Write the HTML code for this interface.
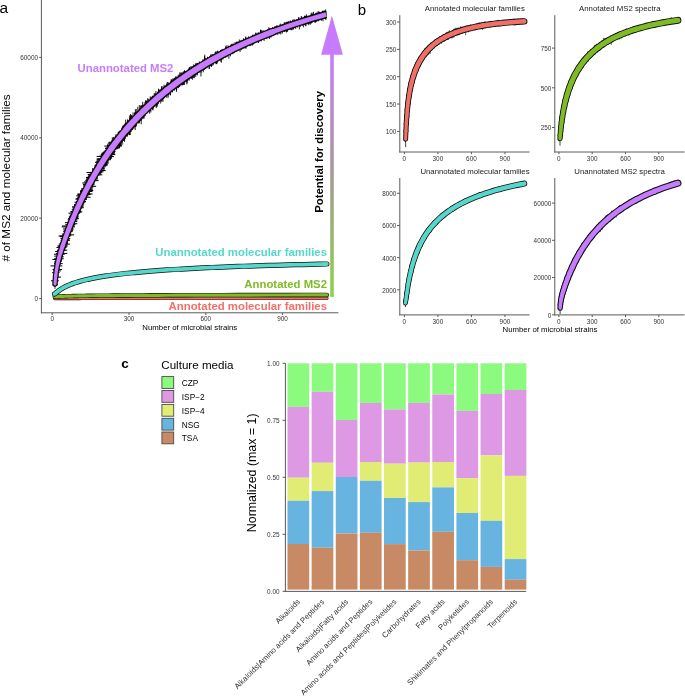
<!DOCTYPE html>
<html><head><meta charset="utf-8"><style>
html,body{margin:0;padding:0;background:#fff;}
svg{display:block;will-change:transform;font-family:"Liberation Sans", sans-serif;}
</style></head><body>
<svg width="685" height="696" viewBox="0 0 685 696">
<rect width="685" height="696" fill="#fff"/>
<text x="-0.6" y="12.6" font-size="15.5" text-anchor="start" font-weight="normal" fill="#000">a</text>
<line x1="41.4" y1="0" x2="41.4" y2="313.3" stroke="#5A5A5A" stroke-width="1"/>
<line x1="40.9" y1="312.8" x2="338.4" y2="312.8" stroke="#5A5A5A" stroke-width="1"/>
<line x1="39.2" y1="298.6" x2="41.4" y2="298.6" stroke="#5A5A5A" stroke-width="1"/>
<text x="38.0" y="300.90000000000003" font-size="6.4" text-anchor="end" font-weight="normal" fill="#333333">0</text>
<line x1="39.2" y1="218.20000000000002" x2="41.4" y2="218.20000000000002" stroke="#5A5A5A" stroke-width="1"/>
<text x="38.0" y="220.50000000000003" font-size="6.4" text-anchor="end" font-weight="normal" fill="#333333">20000</text>
<line x1="39.2" y1="137.8" x2="41.4" y2="137.8" stroke="#5A5A5A" stroke-width="1"/>
<text x="38.0" y="140.10000000000002" font-size="6.4" text-anchor="end" font-weight="normal" fill="#333333">40000</text>
<line x1="39.2" y1="57.400000000000006" x2="41.4" y2="57.400000000000006" stroke="#5A5A5A" stroke-width="1"/>
<text x="38.0" y="59.7" font-size="6.4" text-anchor="end" font-weight="normal" fill="#333333">60000</text>
<line x1="52.2" y1="312.8" x2="52.2" y2="315.0" stroke="#5A5A5A" stroke-width="1"/>
<text x="52.2" y="320.6" font-size="6.4" text-anchor="middle" font-weight="normal" fill="#333333">0</text>
<line x1="129.0" y1="312.8" x2="129.0" y2="315.0" stroke="#5A5A5A" stroke-width="1"/>
<text x="129.0" y="320.6" font-size="6.4" text-anchor="middle" font-weight="normal" fill="#333333">300</text>
<line x1="205.8" y1="312.8" x2="205.8" y2="315.0" stroke="#5A5A5A" stroke-width="1"/>
<text x="205.8" y="320.6" font-size="6.4" text-anchor="middle" font-weight="normal" fill="#333333">600</text>
<line x1="282.6" y1="312.8" x2="282.6" y2="315.0" stroke="#5A5A5A" stroke-width="1"/>
<text x="282.6" y="320.6" font-size="6.4" text-anchor="middle" font-weight="normal" fill="#333333">900</text>
<text x="189.8" y="329.7" font-size="7.8" text-anchor="middle" font-weight="normal" fill="#000">Number of microbial strains</text>
<text x="9.7" y="177.9" font-size="11.75" text-anchor="middle" font-weight="normal" fill="#000" transform="rotate(-90 9.7 177.9)"># of MS2 and molecular families</text>
<path d="M54.76,298.54 L54.97,298.53 L55.20,298.53 L55.45,298.52 L55.71,298.52 L56.00,298.52 L56.32,298.51 L56.66,298.51 L57.03,298.50 L57.42,298.50 L57.85,298.50 L58.32,298.49 L58.83,298.49 L59.37,298.49 L59.96,298.48 L60.60,298.48 L61.30,298.47 L62.05,298.47 L62.86,298.47 L63.74,298.46 L64.69,298.46 L65.72,298.46 L66.84,298.45 L68.04,298.45 L69.35,298.45 L70.76,298.44 L72.29,298.44 L73.95,298.44 L75.75,298.43 L77.69,298.43 L79.79,298.43 L82.07,298.42 L84.53,298.42 L87.19,298.42 L90.08,298.41 L93.20,298.41 L96.59,298.41 L100.25,298.41 L104.21,298.40 L108.50,298.40 L113.14,298.40 L118.17,298.39 L123.61,298.39 L129.50,298.39 L135.87,298.39 L142.77,298.38 L150.24,298.38 L158.33,298.38 L167.08,298.38 L176.56,298.37 L186.81,298.37 L197.91,298.37 L209.93,298.37 L222.94,298.37 L237.02,298.36 L252.27,298.36 L268.77,298.36 L286.63,298.36 L305.96,298.36 L326.89,298.36" fill="none" stroke="#111" stroke-width="3.4" stroke-linecap="round"/><path d="M54.76,298.54 L54.97,298.53 L55.20,298.53 L55.45,298.52 L55.71,298.52 L56.00,298.52 L56.32,298.51 L56.66,298.51 L57.03,298.50 L57.42,298.50 L57.85,298.50 L58.32,298.49 L58.83,298.49 L59.37,298.49 L59.96,298.48 L60.60,298.48 L61.30,298.47 L62.05,298.47 L62.86,298.47 L63.74,298.46 L64.69,298.46 L65.72,298.46 L66.84,298.45 L68.04,298.45 L69.35,298.45 L70.76,298.44 L72.29,298.44 L73.95,298.44 L75.75,298.43 L77.69,298.43 L79.79,298.43 L82.07,298.42 L84.53,298.42 L87.19,298.42 L90.08,298.41 L93.20,298.41 L96.59,298.41 L100.25,298.41 L104.21,298.40 L108.50,298.40 L113.14,298.40 L118.17,298.39 L123.61,298.39 L129.50,298.39 L135.87,298.39 L142.77,298.38 L150.24,298.38 L158.33,298.38 L167.08,298.38 L176.56,298.37 L186.81,298.37 L197.91,298.37 L209.93,298.37 L222.94,298.37 L237.02,298.36 L252.27,298.36 L268.77,298.36 L286.63,298.36 L305.96,298.36 L326.89,298.36" fill="none" stroke="#F07068" stroke-width="2.2" stroke-linecap="round"/>
<path d="M54.76,296.76 L54.97,296.74 L55.20,296.72 L55.45,296.70 L55.71,296.68 L56.00,296.65 L56.32,296.63 L56.66,296.61 L57.03,296.58 L57.42,296.56 L57.85,296.54 L58.32,296.51 L58.83,296.48 L59.37,296.46 L59.96,296.43 L60.60,296.40 L61.30,296.38 L62.05,296.35 L62.86,296.32 L63.74,296.29 L64.69,296.26 L65.72,296.22 L66.84,296.19 L68.04,296.16 L69.35,296.13 L70.76,296.09 L72.29,296.06 L73.95,296.02 L75.75,295.99 L77.69,295.95 L79.79,295.91 L82.07,295.88 L84.53,295.84 L87.19,295.80 L90.08,295.77 L93.20,295.73 L96.59,295.69 L100.25,295.65 L104.21,295.61 L108.50,295.58 L113.14,295.54 L118.17,295.50 L123.61,295.46 L129.50,295.43 L135.87,295.39 L142.77,295.35 L150.24,295.32 L158.33,295.28 L167.08,295.25 L176.56,295.21 L186.81,295.18 L197.91,295.15 L209.93,295.11 L222.94,295.08 L237.02,295.06 L252.27,295.03 L268.77,295.00 L286.63,294.98 L305.96,294.95 L326.89,294.93" fill="none" stroke="#111" stroke-width="4.4" stroke-linecap="round"/><path d="M54.76,296.76 L54.97,296.74 L55.20,296.72 L55.45,296.70 L55.71,296.68 L56.00,296.65 L56.32,296.63 L56.66,296.61 L57.03,296.58 L57.42,296.56 L57.85,296.54 L58.32,296.51 L58.83,296.48 L59.37,296.46 L59.96,296.43 L60.60,296.40 L61.30,296.38 L62.05,296.35 L62.86,296.32 L63.74,296.29 L64.69,296.26 L65.72,296.22 L66.84,296.19 L68.04,296.16 L69.35,296.13 L70.76,296.09 L72.29,296.06 L73.95,296.02 L75.75,295.99 L77.69,295.95 L79.79,295.91 L82.07,295.88 L84.53,295.84 L87.19,295.80 L90.08,295.77 L93.20,295.73 L96.59,295.69 L100.25,295.65 L104.21,295.61 L108.50,295.58 L113.14,295.54 L118.17,295.50 L123.61,295.46 L129.50,295.43 L135.87,295.39 L142.77,295.35 L150.24,295.32 L158.33,295.28 L167.08,295.25 L176.56,295.21 L186.81,295.18 L197.91,295.15 L209.93,295.11 L222.94,295.08 L237.02,295.06 L252.27,295.03 L268.77,295.00 L286.63,294.98 L305.96,294.95 L326.89,294.93" fill="none" stroke="#7FBB24" stroke-width="3.2" stroke-linecap="round"/>
<line x1="54.50" y1="293.89" x2="54.50" y2="296.89" stroke="#111" stroke-width="0.8"/><path d="M54.50,293.89 L54.57,293.86 L54.65,293.82 L54.72,293.78 L54.80,293.73 L54.88,293.68 L54.96,293.63 L55.04,293.57 L55.13,293.51 L55.22,293.45 L55.31,293.38 L55.41,293.31 L55.51,293.24 L55.61,293.16 L55.71,293.08 L55.82,292.99 L55.93,292.91 L56.04,292.82 L56.16,292.72 L56.28,292.63 L56.40,292.53 L56.53,292.42 L56.66,292.32 L56.80,292.21 L56.94,292.10 L57.09,291.98 L57.24,291.86 L57.39,291.74 L57.55,291.62 L57.71,291.49 L57.88,291.36 L58.05,291.23 L58.23,291.09 L58.41,290.96 L58.60,290.82 L58.80,290.67 L59.00,290.53 L59.21,290.38 L59.42,290.23 L59.64,290.07 L59.87,289.91 L60.10,289.76 L60.35,289.59 L60.59,289.43 L60.85,289.26 L61.12,289.09 L61.39,288.92 L61.67,288.75 L61.96,288.57 L62.25,288.39 L62.56,288.21 L62.88,288.03 L63.20,287.85 L63.54,287.66 L63.89,287.47 L64.24,287.28 L64.61,287.09 L64.99,286.89 L65.38,286.70 L65.78,286.50 L66.20,286.30 L66.62,286.09 L67.06,285.89 L67.52,285.68 L67.99,285.47 L68.47,285.26 L68.96,285.05 L69.48,284.84 L70.00,284.63 L70.55,284.41 L71.11,284.19 L71.68,283.97 L72.28,283.75 L72.89,283.53 L73.52,283.31 L74.17,283.08 L74.84,282.86 L75.54,282.63 L76.25,282.40 L76.98,282.17 L77.74,281.94 L78.52,281.71 L79.32,281.48 L80.15,281.25 L81.00,281.01 L81.88,280.78 L82.79,280.54 L83.72,280.30 L84.68,280.07 L85.67,279.83 L86.70,279.59 L87.75,279.35 L88.84,279.11 L89.95,278.87 L91.11,278.62 L92.29,278.38 L93.52,278.14 L94.78,277.90 L96.08,277.65 L97.42,277.41 L98.80,277.17 L100.22,276.92 L101.69,276.68 L103.20,276.43 L104.75,276.19 L106.36,275.94 L108.01,275.70 L109.71,275.46 L111.47,275.21 L113.28,274.97 L115.14,274.72 L117.07,274.48 L119.05,274.24 L121.09,273.99 L123.19,273.75 L125.36,273.51 L127.59,273.26 L129.89,273.02 L132.26,272.78 L134.71,272.54 L137.22,272.30 L139.82,272.06 L142.49,271.82 L145.25,271.59 L148.09,271.35 L151.02,271.12 L154.04,270.88 L157.14,270.65 L160.35,270.41 L163.65,270.18 L167.05,269.95 L170.56,269.72 L174.17,269.49 L177.89,269.27 L181.73,269.04 L185.68,268.82 L189.76,268.60 L193.96,268.38 L198.28,268.16 L202.74,267.94 L207.34,267.72 L212.07,267.51 L216.96,267.30 L221.98,267.08 L227.17,266.88 L232.51,266.67 L238.01,266.46 L243.68,266.26 L249.53,266.06 L255.55,265.86 L261.76,265.66 L268.16,265.47 L274.75,265.28 L281.54,265.09 L288.54,264.90 L295.76,264.72 L303.19,264.53 L310.86,264.35 L318.75,264.18 L326.89,264.00" fill="none" stroke="#111" stroke-width="5.2" stroke-linecap="round" stroke-linejoin="round"/><path d="M54.50,293.89 L54.57,293.86 L54.65,293.82 L54.72,293.78 L54.80,293.73 L54.88,293.68 L54.96,293.63 L55.04,293.57 L55.13,293.51 L55.22,293.45 L55.31,293.38 L55.41,293.31 L55.51,293.24 L55.61,293.16 L55.71,293.08 L55.82,292.99 L55.93,292.91 L56.04,292.82 L56.16,292.72 L56.28,292.63 L56.40,292.53 L56.53,292.42 L56.66,292.32 L56.80,292.21 L56.94,292.10 L57.09,291.98 L57.24,291.86 L57.39,291.74 L57.55,291.62 L57.71,291.49 L57.88,291.36 L58.05,291.23 L58.23,291.09 L58.41,290.96 L58.60,290.82 L58.80,290.67 L59.00,290.53 L59.21,290.38 L59.42,290.23 L59.64,290.07 L59.87,289.91 L60.10,289.76 L60.35,289.59 L60.59,289.43 L60.85,289.26 L61.12,289.09 L61.39,288.92 L61.67,288.75 L61.96,288.57 L62.25,288.39 L62.56,288.21 L62.88,288.03 L63.20,287.85 L63.54,287.66 L63.89,287.47 L64.24,287.28 L64.61,287.09 L64.99,286.89 L65.38,286.70 L65.78,286.50 L66.20,286.30 L66.62,286.09 L67.06,285.89 L67.52,285.68 L67.99,285.47 L68.47,285.26 L68.96,285.05 L69.48,284.84 L70.00,284.63 L70.55,284.41 L71.11,284.19 L71.68,283.97 L72.28,283.75 L72.89,283.53 L73.52,283.31 L74.17,283.08 L74.84,282.86 L75.54,282.63 L76.25,282.40 L76.98,282.17 L77.74,281.94 L78.52,281.71 L79.32,281.48 L80.15,281.25 L81.00,281.01 L81.88,280.78 L82.79,280.54 L83.72,280.30 L84.68,280.07 L85.67,279.83 L86.70,279.59 L87.75,279.35 L88.84,279.11 L89.95,278.87 L91.11,278.62 L92.29,278.38 L93.52,278.14 L94.78,277.90 L96.08,277.65 L97.42,277.41 L98.80,277.17 L100.22,276.92 L101.69,276.68 L103.20,276.43 L104.75,276.19 L106.36,275.94 L108.01,275.70 L109.71,275.46 L111.47,275.21 L113.28,274.97 L115.14,274.72 L117.07,274.48 L119.05,274.24 L121.09,273.99 L123.19,273.75 L125.36,273.51 L127.59,273.26 L129.89,273.02 L132.26,272.78 L134.71,272.54 L137.22,272.30 L139.82,272.06 L142.49,271.82 L145.25,271.59 L148.09,271.35 L151.02,271.12 L154.04,270.88 L157.14,270.65 L160.35,270.41 L163.65,270.18 L167.05,269.95 L170.56,269.72 L174.17,269.49 L177.89,269.27 L181.73,269.04 L185.68,268.82 L189.76,268.60 L193.96,268.38 L198.28,268.16 L202.74,267.94 L207.34,267.72 L212.07,267.51 L216.96,267.30 L221.98,267.08 L227.17,266.88 L232.51,266.67 L238.01,266.46 L243.68,266.26 L249.53,266.06 L255.55,265.86 L261.76,265.66 L268.16,265.47 L274.75,265.28 L281.54,265.09 L288.54,264.90 L295.76,264.72 L303.19,264.53 L310.86,264.35 L318.75,264.18 L326.89,264.00" fill="none" stroke="#55D8CB" stroke-width="3.8" stroke-linecap="round" stroke-linejoin="round"/>
<path d="M52.53,284.74H58.09M51.04,280.79H58.79M52.98,277.11H60.94M52.15,272.67H59.61M53.47,270.88H60.87M52.59,269.58H62.07M50.47,265.91H62.33M54.10,263.64H62.65M54.56,263.29H60.86M54.10,261.93H60.95M52.41,259.54H62.17M54.16,258.73H63.70M56.02,256.80H63.70M56.17,256.63H62.52M54.25,256.13H62.80M53.91,254.26H64.73M56.03,253.40H67.37M55.23,251.47H63.87M57.56,250.56H65.44M56.92,250.17H67.30M58.16,247.77H65.71M56.50,247.49H66.29M57.40,245.91H67.77M57.92,246.89H67.13M58.90,245.81H66.38M58.76,244.00H67.19M59.96,244.11H69.93M60.17,243.01H67.93M60.70,240.54H69.80M60.52,238.58H70.26M61.68,239.17H69.61M59.94,236.68H68.63M59.79,236.05H69.66M58.62,236.05H69.92M62.68,234.89H74.14M62.08,234.02H70.41M63.29,234.79H70.76M62.93,231.18H72.76M64.22,230.70H73.15M63.07,228.98H73.51M65.10,229.14H73.28M61.78,226.88H74.89M62.01,226.01H74.85M65.25,224.69H75.37M66.99,223.72H77.29M64.87,222.68H74.87M67.93,221.60H77.22M67.66,219.84H75.90M67.99,218.65H78.88M69.43,216.89H78.78M68.85,217.07H78.03M70.72,214.90H78.65M68.47,213.15H80.04M70.39,211.66H81.06M70.70,211.93H82.30M72.31,211.87H81.27M71.75,209.73H80.58M72.22,207.92H81.97M73.93,207.73H83.80M72.05,206.82H83.12M75.15,206.05H83.52M74.46,202.25H83.76M76.17,201.65H86.04M75.95,201.77H85.34M75.32,198.98H86.67M76.63,199.46H86.82M76.37,198.61H86.70M76.22,195.84H88.03M77.46,197.24H90.59M77.42,194.59H90.73M78.18,195.00H87.91M77.42,193.97H92.63M81.12,193.21H89.42M79.99,191.47H92.48M80.27,190.54H93.27M82.59,189.97H91.32M81.89,189.18H93.02M83.32,185.68H93.12M83.53,186.32H96.13M82.93,184.43H92.78M82.31,183.02H94.04M85.55,183.75H93.81M83.90,181.94H94.21M85.33,180.63H98.63M85.84,179.21H96.28M87.62,178.94H98.09M85.95,177.52H96.58M88.60,176.47H96.87M88.11,176.24H97.74M88.69,174.99H99.20M87.67,174.67H98.64M88.06,174.84H102.33M90.29,173.81H100.95M86.49,172.47H100.43M92.05,170.85H102.61M92.36,171.88H103.35M93.20,170.74H104.56M92.94,170.49H105.66M92.29,168.99H104.38M94.50,166.38H103.50M94.81,167.16H103.71M94.61,165.43H104.24M94.95,164.98H107.85M96.58,164.71H105.86M97.08,164.49H107.44M97.26,163.22H106.66M95.03,162.28H107.21M96.95,159.72H108.80M96.47,158.91H110.83M98.51,159.12H109.51M100.22,159.75H110.82M96.69,156.44H109.87M99.13,156.41H110.52M99.51,156.08H112.96M100.06,156.62H113.98M101.61,154.39H115.36M102.04,153.97H114.68M100.76,154.30H114.42M102.51,152.99H114.03M104.31,151.10H113.98M104.62,151.13H114.15M105.55,151.42H115.60M105.04,148.42H115.23M105.95,148.06H119.54M105.51,148.17H117.58M104.30,146.07H117.43M106.95,145.45H121.73M107.16,147.19H120.08M108.87,146.14H120.57M107.42,145.21H121.01M108.05,142.99H120.26M110.46,144.56H120.61M108.62,143.94H123.25M111.34,140.73H121.32M108.75,142.20H122.98M111.94,141.23H122.69M112.80,139.76H124.88M112.11,140.31H123.91" stroke="#000" stroke-width="1.0" fill="none"/>
<line x1="55.02" y1="283.91" x2="55.02" y2="288.91" stroke="#111" stroke-width="0.8"/><path d="M55.02,279.55V287.00M55.17,277.37V284.63M55.32,277.25V284.16M55.48,271.39V280.82M55.63,271.45V280.21M55.78,272.63V280.81M55.94,270.83V278.27M56.09,267.81V277.30M56.24,268.43V276.19M56.40,266.95V273.99M56.55,266.83V273.20M56.71,264.16V271.81M56.86,262.74V273.09M57.01,263.96V271.42M57.17,259.76V268.68M57.32,260.87V270.15M57.47,259.58V268.39M57.63,257.26V268.32M57.78,259.10V266.36M57.93,257.47V266.58M58.09,258.19V266.00M58.24,257.76V266.59M58.40,256.94V263.44M58.55,254.12V265.01M58.70,255.79V266.55M58.86,253.57V264.38M59.01,249.91V261.19M59.16,251.10V264.52M59.32,250.52V261.94M59.47,249.78V260.46M59.62,250.05V260.89M59.78,250.07V260.49M59.93,249.90V260.61M60.08,247.14V262.56M60.24,244.71V257.83M60.39,248.74V256.52M60.55,248.44V256.10M60.70,242.81V258.51M60.85,243.26V257.98M61.01,243.35V256.76M61.16,244.33V256.95M61.31,242.07V254.69M61.47,241.52V261.72M61.62,243.62V256.00M61.77,241.52V255.59M61.93,243.34V256.50M62.08,240.66V255.71M62.24,240.64V252.20M62.39,239.97V256.51M62.54,241.01V250.14M62.70,241.53V249.88M62.85,237.77V249.33M63.00,240.77V252.77M63.16,234.50V248.64M63.31,237.55V247.96M63.46,237.61V249.66M63.62,238.90V250.17M63.77,236.72V246.74M63.92,237.41V246.54M64.08,235.46V248.53M64.23,236.57V246.82M64.39,236.15V244.65M64.54,232.14V244.41M64.69,231.77V245.72M64.85,234.66V249.90M65.00,234.87V243.38M65.15,234.23V243.81M65.31,233.12V245.13M65.46,233.03V243.36M65.61,233.17V244.99M65.77,232.29V241.21M65.92,232.17V241.72M66.08,230.45V245.17M66.23,230.32V240.26M66.38,230.46V240.28M66.54,228.88V239.47M66.69,228.52V239.60M66.84,229.47V242.60M67.00,228.01V241.10M67.15,226.12V237.73M67.30,223.98V239.55M67.46,228.02V244.15M67.61,226.89V240.46M67.76,223.59V237.36M67.92,223.26V236.12M68.07,226.01V240.04M68.23,221.45V234.47M68.38,225.30V237.70M68.53,223.48V234.68M68.69,224.02V233.29M68.84,221.75V234.96M68.99,224.30V234.44M69.15,222.25V235.10M69.30,222.44V232.32M69.45,222.16V234.10M69.61,217.77V232.38M69.76,222.34V231.13M69.92,216.81V230.92M70.07,219.86V232.09M70.22,214.30V230.04M70.38,218.16V229.80M70.53,218.70V228.27M70.68,217.83V236.46M70.84,219.43V229.15M70.99,217.30V232.38M71.14,215.51V227.66M71.30,217.73V228.76M71.45,216.61V226.05M71.60,215.09V231.65M71.76,217.05V225.31M71.91,216.55V228.97M72.07,216.70V228.99M72.22,213.41V224.61M72.37,215.43V226.11M72.53,212.43V227.98M72.68,212.46V223.96M72.83,212.89V227.27M72.99,211.34V223.71M73.14,212.67V223.28M73.29,210.64V222.18M73.45,210.07V223.89M73.60,210.46V221.33M73.76,210.57V222.43M73.91,211.58V222.83M74.06,211.80V220.69M74.22,208.82V221.20M74.37,209.94V222.63M74.52,204.01V224.71M74.68,210.39V218.83M74.83,205.48V218.18M74.98,206.85V217.80M75.14,208.12V219.64M75.29,204.08V221.17M75.44,206.76V218.71M75.60,208.02V216.67M75.75,206.20V216.69M75.91,206.22V218.05M76.06,206.29V218.12M76.21,203.57V214.69M76.37,204.44V215.34M76.52,205.69V216.06M76.67,201.11V216.75M76.83,204.51V221.01M76.98,202.39V213.20M77.13,202.80V218.85M77.29,203.93V213.30M77.44,200.58V213.35M77.60,201.90V213.05M77.75,197.71V216.40M77.90,201.55V212.90M78.06,196.72V212.42M78.21,202.02V211.45M78.36,200.18V210.83M78.52,196.76V210.57M78.67,199.33V210.12M78.82,199.42V209.82M78.98,193.86V212.16M79.13,199.83V211.50M79.28,194.21V207.83M79.44,194.43V210.17M79.59,195.92V208.64M79.75,199.05V212.89M79.90,197.91V211.06M80.05,197.72V206.44M80.21,197.35V206.00M80.36,196.33V207.32M80.51,192.52V205.21M80.67,191.70V210.84M80.82,192.98V206.62M80.97,194.62V208.55M81.13,196.20V204.03M81.28,195.16V203.78M81.44,194.40V203.43M81.59,192.10V203.99M81.74,188.14V202.74M81.90,194.04V203.83M82.05,192.30V205.28M82.20,193.51V204.36M82.36,193.00V201.62M82.51,188.78V203.00M82.66,192.94V202.20M82.82,188.35V206.23M82.97,190.53V201.59M83.12,190.24V201.51M83.28,187.71V204.14M83.43,189.36V199.94M83.59,189.31V200.37M83.74,188.23V204.72M83.89,189.59V202.65M84.05,188.44V198.93M84.20,189.15V202.30M84.35,189.19V201.82M84.51,187.20V199.66M84.66,185.50V197.89M84.81,186.93V202.24M84.97,186.47V196.30M85.12,187.19V195.97M85.28,186.06V195.46M85.43,183.94V196.33M85.58,186.19V195.98M85.74,182.68V194.94M85.89,185.99V194.77M86.04,182.38V198.76M86.20,185.86V197.19M86.35,180.73V194.09M86.50,185.31V195.10M86.66,185.01V194.57M86.81,183.33V194.52M86.96,184.58V194.99M87.12,176.68V194.78M87.27,182.72V193.98M87.43,181.47V194.61M87.58,182.08V190.96M87.73,180.30V193.45M87.89,181.52V196.58M88.04,178.33V191.23M88.19,181.93V190.26M88.35,176.77V190.80M88.50,179.41V190.78M88.65,181.28V191.49M88.81,179.34V190.27M88.96,177.44V190.65M89.12,176.32V188.62M89.27,176.91V189.11M89.42,177.28V189.19M89.58,179.34V194.53M89.73,177.23V188.32M89.88,178.99V187.51M90.04,175.35V187.71M90.19,173.49V186.81M90.34,178.36V186.02M90.50,174.20V186.35M90.65,175.42V188.41M90.80,174.98V191.09M90.96,174.99V185.32M91.11,176.55V189.60M91.27,173.98V184.34M91.42,175.09V185.94M91.57,174.89V184.37M91.73,175.09V183.53M91.88,175.25V186.29M92.03,175.30V185.23M92.19,172.22V183.06M92.34,172.85V185.25M92.49,174.01V184.94M92.65,170.92V188.38M92.80,168.02V181.90M92.96,171.55V181.34M93.11,173.17V185.29M93.26,169.30V183.56M93.42,172.79V184.34M93.57,172.12V181.89M93.72,171.58V181.81M93.88,172.03V180.80M94.03,170.33V185.40M94.18,168.95V180.89M94.34,170.91V178.76M94.49,168.02V179.64M94.64,168.73V178.58M94.80,167.05V181.85M94.95,166.78V179.38M95.11,166.79V180.94M95.26,169.49V180.80M95.41,168.45V179.45M95.57,165.74V177.70M95.72,167.80V178.28M95.87,166.84V176.96M96.03,168.38V177.23M96.18,166.77V175.60M96.33,167.87V176.80M96.49,166.45V178.15M96.64,166.82V177.22M96.80,163.67V176.09M96.95,160.28V176.53M97.10,164.31V174.78M97.26,160.99V178.57M97.41,160.45V176.17M97.56,163.98V175.39M97.72,163.52V173.03M97.87,164.09V174.48M98.02,164.94V175.32M98.18,158.31V173.92M98.33,161.65V174.61M98.48,163.75V174.15M98.64,163.08V173.97M98.79,161.26V175.63M98.95,163.60V172.25M99.10,160.44V170.97M99.25,160.12V170.36M99.41,162.66V171.73M99.56,159.60V170.80M99.71,161.73V170.03M99.87,161.96V171.93M100.02,158.96V170.23M100.17,160.36V171.22M100.33,160.42V169.71M100.48,160.00V174.19M100.64,159.90V173.24M100.79,157.95V169.76M100.94,159.39V168.85M101.10,160.08V167.49M101.25,159.18V172.35M101.40,159.12V173.29M101.56,158.46V168.72M101.71,157.22V167.01M101.86,158.27V170.28M102.02,153.76V168.98M102.17,152.67V168.45M102.32,153.74V168.47M102.48,156.22V169.14M102.63,157.01V165.86M102.79,157.46V166.34M102.94,152.33V165.02M103.09,156.80V167.03M103.25,155.25V164.69M103.40,154.30V163.87M103.55,151.44V169.22M103.71,155.37V165.81M103.86,154.99V165.32M104.01,155.00V166.77M104.17,155.19V169.59M104.32,152.01V165.52M104.48,152.56V163.26M104.63,151.95V164.23M104.78,152.63V164.17M104.94,151.90V162.47M105.09,150.94V165.62M105.24,151.92V167.34M105.40,151.54V162.51M105.55,152.09V165.83M105.70,149.88V163.54M105.86,150.52V163.33M106.01,150.65V162.52M106.16,152.25V164.14M106.32,148.13V166.21M106.47,148.95V159.87M106.63,151.24V159.35M106.78,150.89V159.26M106.93,148.19V164.53M107.09,151.21V160.23M107.24,150.61V158.60M107.39,148.17V159.57M107.55,148.29V158.51M107.70,148.39V163.11M107.85,143.53V161.24M108.01,149.02V163.99M108.16,147.43V157.25M108.32,148.85V157.94M108.47,148.62V157.74M108.62,146.89V157.09M108.78,147.53V159.15M108.93,148.43V158.05M109.08,147.84V158.25M109.24,147.09V156.50M109.39,146.91V155.02M109.54,147.34V155.51M109.70,145.33V157.49M109.85,143.47V154.29M110.00,144.93V155.36M110.16,144.92V154.21M110.31,144.59V156.77M110.47,144.20V159.75M110.62,144.13V158.79M110.77,145.87V155.88M110.93,143.94V156.45M111.08,143.40V157.48M111.23,144.44V152.26M111.39,142.15V158.95M111.54,141.26V152.21M111.69,143.71V153.34M111.85,142.77V154.37M112.00,144.14V153.84M112.16,143.90V151.23M112.31,137.28V153.14M112.46,143.32V151.00M112.62,142.22V153.27M112.77,141.86V152.42M112.92,138.42V152.51M113.08,141.32V149.82M113.23,139.77V150.53M113.38,142.32V150.69M113.54,140.54V149.77M113.69,136.90V152.08M113.84,137.26V154.78M114.00,140.64V149.05M114.15,140.33V150.49M114.31,141.01V148.04M114.46,140.74V153.07M114.61,140.36V150.00M114.77,139.03V148.04M114.92,138.57V149.70M115.07,138.77V149.57M115.23,136.68V149.96M115.38,135.88V146.99M115.53,139.07V148.68M115.69,135.54V146.75M115.84,137.67V146.99M116.00,134.10V148.24M116.15,138.69V148.03M116.30,135.79V145.58M116.46,137.82V147.47M116.61,137.03V145.64M116.76,136.27V149.62M116.92,137.66V148.71M117.07,135.16V148.40M117.22,134.03V147.77M117.38,136.53V148.17M117.53,135.15V147.24M117.68,135.77V145.42M117.84,135.63V144.14M117.99,134.60V146.42M118.15,132.82V146.23M118.30,132.21V144.58M118.45,131.55V142.92M118.61,134.72V143.41M118.76,132.88V143.15M118.91,132.65V145.95M119.07,133.17V142.37M119.22,132.26V144.50M119.37,133.68V148.16M119.53,132.57V142.44M119.68,131.53V141.53M119.84,130.76V142.12M119.99,130.73V146.18M120.14,132.42V143.79M120.30,132.82V141.37M120.45,131.34V142.18M120.60,131.75V142.35M120.76,132.41V141.74M120.91,130.97V140.34M121.06,132.27V147.00M121.22,130.39V142.85M121.37,132.00V139.20M121.52,129.98V141.11M121.68,128.29V139.37M121.83,129.93V139.75M121.99,130.00V139.68M122.14,127.38V139.05M122.29,128.12V141.86M122.45,130.38V141.59M122.60,127.42V141.26M122.75,126.11V139.46M122.91,126.91V138.55M123.06,125.40V139.51M123.21,129.62V137.12M123.37,129.49V136.87M123.52,128.09V136.29M123.68,124.96V140.66M123.83,128.46V138.30M123.98,128.47V137.93M124.14,128.64V137.56M124.29,124.29V138.28M124.44,126.79V136.78M124.60,127.76V141.93M124.75,126.02V135.31M124.90,123.67V135.31M125.06,127.01V138.18M125.21,123.64V139.07M125.36,127.27V134.57M125.52,122.78V136.19M125.67,119.66V135.56M125.83,123.38V134.90M125.98,123.96V136.87M126.13,123.11V133.64M126.29,125.51V135.27M126.44,124.96V133.75M126.59,123.85V136.01M126.75,125.57V134.26M126.90,122.02V135.58M127.05,124.06V136.98M127.21,121.57V136.21M127.36,124.53V132.72M127.52,119.44V135.48M127.67,122.84V133.72M127.82,123.91V131.96M127.98,119.72V131.81M128.13,121.03V134.27M128.28,123.07V131.37M128.44,120.11V133.02M128.59,122.18V131.74M128.74,121.72V131.68M128.90,121.74V134.62M129.05,122.26V130.77M129.20,121.39V135.22M129.36,121.99V131.32M129.51,118.34V135.00M129.67,115.40V131.97M129.82,119.67V132.08M129.97,119.43V129.00M130.13,118.78V130.11M130.28,119.81V135.00M130.43,113.99V129.97M130.59,116.52V130.34M130.74,117.29V131.98M130.89,116.89V127.62M131.05,117.66V127.86M131.20,114.82V131.75M131.36,120.28V129.68M131.51,119.92V127.16M131.66,115.05V130.15M131.82,119.90V129.74M131.97,117.78V127.25M132.12,117.26V129.48M132.28,118.77V129.52M132.43,119.03V130.18M132.58,117.18V126.27M132.74,116.63V128.55M132.89,115.57V129.19M133.04,112.41V126.44M133.20,116.61V126.86M133.35,117.46V126.94M133.51,117.41V125.39M133.66,116.41V126.02M133.81,116.78V128.87M133.97,116.51V127.91M134.12,117.14V126.51M134.27,117.09V125.01M134.43,113.44V125.79M134.58,114.54V125.45M134.73,112.36V125.56M134.89,115.78V127.01M135.04,112.54V126.93M135.20,114.64V130.14M135.35,109.23V126.80M135.50,113.33V122.93M135.66,115.32V122.58M135.81,111.82V123.94M135.96,114.33V122.57M136.12,112.25V122.03M136.27,109.07V123.54M136.42,114.40V126.52M136.58,111.63V124.81M136.73,112.28V122.56M136.88,114.43V123.74M137.04,113.52V122.19M137.19,113.00V122.65M137.35,112.41V122.02M137.50,111.58V121.09M137.65,113.54V122.88M137.81,106.70V122.23M137.96,113.39V120.32M138.11,111.08V122.07M138.27,110.54V120.57M138.42,111.89V121.32M138.57,111.81V119.74M138.73,109.52V123.35M138.88,111.21V123.56M139.04,110.30V122.62M139.19,111.57V120.45M139.34,105.03V121.60M139.50,108.85V122.68M139.65,110.66V120.09M139.80,108.27V119.69M139.96,110.36V120.09M140.11,109.49V119.27M140.26,110.75V117.86M140.42,109.78V121.07M140.57,105.57V120.22M140.72,108.74V117.95M140.88,110.28V118.29M141.03,109.27V121.14M141.19,108.24V124.25M141.34,105.16V119.01M141.49,108.92V116.51M141.65,106.11V119.19M141.80,109.16V119.78M141.95,108.92V116.85M142.11,108.98V116.77M142.26,105.04V117.84M142.41,106.67V118.60M142.57,107.06V115.40M142.72,101.85V114.99M142.88,105.71V115.99M143.03,104.31V117.62M143.18,105.43V118.32M143.34,107.77V118.43M143.49,107.08V116.53M143.64,107.60V117.29M143.80,105.15V113.90M143.95,107.35V114.04M144.10,105.81V118.68M144.26,107.16V116.42M144.41,105.78V115.20M144.56,105.20V113.50M144.72,104.98V113.05M144.87,102.19V116.26M145.03,104.34V113.94M145.18,105.31V115.73M145.33,104.44V112.44M145.49,100.42V113.98M145.64,104.92V114.00M145.79,104.63V114.17M145.95,105.36V112.21M146.10,100.26V112.08M146.25,104.52V112.63M146.41,100.82V112.26M146.56,104.87V111.45M146.72,101.86V112.69M146.87,101.51V111.47M147.02,101.13V112.55M147.18,103.06V113.39M147.33,103.24V111.22M147.48,103.52V113.03M147.64,98.22V112.30M147.79,101.19V112.82M147.94,101.45V112.03M148.10,102.74V112.01M148.25,103.06V110.60M148.40,101.35V109.75M148.56,98.86V110.10M148.71,101.30V109.29M148.87,100.44V109.67M149.02,100.44V110.94M149.17,101.98V111.55M149.33,101.10V109.02M149.48,99.61V110.50M149.63,100.78V113.73M149.79,100.93V109.44M149.94,100.40V108.38M150.09,100.03V108.29M150.25,96.37V108.21M150.40,97.76V108.22M150.56,99.73V111.01M150.71,100.79V107.41M150.86,100.36V112.49M151.02,98.63V107.93M151.17,99.60V107.45M151.32,99.98V107.69M151.48,97.23V108.86M151.63,99.55V106.75M151.78,99.19V107.68M151.94,97.91V106.25M152.09,96.91V108.60M152.24,95.92V107.92M152.40,98.45V107.63M152.55,95.79V109.85M152.71,96.09V106.42M152.86,98.36V106.54M153.01,98.78V110.43M153.17,97.66V108.50M153.32,97.12V105.86M153.47,95.75V108.10M153.63,95.99V104.58M153.78,96.88V105.82M153.93,95.75V106.24M154.09,95.79V105.25M154.24,92.89V107.07M154.40,96.60V105.80M154.55,96.83V106.28M154.70,96.69V106.19M154.86,97.07V106.48M155.01,94.19V103.55M155.16,93.57V103.57M155.32,96.78V105.31M155.47,96.15V104.81M155.62,93.49V104.36M155.78,95.73V103.30M155.93,91.02V102.74M156.08,94.73V104.22M156.24,95.97V108.06M156.39,94.41V103.70M156.55,93.78V106.47M156.70,94.09V102.38M156.85,93.68V103.94M157.01,94.01V107.03M157.16,93.36V103.13M157.31,94.59V103.77M157.47,92.21V105.35M157.62,93.28V105.22M157.77,92.00V103.57M157.93,92.73V103.55M158.08,92.48V101.00M158.24,91.09V103.92M158.39,91.95V101.96M158.54,88.65V100.36M158.70,92.52V102.00M158.85,89.56V101.10M159.00,90.86V100.69M159.16,90.34V100.85M159.31,91.68V101.99M159.46,93.09V102.07M159.62,92.38V101.09M159.77,92.45V99.38M159.92,90.25V100.71M160.08,89.12V99.84M160.23,90.61V99.83M160.39,90.16V99.92M160.54,90.23V100.71M160.69,89.82V103.56M160.85,89.79V99.95M161.00,91.41V101.45M161.15,88.81V100.73M161.31,91.02V98.70M161.46,86.21V99.49M161.61,88.78V100.12M161.77,89.88V97.59M161.92,87.68V101.73M162.08,89.18V97.75M162.23,90.65V100.43M162.38,89.91V99.32M162.54,89.09V99.47M162.69,88.92V97.51M162.84,86.07V97.27M163.00,90.24V101.77M163.15,89.51V98.21M163.30,88.49V98.96M163.46,87.42V98.89M163.61,88.63V97.37M163.76,89.45V95.77M163.92,87.41V96.97M164.07,84.74V96.52M164.23,88.54V96.01M164.38,88.64V98.16M164.53,87.85V95.53M164.69,87.58V98.24M164.84,86.18V95.71M164.99,86.58V94.87M165.15,86.23V97.05M165.30,84.92V95.17M165.45,85.93V96.77M165.61,87.66V96.89M165.76,88.24V96.93M165.92,86.13V95.67M166.07,86.83V94.78M166.22,87.35V94.25M166.38,85.43V94.80M166.53,83.54V93.71M166.68,85.20V93.55M166.84,86.83V98.03M166.99,86.56V96.11M167.14,85.48V93.71M167.30,81.95V93.33M167.45,84.72V95.08M167.60,85.98V94.18M167.76,82.43V94.11M167.91,85.15V93.06M168.07,84.04V92.27M168.22,85.71V97.58M168.37,84.80V93.25M168.53,85.06V95.00M168.68,82.49V92.35M168.83,83.46V94.92M168.99,84.51V93.39M169.14,85.05V91.51M169.29,85.29V91.24M169.45,82.76V91.41M169.60,84.90V91.64M169.76,84.34V92.97M169.91,83.84V90.87M170.06,83.58V90.91M170.22,83.35V95.20M170.37,81.56V91.44M170.52,84.42V95.39M170.68,83.68V90.35M170.83,83.61V90.74M170.98,80.90V89.95M171.14,79.18V91.84M171.29,82.34V92.00M171.44,79.61V90.31M171.60,83.59V91.57M171.75,80.69V91.89M171.91,82.69V92.43M172.06,83.06V89.30M172.21,82.45V90.53M172.37,82.25V90.56M172.52,81.80V92.22M172.67,78.44V88.86M172.83,81.83V89.61M172.98,80.48V88.69M173.13,80.16V89.84M173.29,82.23V88.49M173.44,81.48V88.56M173.60,78.63V89.25M173.75,81.45V88.11M173.90,79.72V90.45M174.06,79.36V89.33M174.21,78.20V90.68M174.36,79.95V90.01M174.52,80.07V88.32M174.67,77.78V87.13M174.82,78.37V89.72M174.98,79.09V88.39M175.13,80.92V88.15M175.28,79.11V87.36M175.44,80.76V88.37M175.59,76.74V87.85M175.75,78.11V86.25M175.90,78.89V87.22M176.05,76.22V89.15M176.21,79.06V86.10M176.36,77.25V86.35M176.51,79.73V91.84M176.67,79.74V90.33M176.82,78.32V85.69M176.97,76.87V87.30M177.13,78.79V85.98M177.28,79.14V87.11M177.44,77.61V86.20M177.59,78.16V88.00M177.74,77.40V86.23M177.90,75.39V84.79M178.05,77.33V85.37M178.20,78.31V86.94M178.36,75.77V86.79M178.51,78.10V88.16M178.66,76.15V86.28M178.82,74.53V84.62M178.97,75.48V85.21M179.12,77.76V83.73M179.28,77.13V87.07M179.43,75.85V86.49M179.59,75.27V86.45M179.74,76.96V84.75M179.89,72.30V84.98M180.05,77.19V84.12M180.20,72.67V83.25M180.35,75.62V83.05M180.51,74.87V84.43M180.66,76.23V83.85M180.81,75.98V86.24M180.97,74.96V84.18M181.12,75.59V83.35M181.28,73.40V82.20M181.43,72.40V84.18M181.58,75.89V85.02M181.74,75.58V82.98M181.89,72.99V83.20M182.04,76.12V82.41M182.20,74.38V84.15M182.35,75.79V85.25M182.50,75.57V81.32M182.66,74.24V83.42M182.81,72.52V85.22M182.96,72.51V84.41M183.12,74.05V81.64M183.27,72.71V83.04M183.43,71.33V82.69M183.58,74.41V82.84M183.73,74.22V84.84M183.89,73.60V81.49M184.04,71.98V84.83M184.19,73.03V84.97M184.35,74.27V80.27M184.50,70.20V80.60M184.65,74.31V81.06M184.81,70.72V79.78M184.96,71.83V80.67M185.12,73.37V79.59M185.27,73.85V81.34M185.42,71.14V82.26M185.58,71.13V81.20M185.73,73.40V80.68M185.88,73.00V79.93M186.04,71.76V79.41M186.19,71.11V79.90M186.34,72.68V82.01M186.50,71.41V78.79M186.65,72.07V80.90M186.80,71.37V84.42M186.96,72.69V81.33M187.11,70.34V83.48M187.27,71.44V78.09M187.42,71.92V78.59M187.57,70.96V80.53M187.73,70.11V81.04M187.88,70.13V78.11M188.03,69.53V78.95M188.19,69.91V78.82M188.34,70.85V77.30M188.49,69.26V79.89M188.65,70.64V78.30M188.80,70.34V77.89M188.96,68.15V77.83M189.11,69.49V77.89M189.26,67.36V80.68M189.42,68.37V77.02M189.57,70.44V78.45M189.72,66.90V77.07M189.88,69.36V77.21M190.03,67.56V79.13M190.18,70.06V76.47M190.34,69.01V77.53M190.49,68.01V76.90M190.64,70.33V76.01M190.80,67.20V76.09M190.95,68.22V75.76M191.11,66.03V76.66M191.26,69.27V78.71M191.41,66.81V78.74M191.57,68.19V76.65M191.72,69.52V76.24M191.87,69.36V77.81M192.03,67.98V75.43M192.18,67.63V76.47M192.33,67.06V76.92M192.49,66.19V77.41M192.64,68.05V79.79M192.80,66.83V76.22M192.95,68.33V76.44M193.10,68.17V74.48M193.26,67.19V78.00M193.41,64.50V74.59M193.56,67.76V74.92M193.72,68.05V75.45M193.87,67.95V74.37M194.02,66.70V77.70M194.18,64.94V78.12M194.33,65.90V75.33M194.48,64.90V73.33M194.64,66.07V74.22M194.79,65.64V74.58M194.95,67.32V76.82M195.10,67.16V72.87M195.25,65.91V74.10M195.41,63.32V75.03M195.56,64.99V74.08M195.71,64.58V76.71M195.87,66.32V73.69M196.02,66.02V74.32M196.17,64.91V75.04M196.33,63.75V72.03M196.48,65.28V73.36M196.64,63.27V73.89M196.79,63.96V72.37M196.94,64.74V71.70M197.10,65.81V73.46M197.25,62.81V73.26M197.40,63.02V75.30M197.56,64.61V73.57M197.71,64.79V71.15M197.86,65.19V73.15M198.02,63.62V71.00M198.17,64.92V72.92M198.32,64.69V71.15M198.48,63.27V70.51M198.63,64.68V70.67M198.79,64.86V71.70M198.94,64.29V71.77M199.09,63.68V72.79M199.25,61.42V70.83M199.40,63.98V70.28M199.55,63.81V70.89M199.71,63.03V70.09M199.86,62.15V72.39M200.01,62.41V70.72M200.17,62.66V70.96M200.32,61.96V69.79M200.48,62.53V70.01M200.63,62.52V69.54M200.78,63.65V69.12M200.94,62.77V76.50M201.09,63.63V72.77M201.24,63.23V71.09M201.40,63.07V69.47M201.55,63.18V68.85M201.70,62.33V69.68M201.86,61.47V70.82M202.01,63.24V70.25M202.16,62.67V68.34M202.32,62.74V69.04M202.47,61.30V68.49M202.63,61.53V69.50M202.78,59.42V68.38M202.93,62.13V70.71M203.09,60.41V68.71M203.24,61.73V72.33M203.39,61.65V68.55M203.55,62.01V70.22M203.70,59.55V68.08M203.85,61.38V67.64M204.01,59.71V69.99M204.16,61.33V69.92M204.32,60.09V69.21M204.47,56.08V68.56M204.62,60.53V68.45M204.78,54.65V67.80M204.93,61.19V68.46M205.08,60.22V67.59M205.24,60.94V67.65M205.39,58.36V68.37M205.54,60.27V68.93M205.70,57.84V68.65M205.85,59.50V68.36M206.00,60.58V66.32M206.16,60.68V66.13M206.31,59.70V66.46M206.47,58.94V66.06M206.62,59.98V65.70M206.77,59.60V67.02M206.93,59.85V65.89M207.08,59.52V68.18M207.23,58.41V67.23M207.39,58.77V65.86M207.54,56.73V66.82M207.69,58.93V66.48M207.85,57.51V66.22M208.00,59.30V65.42M208.16,58.84V65.17M208.31,58.11V64.53M208.46,58.36V64.47M208.62,58.52V66.45M208.77,59.01V64.89M208.92,58.74V65.64M209.08,58.09V68.94M209.23,58.48V64.60M209.38,58.25V68.92M209.54,58.67V65.15M209.69,56.09V64.16M209.84,57.20V64.00M210.00,58.32V64.58M210.15,58.46V66.06M210.31,58.04V64.83M210.46,54.51V64.60M210.61,57.77V65.45M210.77,56.22V66.30M210.92,56.01V63.17M211.07,57.54V63.20M211.23,57.37V63.16M211.38,56.35V66.80M211.53,56.48V66.55M211.69,57.58V62.50M211.84,54.35V63.75M212.00,55.84V62.51M212.15,54.20V65.89M212.30,55.01V64.16M212.46,56.42V62.87M212.61,55.38V63.37M212.76,55.96V63.49M212.92,55.56V61.98M213.07,54.12V63.73M213.22,55.74V61.75M213.38,56.03V65.19M213.53,55.17V62.51M213.68,56.55V62.49M213.84,54.72V61.37M213.99,56.41V61.20M214.15,54.99V62.00M214.30,54.11V61.89M214.45,55.89V60.99M214.61,55.10V62.78M214.76,54.20V61.46M214.91,54.25V60.88M215.07,53.45V60.61M215.22,51.78V63.05M215.37,55.49V62.64M215.53,55.23V62.00M215.68,51.50V61.17M215.84,52.44V61.18M215.99,54.60V63.72M216.14,53.26V64.26M216.30,55.07V60.54M216.45,54.32V63.88M216.60,54.22V62.90M216.76,51.31V61.85M216.91,53.78V64.01M217.06,53.96V59.80M217.22,52.60V60.36M217.37,53.50V60.62M217.52,53.57V62.58M217.68,50.60V59.76M217.83,53.22V59.66M217.99,51.34V61.50M218.14,53.27V59.83M218.29,54.00V60.89M218.45,53.16V59.61M218.60,52.84V60.64M218.75,53.46V60.29M218.91,51.80V59.28M219.06,53.70V60.86M219.21,53.43V59.70M219.37,52.24V58.39M219.52,51.96V59.82M219.68,52.05V59.11M219.83,51.15V58.48M219.98,52.67V58.06M220.14,51.76V58.58M220.29,52.79V60.53M220.44,50.20V58.06M220.60,49.92V57.58M220.75,52.14V59.06M220.90,52.22V61.84M221.06,52.23V59.48M221.21,50.18V57.93M221.36,51.96V62.65M221.52,50.59V58.52M221.67,50.89V58.73M221.83,49.15V56.92M221.98,50.47V58.13M222.13,51.48V58.62M222.29,51.33V59.05M222.44,51.31V56.84M222.59,50.38V57.22M222.75,51.07V59.24M222.90,49.69V59.52M223.05,48.87V56.58M223.21,50.46V57.27M223.36,49.25V56.60M223.52,51.17V57.40M223.67,50.16V57.98M223.82,49.43V57.79M223.98,50.51V56.80M224.13,50.37V55.80M224.28,49.50V57.80M224.44,50.75V55.72M224.59,48.85V55.75M224.74,50.74V56.02M224.90,50.00V57.78M225.05,50.55V55.89M225.20,50.06V56.99M225.36,48.31V57.69M225.51,49.98V55.69M225.67,46.49V55.90M225.82,48.68V56.17M225.97,48.65V57.32M226.13,45.38V55.13M226.28,48.74V55.48M226.43,46.68V54.89M226.59,47.68V56.16M226.74,47.29V56.80M226.89,47.07V55.06M227.05,49.24V54.36M227.20,48.34V56.75M227.36,48.31V54.81M227.51,48.75V55.70M227.66,48.44V55.08M227.82,47.17V54.58M227.97,45.27V54.51M228.12,48.89V55.10M228.28,47.33V54.54M228.43,46.08V54.24M228.58,46.78V54.74M228.74,47.84V53.71M228.89,47.30V58.72M229.04,47.28V54.31M229.20,47.00V54.09M229.35,46.63V53.81M229.51,46.50V53.96M229.66,48.00V54.49M229.81,45.78V55.05M229.97,47.41V52.66M230.12,46.33V54.32M230.27,47.47V53.58M230.43,45.45V56.35M230.58,45.81V52.62M230.73,45.79V52.83M230.89,44.48V53.46M231.04,46.38V52.14M231.20,46.76V53.60M231.35,45.72V52.35M231.50,46.60V53.26M231.66,46.59V53.43M231.81,43.99V52.64M231.96,43.77V53.45M232.12,46.12V53.56M232.27,44.76V51.66M232.42,45.85V53.53M232.58,44.90V52.62M232.73,46.66V51.81M232.88,45.78V54.20M233.04,43.93V51.97M233.19,45.93V52.70M233.35,43.65V53.21M233.50,45.58V51.36M233.65,44.49V51.60M233.81,43.67V51.18M233.96,45.29V52.87M234.11,45.43V50.53M234.27,45.11V53.06M234.42,44.07V51.13M234.57,45.64V50.84M234.73,44.99V50.54M234.88,45.49V51.81M235.04,42.10V50.90M235.19,44.09V51.05M235.34,45.18V51.98M235.50,43.68V49.94M235.65,45.31V50.82M235.80,44.59V50.00M235.96,43.63V49.62M236.11,42.08V50.62M236.26,43.24V51.74M236.42,42.60V50.72M236.57,41.65V49.44M236.72,44.58V49.56M236.88,43.92V49.18M237.03,44.57V51.20M237.19,43.57V50.71M237.34,43.38V50.06M237.49,42.81V50.61M237.65,42.76V49.53M237.80,41.54V50.75M237.95,44.08V49.04M238.11,41.69V49.70M238.26,42.41V49.21M238.41,43.02V49.81M238.57,42.50V49.93M238.72,42.77V48.29M238.88,42.29V49.22M239.03,42.70V49.44M239.18,41.27V49.90M239.34,39.47V50.33M239.49,42.05V48.06M239.64,42.64V48.00M239.80,42.44V47.93M239.95,41.93V47.68M240.10,42.40V51.99M240.26,42.04V48.85M240.41,41.67V48.11M240.56,40.53V48.52M240.72,41.96V48.70M240.87,42.41V48.47M241.03,40.83V49.04M241.18,42.87V47.37M241.33,41.04V47.98M241.49,41.09V47.29M241.64,42.76V50.11M241.79,40.58V47.94M241.95,40.34V46.99M242.10,41.31V47.25M242.25,41.89V47.59M242.41,40.83V47.00M242.56,41.98V46.90M242.72,41.38V46.82M242.87,40.86V49.02M243.02,41.74V46.16M243.18,39.68V47.74M243.33,41.88V46.87M243.48,40.21V46.97M243.64,38.21V47.84M243.79,38.73V46.89M243.94,40.40V47.30M244.10,41.36V46.07M244.25,40.62V48.43M244.40,40.97V46.92M244.56,40.51V46.58M244.71,41.16V46.10M244.87,41.19V45.38M245.02,40.97V45.86M245.17,40.39V46.33M245.33,39.94V47.79M245.48,40.08V47.49M245.63,36.67V46.04M245.79,39.84V47.50M245.94,36.72V48.92M246.09,38.51V47.20M246.25,39.28V44.99M246.40,40.10V46.00M246.56,39.32V46.28M246.71,40.11V46.01M246.86,38.70V44.94M247.02,40.15V46.42M247.17,38.50V44.76M247.32,37.88V44.22M247.48,38.98V45.12M247.63,40.02V45.13M247.78,38.55V45.05M247.94,38.45V43.94M248.09,38.58V44.66M248.24,39.07V45.56M248.40,38.89V45.15M248.55,36.38V45.64M248.71,39.27V43.87M248.86,38.98V43.51M249.01,37.22V44.89M249.17,38.14V44.42M249.32,37.23V43.75M249.47,38.96V45.07M249.63,38.65V43.57M249.78,38.47V46.16M249.93,37.76V44.90M250.09,38.16V44.10M250.24,37.84V42.97M250.40,38.90V45.45M250.55,38.72V45.06M250.70,38.31V43.24M250.86,38.70V45.82M251.01,37.82V43.47M251.16,38.37V42.76M251.32,37.00V44.13M251.47,36.40V43.99M251.62,37.58V43.78M251.78,37.59V44.16M251.93,36.41V45.01M252.08,37.80V44.30M252.24,37.58V42.57M252.39,35.15V45.55M252.55,35.46V42.29M252.70,37.85V42.19M252.85,37.41V42.68M253.01,34.47V42.14M253.16,36.42V43.55M253.31,36.80V41.73M253.47,37.18V43.77M253.62,36.77V44.59M253.77,35.80V44.00M253.93,36.97V42.21M254.08,36.61V42.97M254.24,35.70V42.38M254.39,35.41V42.04M254.54,36.97V42.14M254.70,36.09V40.98M254.85,35.54V41.01M255.00,35.53V43.03M255.16,34.39V41.97M255.31,34.62V41.16M255.46,36.60V41.39M255.62,35.97V42.76M255.77,32.62V41.89M255.92,32.93V40.46M256.08,36.46V41.51M256.23,33.54V42.17M256.39,36.23V40.53M256.54,35.42V40.42M256.69,35.19V40.77M256.85,36.10V41.10M257.00,35.06V40.20M257.15,35.82V41.76M257.31,33.50V40.06M257.46,33.73V41.52M257.61,34.67V40.52M257.77,35.76V40.05M257.92,35.45V40.50M258.08,35.60V42.74M258.23,32.06V39.57M258.38,34.85V41.06M258.54,33.30V42.75M258.69,34.82V42.56M258.84,34.50V39.33M259.00,34.53V40.15M259.15,33.35V39.77M259.30,34.92V39.30M259.46,32.95V40.25M259.61,33.44V39.90M259.76,34.44V39.81M259.92,34.31V40.28M260.07,34.42V39.37M260.23,33.20V38.66M260.38,31.43V38.70M260.53,29.60V40.10M260.69,33.80V39.24M260.84,30.06V38.63M260.99,34.18V41.37M261.15,32.22V41.28M261.30,33.94V39.35M261.45,30.26V38.36M261.61,33.67V39.16M261.76,34.01V39.82M261.92,32.59V39.05M262.07,33.08V39.49M262.22,32.22V37.86M262.38,31.75V39.96M262.53,31.71V38.83M262.68,33.62V38.33M262.84,33.67V37.62M262.99,33.12V38.62M263.14,30.17V37.82M263.30,32.57V39.45M263.45,32.32V38.47M263.60,32.21V37.62M263.76,33.26V37.69M263.91,31.53V39.21M264.07,32.63V41.00M264.22,31.97V37.24M264.37,31.70V37.35M264.53,30.85V38.40M264.68,32.82V37.39M264.83,32.77V38.37M264.99,31.29V37.23M265.14,32.75V37.06M265.29,31.86V38.05M265.45,32.58V37.25M265.60,32.10V38.71M265.76,30.97V37.63M265.91,31.78V38.87M266.06,32.34V37.66M266.22,30.28V37.81M266.37,31.35V36.47M266.52,32.04V37.67M266.68,31.44V37.67M266.83,31.37V39.11M266.98,31.61V36.25M267.14,31.63V36.99M267.29,31.29V35.84M267.44,29.26V36.71M267.60,30.98V36.04M267.75,29.53V35.77M267.91,30.36V37.08M268.06,31.60V38.15M268.21,30.43V36.77M268.37,31.16V35.72M268.52,30.44V36.79M268.67,30.29V36.05M268.83,27.21V35.36M268.98,30.89V36.25M269.13,28.94V36.98M269.29,31.07V35.51M269.44,28.19V38.94M269.60,29.65V36.59M269.75,30.01V35.49M269.90,30.18V34.83M270.06,28.36V35.72M270.21,30.27V36.66M270.36,29.34V35.35M270.52,30.18V37.34M270.67,29.83V34.64M270.82,29.23V34.98M270.98,28.87V34.56M271.13,30.05V37.57M271.28,30.37V35.30M271.44,30.08V35.72M271.59,28.28V35.25M271.75,28.29V35.80M271.90,30.15V35.59M272.05,28.26V34.31M272.21,28.17V34.95M272.36,28.58V34.14M272.51,27.13V33.98M272.67,28.86V33.98M272.82,29.09V35.17M272.97,27.46V34.63M273.13,27.87V35.20M273.28,28.93V35.42M273.44,29.08V35.85M273.59,28.77V34.11M273.74,28.21V34.56M273.90,27.94V35.57M274.05,28.95V33.31M274.20,29.18V33.81M274.36,26.97V33.78M274.51,28.04V35.02M274.66,26.88V33.53M274.82,26.32V33.88M274.97,28.04V32.91M275.12,26.50V34.98M275.28,27.83V33.75M275.43,26.75V32.82M275.59,27.15V33.67M275.74,26.50V34.35M275.89,27.71V34.16M276.05,26.71V34.60M276.20,28.12V34.06M276.35,28.31V33.45M276.51,26.14V32.81M276.66,27.61V32.88M276.81,25.15V33.41M276.97,26.51V32.72M277.12,28.06V33.35M277.28,27.54V34.50M277.43,26.59V33.42M277.58,27.69V33.02M277.74,27.31V32.70M277.89,25.19V34.61M278.04,27.85V31.81M278.20,27.69V31.98M278.35,27.23V33.22M278.50,26.97V31.78M278.66,27.65V31.69M278.81,27.33V33.04M278.96,27.53V31.68M279.12,27.40V32.94M279.27,26.12V32.95M279.43,27.07V32.37M279.58,25.64V31.56M279.73,26.43V33.91M279.89,24.53V31.12M280.04,26.98V32.70M280.19,26.98V31.92M280.35,23.57V32.60M280.50,26.83V32.19M280.65,25.24V30.96M280.81,26.26V34.54M280.96,25.41V30.76M281.12,25.72V30.76M281.27,24.81V31.22M281.42,26.48V31.22M281.58,24.81V32.06M281.73,25.90V30.90M281.88,24.75V30.57M282.04,26.08V30.93M282.19,26.22V31.55M282.34,23.90V33.59M282.50,25.65V30.77M282.65,25.84V32.08M282.80,25.47V30.15M282.96,25.75V30.17M283.11,24.47V30.98M283.27,24.87V30.71M283.42,25.74V31.54M283.57,25.86V31.37M283.73,24.37V30.66M283.88,25.42V29.95M284.03,25.61V31.07M284.19,22.48V30.05M284.34,23.25V31.39M284.49,22.44V31.01M284.65,22.86V31.96M284.80,23.42V29.50M284.96,24.55V32.11M285.11,24.81V30.26M285.26,25.00V30.64M285.42,24.67V29.11M285.57,24.58V29.59M285.72,22.13V29.57M285.88,24.77V29.92M286.03,23.83V31.20M286.18,23.21V30.28M286.34,24.76V29.46M286.49,21.77V32.47M286.64,24.24V29.80M286.80,22.98V29.64M286.95,24.02V31.14M287.11,23.19V31.01M287.26,23.06V30.87M287.41,24.01V31.91M287.57,22.19V28.67M287.72,22.66V28.37M287.87,23.79V28.96M288.03,22.00V30.46M288.18,20.90V29.62M288.33,21.42V28.67M288.49,22.02V28.04M288.64,23.95V28.14M288.80,23.31V28.42M288.95,23.29V28.41M289.10,22.68V28.29M289.26,23.68V29.84M289.41,23.27V27.90M289.56,22.96V28.31M289.72,22.03V28.42M289.87,20.86V29.69M290.02,23.58V28.17M290.18,22.20V28.28M290.33,23.39V29.74M290.48,20.59V27.91M290.64,22.22V28.57M290.79,21.35V28.89M290.95,22.49V27.81M291.10,22.62V28.42M291.25,22.30V30.37M291.41,21.73V29.89M291.56,22.44V27.09M291.71,21.63V27.50M291.87,22.02V27.44M292.02,22.35V27.80M292.17,22.42V28.35M292.33,22.87V26.82M292.48,22.33V28.10M292.64,20.06V27.21M292.79,22.16V30.13M292.94,22.46V27.22M293.10,19.19V26.93M293.25,21.63V27.59M293.40,21.92V27.90M293.56,21.25V28.72M293.71,21.91V29.36M293.86,22.27V26.96M294.02,22.07V28.03M294.17,22.20V26.76M294.32,20.59V26.61M294.48,20.18V27.71M294.63,19.60V27.51M294.79,19.50V27.61M294.94,21.03V26.98M295.09,20.56V27.66M295.25,21.78V25.92M295.40,20.50V25.94M295.55,20.78V26.02M295.71,20.10V28.95M295.86,21.29V25.82M296.01,21.23V26.19M296.17,20.50V26.59M296.32,21.46V25.60M296.48,19.96V26.34M296.63,21.18V26.90M296.78,19.40V25.78M296.94,19.44V25.51M297.09,18.99V25.37M297.24,20.75V27.31M297.40,20.28V27.33M297.55,20.62V26.17M297.70,19.98V24.97M297.86,20.72V25.10M298.01,19.93V25.58M298.16,20.17V25.05M298.32,19.68V25.17M298.47,19.36V26.30M298.63,17.47V25.00M298.78,16.97V25.15M298.93,18.90V24.59M299.09,18.61V24.76M299.24,19.63V24.62M299.39,19.96V29.39M299.55,20.38V25.21M299.70,19.67V24.91M299.85,19.75V25.48M300.01,20.13V26.48M300.16,19.46V24.65M300.32,19.80V26.46M300.47,19.29V25.22M300.62,20.09V26.32M300.78,20.02V24.17M300.93,18.28V24.91M301.08,18.65V25.31M301.24,15.96V24.36M301.39,17.28V24.46M301.54,18.52V24.72M301.70,19.59V25.01M301.85,16.69V25.07M302.00,17.93V25.68M302.16,17.92V25.24M302.31,19.31V23.89M302.47,19.04V25.42M302.62,18.30V23.41M302.77,18.71V24.40M302.93,18.61V24.40M303.08,17.86V25.02M303.23,17.88V24.01M303.39,18.27V27.42M303.54,17.91V23.53M303.69,19.03V23.49M303.85,16.93V23.85M304.00,18.04V25.19M304.16,18.05V24.33M304.31,16.69V24.25M304.46,15.66V22.89M304.62,17.50V24.31M304.77,16.17V24.98M304.92,16.33V23.11M305.08,16.40V23.22M305.23,16.21V23.36M305.38,17.19V25.83M305.54,15.88V23.57M305.69,18.18V23.25M305.84,18.04V23.69M306.00,18.03V26.35M306.15,18.13V22.33M306.31,14.31V23.43M306.46,17.56V23.08M306.61,16.33V23.09M306.77,15.27V24.36M306.92,17.24V23.90M307.07,18.04V23.50M307.23,17.30V22.55M307.38,16.68V22.91M307.53,17.84V23.31M307.69,16.63V23.58M307.84,16.09V23.23M308.00,16.15V22.10M308.15,16.41V24.42M308.30,16.67V22.85M308.46,16.26V22.67M308.61,16.64V23.95M308.76,15.41V25.14M308.92,17.08V21.75M309.07,15.93V21.42M309.22,17.38V23.00M309.38,15.86V22.99M309.53,16.57V23.49M309.68,15.60V22.83M309.84,15.95V23.67M309.99,16.55V22.97M310.15,15.92V21.17M310.30,16.39V24.67M310.45,16.62V21.65M310.61,15.30V21.83M310.76,15.75V22.46M310.91,16.95V21.91M311.07,13.29V23.24M311.22,15.70V22.30M311.37,13.70V23.43M311.53,15.89V21.41M311.68,16.13V22.40M311.84,16.10V22.24M311.99,12.33V20.83M312.14,15.13V20.96M312.30,16.18V22.60M312.45,13.78V22.08M312.60,15.12V22.20M312.76,15.77V21.14M312.91,15.71V22.01M313.06,15.63V20.55M313.22,15.70V20.94M313.37,14.19V20.39M313.52,11.86V21.06M313.68,16.05V21.53M313.83,15.62V20.35M313.99,15.00V20.97M314.14,15.30V20.82M314.29,14.78V20.70M314.45,15.07V22.43M314.60,14.88V20.84M314.75,15.26V20.28M314.91,13.87V21.29M315.06,14.82V19.86M315.21,13.65V22.20M315.37,14.94V21.71M315.52,15.09V22.70M315.68,13.13V19.57M315.83,15.30V19.46M315.98,14.44V20.17M316.14,12.90V21.00M316.29,14.54V19.98M316.44,12.60V20.65M316.60,14.75V22.08M316.75,14.98V19.96M316.90,15.07V21.03M317.06,13.90V21.00M317.21,14.77V20.27M317.36,13.44V20.08M317.52,14.65V19.76M317.67,14.16V19.07M317.83,11.57V19.12M317.98,13.49V19.44M318.13,14.77V21.42M318.29,14.76V20.55M318.44,11.43V20.51M318.59,13.62V18.66M318.75,13.71V18.78M318.90,13.65V19.73M319.05,13.10V20.00M319.21,11.72V20.00M319.36,11.85V20.52M319.52,12.65V18.62M319.67,14.05V20.10M319.82,12.36V19.02M319.98,12.21V18.78M320.13,14.26V18.83M320.28,11.97V19.33M320.44,14.01V19.01M320.59,13.55V18.20M320.74,12.56V20.19M320.90,12.84V19.92M321.05,13.37V18.36M321.20,13.46V18.30M321.36,13.12V20.40M321.51,13.56V19.27M321.67,13.06V20.60M321.82,13.66V19.60M321.97,13.05V18.39M322.13,12.61V17.79M322.28,10.76V19.35M322.43,11.03V19.08M322.59,13.20V18.76M322.74,12.53V17.84M322.89,10.88V17.92M323.05,11.83V21.37M323.20,13.06V17.56M323.36,11.54V17.98M323.51,11.27V18.73M323.66,12.86V18.03M323.82,12.15V17.89M323.97,11.15V18.59M324.12,10.30V17.65M324.28,11.30V17.66M324.43,11.62V18.22M324.58,11.63V17.96M324.74,10.62V18.93M324.89,12.19V17.13M325.04,11.57V17.07M325.20,11.03V19.00M325.35,11.35V18.76M325.51,11.40V19.45M325.66,9.39V16.68M325.81,12.29V17.61M325.97,10.95V19.82" stroke="#000" stroke-width="0.85" fill="none"/><path d="M55.02,283.91 L55.10,282.77 L55.18,281.67 L55.27,280.59 L55.36,279.55 L55.45,278.53 L55.55,277.54 L55.64,276.57 L55.70,276.03" fill="none" stroke="#111" stroke-width="5.55" stroke-linecap="round" stroke-linejoin="round"/><path d="M55.70,276.03 L55.75,275.63 L55.85,274.71 L55.96,273.82 L56.07,272.94 L56.18,272.08 L56.29,271.24 L56.41,270.41 L56.54,269.60 L56.55,269.49" fill="none" stroke="#111" stroke-width="5.74" stroke-linecap="round" stroke-linejoin="round"/><path d="M56.55,269.49 L56.66,268.80 L56.79,268.01 L56.93,267.24 L57.07,266.47 L57.21,265.71 L57.35,264.96 L57.51,264.22 L57.62,263.69" fill="none" stroke="#111" stroke-width="5.93" stroke-linecap="round" stroke-linejoin="round"/><path d="M57.62,263.69 L57.66,263.48 L57.82,262.74 L57.98,262.00 L58.15,261.27 L58.33,260.54 L58.51,259.80 L58.69,259.07 L58.88,258.33 L58.93,258.12" fill="none" stroke="#111" stroke-width="6.12" stroke-linecap="round" stroke-linejoin="round"/><path d="M58.93,258.12 L59.07,257.59 L59.28,256.84 L59.48,256.09 L59.69,255.33 L59.91,254.57 L60.14,253.79 L60.37,253.01 L60.57,252.33" fill="none" stroke="#111" stroke-width="6.31" stroke-linecap="round" stroke-linejoin="round"/><path d="M60.57,252.33 L60.61,252.22 L60.85,251.41 L61.11,250.60 L61.37,249.77 L61.64,248.93 L61.91,248.07 L62.19,247.20 L62.49,246.32 L62.61,245.93" fill="none" stroke="#111" stroke-width="6.50" stroke-linecap="round" stroke-linejoin="round"/><path d="M62.61,245.93 L62.79,245.42 L63.10,244.50 L63.41,243.56 L63.74,242.61 L64.08,241.64 L64.43,240.65 L64.78,239.64 L65.15,238.61 L65.15,238.61" fill="none" stroke="#111" stroke-width="6.69" stroke-linecap="round" stroke-linejoin="round"/><path d="M65.15,238.61 L65.53,237.56 L65.92,236.48 L66.32,235.39 L66.73,234.27 L67.16,233.13 L67.59,231.97 L68.04,230.78 L68.31,230.10" fill="none" stroke="#111" stroke-width="6.88" stroke-linecap="round" stroke-linejoin="round"/><path d="M68.31,230.10 L68.51,229.57 L68.98,228.34 L69.47,227.08 L69.98,225.80 L70.50,224.49 L71.03,223.15 L71.58,221.79 L72.15,220.41 L72.23,220.21" fill="none" stroke="#111" stroke-width="7.07" stroke-linecap="round" stroke-linejoin="round"/><path d="M72.23,220.21 L72.73,218.99 L73.33,217.56 L73.94,216.09 L74.58,214.60 L75.23,213.08 L75.91,211.53 L76.60,209.96 L77.11,208.82" fill="none" stroke="#111" stroke-width="7.26" stroke-linecap="round" stroke-linejoin="round"/><path d="M77.11,208.82 L77.31,208.36 L78.04,206.73 L78.80,205.07 L79.58,203.39 L80.38,201.68 L81.20,199.94 L82.05,198.18 L82.92,196.39 L83.17,195.87" fill="none" stroke="#111" stroke-width="7.45" stroke-linecap="round" stroke-linejoin="round"/><path d="M83.17,195.87 L83.81,194.57 L84.74,192.72 L85.69,190.85 L86.67,188.95 L87.67,187.02 L88.71,185.07 L89.78,183.09 L90.71,181.37" fill="none" stroke="#111" stroke-width="7.64" stroke-linecap="round" stroke-linejoin="round"/><path d="M90.71,181.37 L90.87,181.08 L92.00,179.05 L93.17,176.99 L94.36,174.91 L95.59,172.80 L96.86,170.67 L98.17,168.51 L99.51,166.33 L100.10,165.39" fill="none" stroke="#111" stroke-width="7.83" stroke-linecap="round" stroke-linejoin="round"/><path d="M100.10,165.39 L100.89,164.12 L102.31,161.90 L103.78,159.65 L105.28,157.37 L106.83,155.08 L108.43,152.76 L110.07,150.42 L111.76,148.06 L111.76,148.06" fill="none" stroke="#111" stroke-width="8.03" stroke-linecap="round" stroke-linejoin="round"/><path d="M111.76,148.06 L113.50,145.68 L115.29,143.29 L117.13,140.87 L119.03,138.43 L120.98,135.98 L122.99,133.51 L125.06,131.03 L126.27,129.60" fill="none" stroke="#111" stroke-width="8.22" stroke-linecap="round" stroke-linejoin="round"/><path d="M126.27,129.60 L127.19,128.52 L129.38,126.01 L131.63,123.48 L133.95,120.93 L136.34,118.37 L138.80,115.81 L141.33,113.22 L143.93,110.63 L144.31,110.26" fill="none" stroke="#111" stroke-width="8.40" stroke-linecap="round" stroke-linejoin="round"/><path d="M144.31,110.26 L146.61,108.03 L149.37,105.42 L152.20,102.81 L155.12,100.18 L158.13,97.55 L161.22,94.92 L164.41,92.28 L166.74,90.39" fill="none" stroke="#111" stroke-width="8.40" stroke-linecap="round" stroke-linejoin="round"/><path d="M166.74,90.39 L167.69,89.64 L171.06,86.99 L174.53,84.35 L178.10,81.70 L181.78,79.05 L185.57,76.41 L189.46,73.77 L193.47,71.14 L194.64,70.38" fill="none" stroke="#111" stroke-width="8.40" stroke-linecap="round" stroke-linejoin="round"/><path d="M194.64,70.38 L197.60,68.50 L201.84,65.88 L206.21,63.26 L210.71,60.66 L215.34,58.06 L220.11,55.47 L225.01,52.90 L229.33,50.70" fill="none" stroke="#111" stroke-width="8.40" stroke-linecap="round" stroke-linejoin="round"/><path d="M229.33,50.70 L230.06,50.34 L235.25,47.79 L240.60,45.27 L246.10,42.76 L251.77,40.26 L257.60,37.79 L263.60,35.34 L269.77,32.92 L272.47,31.89" fill="none" stroke="#111" stroke-width="8.08" stroke-linecap="round" stroke-linejoin="round"/><path d="M272.47,31.89 L276.12,30.52 L282.67,28.14 L289.40,25.79 L296.32,23.48 L303.45,21.19 L310.79,18.93 L318.35,16.71 L326.12,14.52" fill="none" stroke="#111" stroke-width="7.09" stroke-linecap="butt" stroke-linejoin="round"/><path d="M55.02,283.91 L55.10,282.77 L55.18,281.67 L55.27,280.59 L55.36,279.55 L55.45,278.53 L55.55,277.54 L55.64,276.57 L55.70,276.03" fill="none" stroke="#C77CFF" stroke-width="3.05" stroke-linecap="round" stroke-linejoin="round"/><path d="M55.70,276.03 L55.75,275.63 L55.85,274.71 L55.96,273.82 L56.07,272.94 L56.18,272.08 L56.29,271.24 L56.41,270.41 L56.54,269.60 L56.55,269.49" fill="none" stroke="#C77CFF" stroke-width="3.24" stroke-linecap="round" stroke-linejoin="round"/><path d="M56.55,269.49 L56.66,268.80 L56.79,268.01 L56.93,267.24 L57.07,266.47 L57.21,265.71 L57.35,264.96 L57.51,264.22 L57.62,263.69" fill="none" stroke="#C77CFF" stroke-width="3.43" stroke-linecap="round" stroke-linejoin="round"/><path d="M57.62,263.69 L57.66,263.48 L57.82,262.74 L57.98,262.00 L58.15,261.27 L58.33,260.54 L58.51,259.80 L58.69,259.07 L58.88,258.33 L58.93,258.12" fill="none" stroke="#C77CFF" stroke-width="3.62" stroke-linecap="round" stroke-linejoin="round"/><path d="M58.93,258.12 L59.07,257.59 L59.28,256.84 L59.48,256.09 L59.69,255.33 L59.91,254.57 L60.14,253.79 L60.37,253.01 L60.57,252.33" fill="none" stroke="#C77CFF" stroke-width="3.81" stroke-linecap="round" stroke-linejoin="round"/><path d="M60.57,252.33 L60.61,252.22 L60.85,251.41 L61.11,250.60 L61.37,249.77 L61.64,248.93 L61.91,248.07 L62.19,247.20 L62.49,246.32 L62.61,245.93" fill="none" stroke="#C77CFF" stroke-width="4.00" stroke-linecap="round" stroke-linejoin="round"/><path d="M62.61,245.93 L62.79,245.42 L63.10,244.50 L63.41,243.56 L63.74,242.61 L64.08,241.64 L64.43,240.65 L64.78,239.64 L65.15,238.61 L65.15,238.61" fill="none" stroke="#C77CFF" stroke-width="4.19" stroke-linecap="round" stroke-linejoin="round"/><path d="M65.15,238.61 L65.53,237.56 L65.92,236.48 L66.32,235.39 L66.73,234.27 L67.16,233.13 L67.59,231.97 L68.04,230.78 L68.31,230.10" fill="none" stroke="#C77CFF" stroke-width="4.38" stroke-linecap="round" stroke-linejoin="round"/><path d="M68.31,230.10 L68.51,229.57 L68.98,228.34 L69.47,227.08 L69.98,225.80 L70.50,224.49 L71.03,223.15 L71.58,221.79 L72.15,220.41 L72.23,220.21" fill="none" stroke="#C77CFF" stroke-width="4.57" stroke-linecap="round" stroke-linejoin="round"/><path d="M72.23,220.21 L72.73,218.99 L73.33,217.56 L73.94,216.09 L74.58,214.60 L75.23,213.08 L75.91,211.53 L76.60,209.96 L77.11,208.82" fill="none" stroke="#C77CFF" stroke-width="4.76" stroke-linecap="round" stroke-linejoin="round"/><path d="M77.11,208.82 L77.31,208.36 L78.04,206.73 L78.80,205.07 L79.58,203.39 L80.38,201.68 L81.20,199.94 L82.05,198.18 L82.92,196.39 L83.17,195.87" fill="none" stroke="#C77CFF" stroke-width="4.95" stroke-linecap="round" stroke-linejoin="round"/><path d="M83.17,195.87 L83.81,194.57 L84.74,192.72 L85.69,190.85 L86.67,188.95 L87.67,187.02 L88.71,185.07 L89.78,183.09 L90.71,181.37" fill="none" stroke="#C77CFF" stroke-width="5.14" stroke-linecap="round" stroke-linejoin="round"/><path d="M90.71,181.37 L90.87,181.08 L92.00,179.05 L93.17,176.99 L94.36,174.91 L95.59,172.80 L96.86,170.67 L98.17,168.51 L99.51,166.33 L100.10,165.39" fill="none" stroke="#C77CFF" stroke-width="5.33" stroke-linecap="round" stroke-linejoin="round"/><path d="M100.10,165.39 L100.89,164.12 L102.31,161.90 L103.78,159.65 L105.28,157.37 L106.83,155.08 L108.43,152.76 L110.07,150.42 L111.76,148.06 L111.76,148.06" fill="none" stroke="#C77CFF" stroke-width="5.53" stroke-linecap="round" stroke-linejoin="round"/><path d="M111.76,148.06 L113.50,145.68 L115.29,143.29 L117.13,140.87 L119.03,138.43 L120.98,135.98 L122.99,133.51 L125.06,131.03 L126.27,129.60" fill="none" stroke="#C77CFF" stroke-width="5.72" stroke-linecap="round" stroke-linejoin="round"/><path d="M126.27,129.60 L127.19,128.52 L129.38,126.01 L131.63,123.48 L133.95,120.93 L136.34,118.37 L138.80,115.81 L141.33,113.22 L143.93,110.63 L144.31,110.26" fill="none" stroke="#C77CFF" stroke-width="5.90" stroke-linecap="round" stroke-linejoin="round"/><path d="M144.31,110.26 L146.61,108.03 L149.37,105.42 L152.20,102.81 L155.12,100.18 L158.13,97.55 L161.22,94.92 L164.41,92.28 L166.74,90.39" fill="none" stroke="#C77CFF" stroke-width="5.90" stroke-linecap="round" stroke-linejoin="round"/><path d="M166.74,90.39 L167.69,89.64 L171.06,86.99 L174.53,84.35 L178.10,81.70 L181.78,79.05 L185.57,76.41 L189.46,73.77 L193.47,71.14 L194.64,70.38" fill="none" stroke="#C77CFF" stroke-width="5.90" stroke-linecap="round" stroke-linejoin="round"/><path d="M194.64,70.38 L197.60,68.50 L201.84,65.88 L206.21,63.26 L210.71,60.66 L215.34,58.06 L220.11,55.47 L225.01,52.90 L229.33,50.70" fill="none" stroke="#C77CFF" stroke-width="5.90" stroke-linecap="round" stroke-linejoin="round"/><path d="M229.33,50.70 L230.06,50.34 L235.25,47.79 L240.60,45.27 L246.10,42.76 L251.77,40.26 L257.60,37.79 L263.60,35.34 L269.77,32.92 L272.47,31.89" fill="none" stroke="#C77CFF" stroke-width="5.58" stroke-linecap="round" stroke-linejoin="round"/><path d="M272.47,31.89 L276.12,30.52 L282.67,28.14 L289.40,25.79 L296.32,23.48 L303.45,21.19 L310.79,18.93 L318.35,16.71 L326.12,14.52" fill="none" stroke="#C77CFF" stroke-width="4.59" stroke-linecap="butt" stroke-linejoin="round"/>
<text x="77.5" y="71.9" font-size="11.36" text-anchor="start" font-weight="bold" fill="#C77CFF">Unannotated MS2</text>
<text x="327" y="256.1" font-size="11.36" text-anchor="end" font-weight="bold" fill="#55D8CB">Unannotated molecular families</text>
<text x="327" y="287.7" font-size="11.36" text-anchor="end" font-weight="bold" fill="#7FBB24">Annotated MS2</text>
<text x="327" y="309.8" font-size="11.36" text-anchor="end" font-weight="bold" fill="#F07068">Annotated molecular families</text>
<defs><linearGradient id="ag" x1="0" y1="0" x2="0" y2="1"><stop offset="0" stop-color="#C77CFF"/><stop offset="0.5" stop-color="#A69A96"/><stop offset="1" stop-color="#8CD34A"/></linearGradient></defs>
<rect x="330.2" y="50" width="3.6" height="246.9" fill="url(#ag)"/>
<polygon points="331.9,15.6 321.1,54.7 342.9,54.7" fill="#C77CFF"/>
<text x="323.4" y="151.9" font-size="11.3" text-anchor="middle" font-weight="bold" fill="#000" transform="rotate(-90 323.4 151.9)">Potential for discovery</text>
<text x="357.8" y="14.8" font-size="15" text-anchor="start" font-weight="normal" fill="#000">b</text>
<line x1="399.8" y1="15.2" x2="399.8" y2="152.5" stroke="#5A5A5A" stroke-width="1"/>
<line x1="399.3" y1="152.0" x2="529.6" y2="152.0" stroke="#5A5A5A" stroke-width="1"/>
<line x1="397.0" y1="131.4" x2="399.8" y2="131.4" stroke="#5A5A5A" stroke-width="1"/>
<text x="396.40000000000003" y="134.3" font-size="6.4" text-anchor="end" font-weight="normal" fill="#333333">100</text>
<line x1="397.0" y1="104.05000000000001" x2="399.8" y2="104.05000000000001" stroke="#5A5A5A" stroke-width="1"/>
<text x="396.40000000000003" y="106.95000000000002" font-size="6.4" text-anchor="end" font-weight="normal" fill="#333333">150</text>
<line x1="397.0" y1="76.7" x2="399.8" y2="76.7" stroke="#5A5A5A" stroke-width="1"/>
<text x="396.40000000000003" y="79.60000000000001" font-size="6.4" text-anchor="end" font-weight="normal" fill="#333333">200</text>
<line x1="397.0" y1="49.349999999999994" x2="399.8" y2="49.349999999999994" stroke="#5A5A5A" stroke-width="1"/>
<text x="396.40000000000003" y="52.24999999999999" font-size="6.4" text-anchor="end" font-weight="normal" fill="#333333">250</text>
<line x1="397.0" y1="22.0" x2="399.8" y2="22.0" stroke="#5A5A5A" stroke-width="1"/>
<text x="396.40000000000003" y="24.9" font-size="6.4" text-anchor="end" font-weight="normal" fill="#333333">300</text>
<line x1="404.4" y1="152.0" x2="404.4" y2="154.2" stroke="#5A5A5A" stroke-width="1"/>
<text x="404.4" y="160.9" font-size="6.4" text-anchor="middle" font-weight="normal" fill="#333333">0</text>
<line x1="437.90999999999997" y1="152.0" x2="437.90999999999997" y2="154.2" stroke="#5A5A5A" stroke-width="1"/>
<text x="437.90999999999997" y="160.9" font-size="6.4" text-anchor="middle" font-weight="normal" fill="#333333">300</text>
<line x1="471.41999999999996" y1="152.0" x2="471.41999999999996" y2="154.2" stroke="#5A5A5A" stroke-width="1"/>
<text x="471.41999999999996" y="160.9" font-size="6.4" text-anchor="middle" font-weight="normal" fill="#333333">600</text>
<line x1="504.92999999999995" y1="152.0" x2="504.92999999999995" y2="154.2" stroke="#5A5A5A" stroke-width="1"/>
<text x="504.92999999999995" y="160.9" font-size="6.4" text-anchor="middle" font-weight="normal" fill="#333333">900</text>
<text x="474.8" y="11.2" font-size="7.8" text-anchor="middle" font-weight="normal" fill="#1a1a1a">Annotated molecular families</text>
<line x1="405.63" y1="139.10" x2="405.63" y2="147.10" stroke="#111" stroke-width="0.8"/><path d="M405.63,137.97V142.17M405.80,132.88V135.60M405.96,128.47V132.44M406.13,125.53V129.17M406.30,122.12V125.47M406.47,119.04V122.65M406.63,116.75V121.52M406.80,113.50V117.76M406.97,109.02V116.25M407.14,109.10V114.58M407.30,105.44V113.08M407.47,105.06V111.30M407.64,103.99V108.50M407.81,101.23V106.69M407.97,101.36V106.05M408.14,97.54V105.50M408.31,98.53V104.75M408.48,96.09V102.24M408.64,94.92V101.59M408.81,94.29V99.48M408.98,92.66V98.72M409.15,91.24V97.34M409.31,87.71V97.78M409.48,89.85V96.54M409.65,89.41V95.14M409.82,86.53V93.74M409.98,86.14V94.28M410.15,86.88V92.81M410.32,84.40V90.49M410.49,84.17V89.68M410.66,83.26V90.38M410.82,82.08V89.93M410.99,82.19V88.77M411.16,81.97V88.76M411.33,81.53V86.09M411.49,80.51V85.80M411.66,79.64V84.23M411.83,77.12V83.63M412.00,77.45V83.66M412.16,78.08V82.60M412.33,74.89V84.25M412.50,76.52V81.84M412.67,75.84V81.94M412.83,73.71V80.71M413.00,75.26V81.02M413.17,73.18V79.54M413.34,73.76V78.59M413.50,73.67V77.94M413.67,72.12V77.51M413.84,72.16V77.17M414.01,71.25V77.85M414.17,70.85V76.35M414.34,70.82V75.86M414.51,66.98V75.95M414.68,69.89V74.67M414.84,67.90V73.97M415.01,66.41V74.85M415.18,67.87V73.85M415.35,68.29V74.01M415.51,67.79V72.71M415.68,67.46V73.07M415.85,66.68V72.28M416.02,63.53V72.71M416.18,62.62V72.54M416.35,65.51V71.35M416.52,65.19V71.19M416.69,64.08V70.06M416.85,63.33V71.03M417.02,61.23V68.93M417.19,63.02V70.36M417.36,62.80V68.08M417.52,61.78V69.82M417.69,61.40V70.26M417.86,61.79V67.55M418.03,62.39V68.22M418.19,61.22V66.61M418.36,60.57V69.78M418.53,60.26V66.01M418.70,58.60V67.16M418.87,58.96V65.29M419.03,59.43V65.48M419.20,59.66V66.83M419.37,57.44V64.98M419.54,58.94V64.43M419.70,57.97V64.84M419.87,58.41V63.97M420.04,58.34V65.05M420.21,56.47V63.58M420.37,57.91V63.30M420.54,56.91V63.07M420.71,56.10V62.03M420.88,55.75V61.37M421.04,54.72V63.66M421.21,56.47V62.77M421.38,55.81V61.39M421.55,53.34V60.60M421.71,53.77V62.14M421.88,54.34V59.93M422.05,55.25V59.31M422.22,54.67V61.64M422.38,52.06V58.86M422.55,53.60V60.37M422.72,53.82V59.01M422.89,53.62V59.10M423.05,52.42V58.44M423.22,53.69V59.79M423.39,53.06V58.68M423.56,52.45V58.85M423.72,49.86V59.76M423.89,50.71V57.41M424.06,52.61V56.55M424.23,52.32V57.33M424.39,51.47V57.94M424.56,50.06V59.03M424.73,48.14V55.82M424.90,49.31V56.08M425.06,50.08V55.12M425.23,49.82V56.77M425.40,49.56V55.87M425.57,50.35V56.19M425.73,48.40V54.82M425.90,48.12V54.69M426.07,47.42V54.94M426.24,49.59V57.36M426.40,48.16V54.87M426.57,48.69V53.37M426.74,49.23V55.41M426.91,47.76V53.72M427.08,46.57V53.46M427.24,48.11V53.17M427.41,47.00V52.89M427.58,46.87V52.42M427.75,47.32V52.77M427.91,47.55V54.15M428.08,46.42V51.87M428.25,46.25V54.47M428.42,45.06V54.49M428.58,46.06V52.65M428.75,46.36V50.95M428.92,46.85V51.87M429.09,46.42V51.15M429.25,46.50V53.67M429.42,45.97V52.25M429.59,45.79V50.26M429.76,45.31V50.61M429.92,44.38V50.12M430.09,44.37V54.20M430.26,44.88V52.33M430.43,42.86V50.41M430.59,44.37V51.92M430.76,44.00V49.59M430.93,43.95V49.84M431.10,42.55V50.38M431.26,42.68V50.09M431.43,43.36V50.26M431.60,42.81V49.54M431.77,44.08V48.48M431.93,42.95V48.88M432.10,42.17V48.43M432.27,43.88V48.91M432.44,43.38V50.06M432.60,42.78V47.30M432.77,41.53V48.06M432.94,42.11V48.58M433.11,42.66V47.55M433.27,42.85V46.71M433.44,41.11V47.77M433.61,40.74V46.43M433.78,42.56V47.27M433.94,42.19V47.09M434.11,41.71V48.60M434.28,42.21V46.75M434.45,41.52V47.24M434.61,41.35V47.04M434.78,40.30V46.41M434.95,41.04V45.90M435.12,39.97V45.27M435.29,39.02V45.79M435.45,40.61V45.70M435.62,41.06V45.10M435.79,39.99V44.88M435.96,40.30V45.58M436.12,40.74V44.89M436.29,40.37V44.95M436.46,40.16V45.69M436.63,39.38V44.65M436.79,38.52V44.06M436.96,40.06V45.31M437.13,39.57V44.04M437.30,39.09V44.30M437.46,39.66V45.81M437.63,37.79V44.14M437.80,39.41V44.64M437.97,38.89V43.10M438.13,39.25V43.77M438.30,39.30V43.18M438.47,38.90V44.69M438.64,38.72V45.03M438.80,37.62V44.81M438.97,37.77V43.12M439.14,38.35V43.20M439.31,38.43V43.31M439.47,36.57V44.10M439.64,37.25V43.88M439.81,36.48V43.52M439.98,36.53V42.06M440.14,38.08V42.56M440.31,38.01V42.37M440.48,37.95V42.74M440.65,36.33V41.72M440.81,37.42V41.36M440.98,37.30V42.72M441.15,37.12V41.21M441.32,36.24V43.81M441.48,35.99V42.07M441.65,37.00V43.44M441.82,36.05V42.77M441.99,35.71V40.75M442.15,36.66V41.84M442.32,35.89V41.85M442.49,36.10V40.91M442.66,35.28V40.84M442.82,35.73V42.02M442.99,35.55V40.13M443.16,35.51V40.93M443.33,34.43V39.91M443.50,34.59V39.71M443.66,35.20V41.30M443.83,35.47V40.61M444.00,35.91V41.06M444.17,35.90V39.91M444.33,35.55V41.84M444.50,35.21V39.67M444.67,35.32V40.46M444.84,33.76V39.51M445.00,34.53V38.97M445.17,34.93V39.54M445.34,34.46V38.78M445.51,33.58V40.49M445.67,34.47V38.58M445.84,32.81V39.56M446.01,34.93V40.26M446.18,33.57V39.16M446.34,32.35V38.29M446.51,34.17V38.44M446.68,34.17V38.30M446.85,32.31V39.71M447.01,34.29V39.12M447.18,31.76V38.47M447.35,32.82V40.03M447.52,32.92V37.80M447.68,33.64V38.01M447.85,33.75V39.82M448.02,33.32V37.33M448.19,32.53V37.60M448.35,33.31V39.95M448.52,32.63V37.72M448.69,33.69V38.39M448.86,30.79V38.15M449.02,32.46V37.55M449.19,32.92V38.05M449.36,31.93V36.74M449.53,30.29V37.41M449.69,32.37V38.49M449.86,33.09V37.99M450.03,32.20V36.67M450.20,33.02V36.42M450.36,32.15V38.20M450.53,32.23V37.94M450.70,31.23V36.46M450.87,31.78V36.19M451.03,31.47V36.09M451.20,32.45V35.82M451.37,31.53V38.15M451.54,32.09V36.90M451.70,30.76V35.63M451.87,31.78V36.16M452.04,30.95V38.46M452.21,32.05V37.77M452.38,31.12V37.04M452.54,32.03V37.10M452.71,30.51V35.96M452.88,30.81V36.06M453.05,31.47V35.25M453.21,29.53V35.44M453.38,29.79V37.54M453.55,31.48V37.02M453.72,30.89V35.81M453.88,28.67V35.78M454.05,30.96V37.45M454.22,31.10V34.68M454.39,29.04V36.26M454.55,30.79V34.66M454.72,28.42V35.40M454.89,30.03V35.08M455.06,31.09V34.60M455.22,29.94V34.18M455.39,28.94V34.43M455.56,30.13V34.64M455.73,27.67V35.00M455.89,29.65V34.12M456.06,29.69V34.16M456.23,28.15V34.15M456.40,30.08V34.46M456.56,29.58V34.67M456.73,28.31V34.14M456.90,29.64V35.46M457.07,27.95V34.11M457.23,30.35V33.54M457.40,29.53V33.72M457.57,29.33V35.27M457.74,29.87V35.26M457.90,28.65V33.79M458.07,29.32V33.22M458.24,27.27V33.03M458.41,29.42V35.25M458.57,29.16V33.77M458.74,29.77V33.18M458.91,28.85V34.79M459.08,28.41V33.31M459.24,29.48V34.22M459.41,29.03V33.29M459.58,29.19V34.76M459.75,29.51V32.75M459.91,28.29V34.48M460.08,28.63V32.81M460.25,28.79V33.16M460.42,26.44V33.66M460.59,27.06V33.73M460.75,28.51V32.81M460.92,27.82V33.09M461.09,28.59V32.23M461.26,26.62V33.30M461.42,28.63V32.51M461.59,27.59V32.15M461.76,28.68V32.60M461.93,28.45V32.10M462.09,28.83V32.35M462.26,28.01V32.69M462.43,28.69V33.74M462.60,26.84V31.88M462.76,26.71V32.04M462.93,26.68V33.01M463.10,27.97V32.83M463.27,27.66V32.58M463.43,26.85V31.52M463.60,27.80V32.56M463.77,27.89V32.40M463.94,28.30V31.21M464.10,27.47V31.66M464.27,26.64V32.61M464.44,27.84V32.69M464.61,27.22V31.72M464.77,27.07V32.27M464.94,26.94V31.33M465.11,27.18V31.44M465.28,27.59V31.06M465.44,26.65V30.82M465.61,26.69V35.24M465.78,27.08V30.64M465.95,26.58V31.69M466.11,25.81V31.45M466.28,27.34V31.86M466.45,25.97V31.58M466.62,26.92V31.03M466.78,26.03V31.93M466.95,27.08V30.91M467.12,27.14V30.46M467.29,26.76V30.52M467.45,25.71V30.16M467.62,25.77V31.50M467.79,26.75V30.45M467.96,25.80V31.92M468.12,25.53V30.46M468.29,26.99V31.19M468.46,26.18V30.51M468.63,26.73V32.37M468.80,26.65V29.96M468.96,26.62V30.82M469.13,26.30V30.91M469.30,26.77V31.14M469.47,26.04V31.05M469.63,25.38V30.34M469.80,25.72V30.02M469.97,25.99V29.76M470.14,25.50V30.23M470.30,24.48V31.51M470.47,25.95V29.99M470.64,25.65V29.56M470.81,25.21V29.84M470.97,26.01V30.07M471.14,25.74V30.70M471.31,25.21V29.97M471.48,26.03V30.36M471.64,25.23V29.68M471.81,25.86V30.28M471.98,26.13V31.28M472.15,24.94V29.31M472.31,25.38V30.14M472.48,25.38V29.62M472.65,25.76V29.41M472.82,25.68V28.91M472.98,25.02V29.50M473.15,25.46V28.84M473.32,25.97V30.09M473.49,24.98V29.56M473.65,24.30V29.54M473.82,25.72V28.70M473.99,25.42V28.92M474.16,24.69V28.89M474.32,25.59V28.69M474.49,23.93V29.29M474.66,24.81V28.70M474.83,25.00V28.31M474.99,25.56V30.56M475.16,23.79V29.22M475.33,25.27V28.93M475.50,25.45V28.68M475.66,25.60V29.08M475.83,23.99V29.35M476.00,25.12V29.50M476.17,25.13V29.19M476.33,24.95V29.00M476.50,25.43V28.78M476.67,24.78V28.55M476.84,23.31V29.88M477.00,25.12V28.83M477.17,24.04V28.02M477.34,23.21V29.11M477.51,24.35V29.08M477.68,24.09V28.40M477.84,24.86V27.83M478.01,24.28V28.13M478.18,24.45V27.66M478.35,23.32V27.87M478.51,22.69V27.84M478.68,24.81V27.79M478.85,24.99V28.25M479.02,23.56V28.05M479.18,24.30V27.65M479.35,23.75V28.66M479.52,22.45V28.13M479.69,24.49V27.61M479.85,24.15V27.33M480.02,24.36V29.23M480.19,24.56V27.32M480.36,23.71V27.85M480.52,24.14V27.59M480.69,24.69V27.73M480.86,24.05V28.65M481.03,24.31V27.24M481.19,23.81V27.07M481.36,23.95V27.69M481.53,22.89V27.56M481.70,23.43V26.88M481.86,23.63V27.54M482.03,23.37V28.99M482.20,24.24V26.99M482.37,24.38V30.01M482.53,23.11V26.70M482.70,23.81V27.20M482.87,23.32V27.81M483.04,23.95V27.91M483.20,22.70V26.99M483.37,23.38V27.88M483.54,24.11V26.85M483.71,24.13V26.97M483.87,23.23V27.15M484.04,23.08V26.94M484.21,23.44V26.53M484.38,23.34V26.72M484.54,21.47V26.54M484.71,23.56V27.33M484.88,23.39V26.29M485.05,23.83V26.62M485.21,23.27V26.89M485.38,23.72V26.56M485.55,23.22V26.83M485.72,21.20V26.91M485.89,23.23V26.29M486.05,23.74V26.88M486.22,23.33V26.14M486.39,23.83V27.55M486.56,23.29V26.24M486.72,22.43V26.25M486.89,22.00V26.25M487.06,23.42V25.99M487.23,22.82V26.27M487.39,23.49V26.61M487.56,23.32V25.90M487.73,23.41V26.00M487.90,23.36V26.15M488.06,23.60V26.54M488.23,22.53V26.81M488.40,23.38V25.69M488.57,23.45V25.66M488.73,23.52V25.67M488.90,22.84V26.38M489.07,22.91V26.43M489.24,21.86V26.43M489.40,22.62V25.63M489.57,22.87V25.80M489.74,22.54V25.52M489.91,21.53V25.81M490.07,22.82V25.86M490.24,22.61V26.10M490.41,21.97V25.86M490.58,21.57V27.33M490.74,21.98V25.39M490.91,22.71V25.92M491.08,22.31V26.40M491.25,23.13V26.75M491.41,23.02V27.19M491.58,22.45V25.51M491.75,22.94V26.49M491.92,22.89V26.13M492.08,23.09V25.77M492.25,22.65V25.62M492.42,22.02V25.90M492.59,22.97V25.58M492.75,22.53V25.28M492.92,22.23V25.22M493.09,22.45V25.80M493.26,22.86V25.33M493.42,22.26V25.31M493.59,22.45V25.55M493.76,22.28V25.29M493.93,21.58V25.20M494.10,21.49V24.99M494.26,21.94V25.09M494.43,21.86V25.36M494.60,22.42V25.03M494.77,22.33V25.01M494.93,22.67V25.22M495.10,22.35V25.00M495.27,22.63V25.07M495.44,21.32V25.35M495.60,21.99V24.86M495.77,22.41V24.88M495.94,21.89V25.23M496.11,22.35V26.00M496.27,22.55V25.55M496.44,21.12V24.97M496.61,22.22V24.66M496.78,22.36V24.60M496.94,21.19V24.74M497.11,21.76V25.48M497.28,21.66V25.93M497.45,21.85V25.30M497.61,21.71V25.16M497.78,22.04V24.88M497.95,20.46V24.92M498.12,22.18V24.59M498.28,21.57V25.35M498.45,21.82V25.41M498.62,21.06V25.37M498.79,21.90V25.10M498.95,22.17V25.54M499.12,21.69V25.16M499.29,22.01V25.16M499.46,21.79V24.33M499.62,21.93V25.75M499.79,21.51V24.53M499.96,21.67V25.01M500.13,21.52V24.67M500.29,21.90V24.25M500.46,21.99V25.67M500.63,20.98V24.72M500.80,21.55V25.57M500.96,21.81V25.28M501.13,20.69V24.52M501.30,21.82V24.16M501.47,21.30V24.86M501.63,21.67V24.77M501.80,21.62V24.18M501.97,21.59V25.13M502.14,20.68V25.93M502.31,21.39V24.45M502.47,20.76V24.48M502.64,20.83V24.64M502.81,21.69V24.83M502.98,21.42V24.00M503.14,21.65V25.05M503.31,21.42V25.02M503.48,21.27V24.84M503.65,21.56V24.27M503.81,20.59V24.96M503.98,21.69V24.13M504.15,21.02V23.87M504.32,21.47V24.04M504.48,21.63V25.52M504.65,20.55V24.66M504.82,19.88V24.52M504.99,20.99V24.19M505.15,20.91V23.96M505.32,20.85V25.55M505.49,21.16V25.32M505.66,20.78V24.23M505.82,20.81V24.14M505.99,21.00V24.95M506.16,20.63V24.57M506.33,20.31V24.20M506.49,20.75V24.78M506.66,21.43V24.04M506.83,20.42V24.01M507.00,21.48V23.72M507.16,20.91V24.22M507.33,20.75V24.09M507.50,21.29V25.17M507.67,19.97V23.81M507.83,21.33V24.47M508.00,20.75V23.80M508.17,21.35V24.02M508.34,21.20V24.73M508.50,20.92V25.08M508.67,19.44V24.67M508.84,20.31V23.65M509.01,20.49V24.45M509.17,20.46V24.14M509.34,20.55V23.71M509.51,20.85V24.32M509.68,20.33V23.68M509.84,20.38V24.45M510.01,19.78V24.53M510.18,20.92V23.67M510.35,21.17V24.09M510.51,20.89V24.18M510.68,20.91V24.97M510.85,21.07V24.20M511.02,20.92V23.87M511.19,20.75V23.81M511.35,21.03V23.89M511.52,20.95V23.24M511.69,20.07V24.53M511.86,20.76V23.79M512.02,20.49V23.30M512.19,19.92V23.41M512.36,21.03V23.76M512.53,20.32V23.35M512.69,21.01V23.18M512.86,19.63V23.22M513.03,19.61V24.11M513.20,20.97V23.80M513.36,20.90V23.74M513.53,20.77V23.79M513.70,20.55V23.04M513.87,20.49V23.70M514.03,18.35V23.26M514.20,19.44V23.13M514.37,20.20V23.07M514.54,19.78V24.40M514.70,20.75V23.02M514.87,19.32V23.49M515.04,20.86V23.36M515.21,20.27V25.61M515.37,20.54V24.42M515.54,20.08V23.21M515.71,20.52V22.96M515.88,19.96V23.33M516.04,20.42V24.01M516.21,20.13V23.18M516.38,20.09V23.25M516.55,20.51V22.85M516.71,20.60V24.53M516.88,20.25V23.21M517.05,20.15V23.60M517.22,20.59V22.93M517.38,20.35V23.26M517.55,19.87V23.72M517.72,20.56V22.92M517.89,18.74V23.68M518.05,20.51V23.49M518.22,20.56V23.28M518.39,20.53V23.35M518.56,19.60V22.90M518.72,20.49V22.75M518.89,20.31V22.71M519.06,19.69V23.31M519.23,19.21V24.10M519.40,19.55V23.47M519.56,19.34V23.25M519.73,20.56V24.19M519.90,19.70V23.34M520.07,20.35V22.76M520.23,19.84V22.97M520.40,20.18V23.48M520.57,19.53V23.75M520.74,20.12V22.86M520.90,19.55V23.52M521.07,20.45V22.75M521.24,19.14V23.01M521.41,20.08V23.56M521.57,19.73V23.87M521.74,19.39V23.89M521.91,19.35V22.84M522.08,19.48V22.73M522.24,20.09V22.98M522.41,18.34V24.35M522.58,19.42V23.34M522.75,20.31V23.92M522.91,20.02V23.07M523.08,20.22V22.75M523.25,20.05V23.47M523.42,20.28V22.90M523.58,20.36V22.76M523.75,19.62V22.65M523.92,20.13V22.63M524.09,19.60V22.83M524.25,19.64V23.73" stroke="#000" stroke-width="0.6" fill="none"/><path d="M405.63,139.10 L405.66,138.03 L405.70,136.97 L405.74,135.92 L405.78,134.87 L405.82,133.83 L405.86,132.80 L405.90,131.78 L405.93,131.20" fill="none" stroke="#111" stroke-width="5.00" stroke-linecap="round" stroke-linejoin="round"/><path d="M405.93,131.20 L405.95,130.76 L405.99,129.75 L406.04,128.75 L406.09,127.75 L406.14,126.75 L406.19,125.77 L406.24,124.79 L406.29,123.81 L406.30,123.67" fill="none" stroke="#111" stroke-width="5.13" stroke-linecap="round" stroke-linejoin="round"/><path d="M406.30,123.67 L406.35,122.84 L406.41,121.87 L406.46,120.91 L406.52,119.96 L406.59,119.00 L406.65,118.06 L406.72,117.11 L406.76,116.44" fill="none" stroke="#111" stroke-width="5.26" stroke-linecap="round" stroke-linejoin="round"/><path d="M406.76,116.44 L406.78,116.18 L406.85,115.24 L406.92,114.31 L407.00,113.39 L407.07,112.46 L407.15,111.55 L407.23,110.63 L407.32,109.72 L407.34,109.46" fill="none" stroke="#111" stroke-width="5.40" stroke-linecap="round" stroke-linejoin="round"/><path d="M407.34,109.46 L407.40,108.81 L407.49,107.91 L407.58,107.00 L407.67,106.11 L407.77,105.21 L407.87,104.32 L407.97,103.43 L408.06,102.67" fill="none" stroke="#111" stroke-width="5.53" stroke-linecap="round" stroke-linejoin="round"/><path d="M408.06,102.67 L408.07,102.54 L408.18,101.66 L408.29,100.77 L408.40,99.89 L408.52,99.02 L408.64,98.14 L408.76,97.27 L408.89,96.40 L408.95,96.03" fill="none" stroke="#111" stroke-width="5.67" stroke-linecap="round" stroke-linejoin="round"/><path d="M408.95,96.03 L409.02,95.53 L409.16,94.67 L409.30,93.80 L409.44,92.94 L409.59,92.08 L409.74,91.23 L409.90,90.37 L410.06,89.52" fill="none" stroke="#111" stroke-width="5.80" stroke-linecap="round" stroke-linejoin="round"/><path d="M410.06,89.52 L410.22,88.67 L410.39,87.82 L410.57,86.97 L410.75,86.12 L410.93,85.28 L411.12,84.44 L411.32,83.60 L411.43,83.12" fill="none" stroke="#111" stroke-width="5.94" stroke-linecap="round" stroke-linejoin="round"/><path d="M411.43,83.12 L411.52,82.76 L411.73,81.92 L411.94,81.08 L412.16,80.25 L412.39,79.42 L412.63,78.59 L412.87,77.76 L413.11,76.94 L413.15,76.82" fill="none" stroke="#111" stroke-width="6.07" stroke-linecap="round" stroke-linejoin="round"/><path d="M413.15,76.82 L413.37,76.11 L413.63,75.29 L413.90,74.47 L414.18,73.65 L414.46,72.83 L414.76,72.02 L415.06,71.21 L415.28,70.63" fill="none" stroke="#111" stroke-width="6.20" stroke-linecap="round" stroke-linejoin="round"/><path d="M415.28,70.63 L415.37,70.40 L415.69,69.59 L416.02,68.78 L416.36,67.98 L416.71,67.18 L417.07,66.38 L417.44,65.58 L417.82,64.79 L417.93,64.56" fill="none" stroke="#111" stroke-width="6.34" stroke-linecap="round" stroke-linejoin="round"/><path d="M417.93,64.56 L418.21,63.99 L418.62,63.21 L419.03,62.42 L419.46,61.64 L419.90,60.85 L420.36,60.08 L420.82,59.30 L421.23,58.64" fill="none" stroke="#111" stroke-width="6.40" stroke-linecap="round" stroke-linejoin="round"/><path d="M421.23,58.64 L421.30,58.53 L421.80,57.76 L422.30,57.00 L422.83,56.23 L423.37,55.47 L423.92,54.72 L424.49,53.97 L425.08,53.22 L425.33,52.90" fill="none" stroke="#111" stroke-width="6.40" stroke-linecap="round" stroke-linejoin="round"/><path d="M425.33,52.90 L425.68,52.48 L426.30,51.74 L426.94,51.00 L427.60,50.27 L428.28,49.55 L428.98,48.82 L429.70,48.11 L430.44,47.39" fill="none" stroke="#111" stroke-width="6.40" stroke-linecap="round" stroke-linejoin="round"/><path d="M430.44,47.39 L431.20,46.69 L431.98,45.99 L432.79,45.29 L433.62,44.60 L434.47,43.91 L435.35,43.23 L436.25,42.56 L436.78,42.17" fill="none" stroke="#111" stroke-width="6.40" stroke-linecap="round" stroke-linejoin="round"/><path d="M436.78,42.17 L437.18,41.89 L438.14,41.23 L439.13,40.57 L440.14,39.92 L441.19,39.28 L442.26,38.64 L443.37,38.02 L444.51,37.40 L444.67,37.31" fill="none" stroke="#111" stroke-width="6.40" stroke-linecap="round" stroke-linejoin="round"/><path d="M444.67,37.31 L445.68,36.78 L446.89,36.18 L448.13,35.58 L449.41,34.99 L450.72,34.41 L452.08,33.83 L453.47,33.27 L454.49,32.87" fill="none" stroke="#111" stroke-width="6.40" stroke-linecap="round" stroke-linejoin="round"/><path d="M454.49,32.87 L454.90,32.72 L456.38,32.17 L457.90,31.63 L459.46,31.11 L461.07,30.59 L462.73,30.08 L464.43,29.58 L466.19,29.10 L466.70,28.96" fill="none" stroke="#111" stroke-width="6.40" stroke-linecap="round" stroke-linejoin="round"/><path d="M466.70,28.96 L467.99,28.62 L469.85,28.16 L471.77,27.70 L473.73,27.26 L475.76,26.83 L477.85,26.41 L479.99,26.00 L481.88,25.67" fill="none" stroke="#111" stroke-width="6.40" stroke-linecap="round" stroke-linejoin="round"/><path d="M481.88,25.67 L482.20,25.61 L484.48,25.23 L486.82,24.86 L489.23,24.51 L491.70,24.17 L494.26,23.84 L496.88,23.52 L499.58,23.23 L500.77,23.10" fill="none" stroke="#111" stroke-width="6.40" stroke-linecap="round" stroke-linejoin="round"/><path d="M500.77,23.10 L502.37,22.94 L505.23,22.67 L508.18,22.42 L511.21,22.18 L514.33,21.96 L517.54,21.75 L520.85,21.56 L524.25,21.39" fill="none" stroke="#111" stroke-width="6.40" stroke-linecap="round" stroke-linejoin="round"/><path d="M405.63,139.10 L405.66,138.03 L405.70,136.97 L405.74,135.92 L405.78,134.87 L405.82,133.83 L405.86,132.80 L405.90,131.78 L405.93,131.20" fill="none" stroke="#F07068" stroke-width="3.20" stroke-linecap="round" stroke-linejoin="round"/><path d="M405.93,131.20 L405.95,130.76 L405.99,129.75 L406.04,128.75 L406.09,127.75 L406.14,126.75 L406.19,125.77 L406.24,124.79 L406.29,123.81 L406.30,123.67" fill="none" stroke="#F07068" stroke-width="3.33" stroke-linecap="round" stroke-linejoin="round"/><path d="M406.30,123.67 L406.35,122.84 L406.41,121.87 L406.46,120.91 L406.52,119.96 L406.59,119.00 L406.65,118.06 L406.72,117.11 L406.76,116.44" fill="none" stroke="#F07068" stroke-width="3.46" stroke-linecap="round" stroke-linejoin="round"/><path d="M406.76,116.44 L406.78,116.18 L406.85,115.24 L406.92,114.31 L407.00,113.39 L407.07,112.46 L407.15,111.55 L407.23,110.63 L407.32,109.72 L407.34,109.46" fill="none" stroke="#F07068" stroke-width="3.60" stroke-linecap="round" stroke-linejoin="round"/><path d="M407.34,109.46 L407.40,108.81 L407.49,107.91 L407.58,107.00 L407.67,106.11 L407.77,105.21 L407.87,104.32 L407.97,103.43 L408.06,102.67" fill="none" stroke="#F07068" stroke-width="3.73" stroke-linecap="round" stroke-linejoin="round"/><path d="M408.06,102.67 L408.07,102.54 L408.18,101.66 L408.29,100.77 L408.40,99.89 L408.52,99.02 L408.64,98.14 L408.76,97.27 L408.89,96.40 L408.95,96.03" fill="none" stroke="#F07068" stroke-width="3.87" stroke-linecap="round" stroke-linejoin="round"/><path d="M408.95,96.03 L409.02,95.53 L409.16,94.67 L409.30,93.80 L409.44,92.94 L409.59,92.08 L409.74,91.23 L409.90,90.37 L410.06,89.52" fill="none" stroke="#F07068" stroke-width="4.00" stroke-linecap="round" stroke-linejoin="round"/><path d="M410.06,89.52 L410.22,88.67 L410.39,87.82 L410.57,86.97 L410.75,86.12 L410.93,85.28 L411.12,84.44 L411.32,83.60 L411.43,83.12" fill="none" stroke="#F07068" stroke-width="4.14" stroke-linecap="round" stroke-linejoin="round"/><path d="M411.43,83.12 L411.52,82.76 L411.73,81.92 L411.94,81.08 L412.16,80.25 L412.39,79.42 L412.63,78.59 L412.87,77.76 L413.11,76.94 L413.15,76.82" fill="none" stroke="#F07068" stroke-width="4.27" stroke-linecap="round" stroke-linejoin="round"/><path d="M413.15,76.82 L413.37,76.11 L413.63,75.29 L413.90,74.47 L414.18,73.65 L414.46,72.83 L414.76,72.02 L415.06,71.21 L415.28,70.63" fill="none" stroke="#F07068" stroke-width="4.40" stroke-linecap="round" stroke-linejoin="round"/><path d="M415.28,70.63 L415.37,70.40 L415.69,69.59 L416.02,68.78 L416.36,67.98 L416.71,67.18 L417.07,66.38 L417.44,65.58 L417.82,64.79 L417.93,64.56" fill="none" stroke="#F07068" stroke-width="4.54" stroke-linecap="round" stroke-linejoin="round"/><path d="M417.93,64.56 L418.21,63.99 L418.62,63.21 L419.03,62.42 L419.46,61.64 L419.90,60.85 L420.36,60.08 L420.82,59.30 L421.23,58.64" fill="none" stroke="#F07068" stroke-width="4.60" stroke-linecap="round" stroke-linejoin="round"/><path d="M421.23,58.64 L421.30,58.53 L421.80,57.76 L422.30,57.00 L422.83,56.23 L423.37,55.47 L423.92,54.72 L424.49,53.97 L425.08,53.22 L425.33,52.90" fill="none" stroke="#F07068" stroke-width="4.60" stroke-linecap="round" stroke-linejoin="round"/><path d="M425.33,52.90 L425.68,52.48 L426.30,51.74 L426.94,51.00 L427.60,50.27 L428.28,49.55 L428.98,48.82 L429.70,48.11 L430.44,47.39" fill="none" stroke="#F07068" stroke-width="4.60" stroke-linecap="round" stroke-linejoin="round"/><path d="M430.44,47.39 L431.20,46.69 L431.98,45.99 L432.79,45.29 L433.62,44.60 L434.47,43.91 L435.35,43.23 L436.25,42.56 L436.78,42.17" fill="none" stroke="#F07068" stroke-width="4.60" stroke-linecap="round" stroke-linejoin="round"/><path d="M436.78,42.17 L437.18,41.89 L438.14,41.23 L439.13,40.57 L440.14,39.92 L441.19,39.28 L442.26,38.64 L443.37,38.02 L444.51,37.40 L444.67,37.31" fill="none" stroke="#F07068" stroke-width="4.60" stroke-linecap="round" stroke-linejoin="round"/><path d="M444.67,37.31 L445.68,36.78 L446.89,36.18 L448.13,35.58 L449.41,34.99 L450.72,34.41 L452.08,33.83 L453.47,33.27 L454.49,32.87" fill="none" stroke="#F07068" stroke-width="4.60" stroke-linecap="round" stroke-linejoin="round"/><path d="M454.49,32.87 L454.90,32.72 L456.38,32.17 L457.90,31.63 L459.46,31.11 L461.07,30.59 L462.73,30.08 L464.43,29.58 L466.19,29.10 L466.70,28.96" fill="none" stroke="#F07068" stroke-width="4.60" stroke-linecap="round" stroke-linejoin="round"/><path d="M466.70,28.96 L467.99,28.62 L469.85,28.16 L471.77,27.70 L473.73,27.26 L475.76,26.83 L477.85,26.41 L479.99,26.00 L481.88,25.67" fill="none" stroke="#F07068" stroke-width="4.60" stroke-linecap="round" stroke-linejoin="round"/><path d="M481.88,25.67 L482.20,25.61 L484.48,25.23 L486.82,24.86 L489.23,24.51 L491.70,24.17 L494.26,23.84 L496.88,23.52 L499.58,23.23 L500.77,23.10" fill="none" stroke="#F07068" stroke-width="4.60" stroke-linecap="round" stroke-linejoin="round"/><path d="M500.77,23.10 L502.37,22.94 L505.23,22.67 L508.18,22.42 L511.21,22.18 L514.33,21.96 L517.54,21.75 L520.85,21.56 L524.25,21.39" fill="none" stroke="#F07068" stroke-width="4.60" stroke-linecap="round" stroke-linejoin="round"/>
<line x1="554.8" y1="15.2" x2="554.8" y2="152.5" stroke="#5A5A5A" stroke-width="1"/>
<line x1="554.3" y1="152.0" x2="684.5" y2="152.0" stroke="#5A5A5A" stroke-width="1"/>
<line x1="552.0" y1="127.5" x2="554.8" y2="127.5" stroke="#5A5A5A" stroke-width="1"/>
<text x="551.4" y="130.4" font-size="6.4" text-anchor="end" font-weight="normal" fill="#333333">250</text>
<line x1="552.0" y1="87.8" x2="554.8" y2="87.8" stroke="#5A5A5A" stroke-width="1"/>
<text x="551.4" y="90.7" font-size="6.4" text-anchor="end" font-weight="normal" fill="#333333">500</text>
<line x1="552.0" y1="48.099999999999994" x2="554.8" y2="48.099999999999994" stroke="#5A5A5A" stroke-width="1"/>
<text x="551.4" y="50.99999999999999" font-size="6.4" text-anchor="end" font-weight="normal" fill="#333333">750</text>
<line x1="558.9" y1="152.0" x2="558.9" y2="154.2" stroke="#5A5A5A" stroke-width="1"/>
<text x="558.9" y="160.9" font-size="6.4" text-anchor="middle" font-weight="normal" fill="#333333">0</text>
<line x1="592.197" y1="152.0" x2="592.197" y2="154.2" stroke="#5A5A5A" stroke-width="1"/>
<text x="592.197" y="160.9" font-size="6.4" text-anchor="middle" font-weight="normal" fill="#333333">300</text>
<line x1="625.494" y1="152.0" x2="625.494" y2="154.2" stroke="#5A5A5A" stroke-width="1"/>
<text x="625.494" y="160.9" font-size="6.4" text-anchor="middle" font-weight="normal" fill="#333333">600</text>
<line x1="658.7909999999999" y1="152.0" x2="658.7909999999999" y2="154.2" stroke="#5A5A5A" stroke-width="1"/>
<text x="658.7909999999999" y="160.9" font-size="6.4" text-anchor="middle" font-weight="normal" fill="#333333">900</text>
<text x="619.8" y="11.2" font-size="7.8" text-anchor="middle" font-weight="normal" fill="#1a1a1a">Annotated MS2 spectra</text>
<line x1="560.01" y1="138.64" x2="560.01" y2="145.64" stroke="#111" stroke-width="0.8"/><path d="M560.01,137.06V140.25M560.18,134.36V138.26M560.34,131.71V136.24M560.51,130.15V134.74M560.68,129.04V132.30M560.84,125.36V131.88M561.01,123.44V128.95M561.18,124.10V127.37M561.34,121.65V128.55M561.51,120.76V125.27M561.67,117.43V123.62M561.84,117.36V122.46M562.01,115.61V120.99M562.17,113.86V120.34M562.34,113.36V119.75M562.51,111.45V120.49M562.67,112.36V118.15M562.84,108.52V115.87M563.01,110.33V116.71M563.17,108.05V114.60M563.34,107.74V114.25M563.51,106.91V115.42M563.67,105.72V111.51M563.84,105.48V111.15M564.01,102.29V112.27M564.17,101.35V110.78M564.34,102.60V109.56M564.50,100.87V108.46M564.67,99.08V109.66M564.84,99.63V106.50M565.00,100.37V105.70M565.17,99.35V105.33M565.34,98.11V105.69M565.50,97.81V104.40M565.67,95.76V102.46M565.84,96.39V102.27M566.00,92.82V101.85M566.17,93.75V102.14M566.34,92.78V102.86M566.50,94.31V99.77M566.67,94.06V100.52M566.84,92.13V100.36M567.00,92.28V98.62M567.17,91.86V98.16M567.34,90.87V97.10M567.50,90.21V98.50M567.67,88.87V95.69M567.83,89.31V95.02M568.00,86.51V95.19M568.17,88.01V93.73M568.33,86.42V92.94M568.50,87.36V93.39M568.67,87.63V93.16M568.83,86.55V93.88M569.00,82.90V92.67M569.17,85.50V93.03M569.33,84.62V92.06M569.50,85.24V91.08M569.67,84.20V89.37M569.83,84.32V89.26M570.00,80.42V88.19M570.17,81.98V89.29M570.33,81.80V89.35M570.50,79.75V88.44M570.66,80.55V88.35M570.83,81.91V86.43M571.00,76.46V86.56M571.16,78.10V88.18M571.33,79.79V85.26M571.50,79.33V87.11M571.66,76.95V84.06M571.83,78.08V85.78M572.00,79.06V86.35M572.16,76.55V83.72M572.33,74.02V82.66M572.50,77.36V82.58M572.66,77.52V86.82M572.83,76.91V82.94M573.00,76.51V81.49M573.16,76.04V80.75M573.33,74.92V80.64M573.50,73.87V80.12M573.66,74.73V80.32M573.83,73.27V80.49M573.99,73.20V79.39M574.16,71.23V81.10M574.33,74.08V79.67M574.49,72.73V80.24M574.66,72.61V77.94M574.83,72.35V77.25M574.99,72.34V77.73M575.16,71.79V77.93M575.33,72.15V77.58M575.49,69.05V77.22M575.66,69.28V78.51M575.83,70.92V75.49M575.99,68.96V75.61M576.16,69.47V77.13M576.33,69.53V75.22M576.49,69.43V75.95M576.66,68.98V76.26M576.82,67.15V73.76M576.99,67.40V75.43M577.16,67.13V74.02M577.32,65.16V74.30M577.49,67.94V74.31M577.66,64.50V73.74M577.82,67.79V71.87M577.99,65.89V72.10M578.16,65.57V72.86M578.32,66.38V73.00M578.49,64.30V72.89M578.66,65.36V71.00M578.82,66.31V71.50M578.99,64.74V70.46M579.16,65.19V69.77M579.32,64.23V70.57M579.49,64.47V72.49M579.66,61.63V70.47M579.82,64.38V69.24M579.99,63.73V70.04M580.15,63.78V68.56M580.32,63.08V70.27M580.49,63.34V68.63M580.65,62.81V67.51M580.82,60.08V67.56M580.99,62.93V68.94M581.15,60.16V67.41M581.32,61.39V67.30M581.49,61.77V67.28M581.65,61.68V68.44M581.82,61.85V66.35M581.99,60.73V66.32M582.15,60.92V66.73M582.32,59.49V66.35M582.49,59.47V65.65M582.65,59.68V66.09M582.82,60.04V64.59M582.98,60.23V68.04M583.15,60.22V64.43M583.32,59.46V63.90M583.48,59.44V65.40M583.65,56.53V63.88M583.82,56.91V63.61M583.98,58.98V64.79M584.15,56.41V63.36M584.32,57.94V64.41M584.48,57.37V62.44M584.65,55.19V62.30M584.82,58.18V62.97M584.98,57.48V61.93M585.15,56.67V62.29M585.32,54.88V61.57M585.48,55.03V61.43M585.65,56.66V62.50M585.82,54.84V61.97M585.98,55.62V60.76M586.15,55.19V61.98M586.31,56.45V60.49M586.48,55.60V60.06M586.65,55.52V60.55M586.81,55.30V59.75M586.98,54.72V61.74M587.15,54.53V60.03M587.31,55.36V60.90M587.48,52.63V59.11M587.65,51.66V60.32M587.81,54.08V61.97M587.98,51.86V58.61M588.15,54.38V58.37M588.31,53.11V61.28M588.48,53.91V59.14M588.65,51.45V58.59M588.81,53.25V59.29M588.98,53.41V58.29M589.14,53.12V58.70M589.31,51.85V57.22M589.48,51.63V57.95M589.64,51.55V57.19M589.81,52.74V57.45M589.98,52.46V58.59M590.14,51.54V57.54M590.31,51.04V58.39M590.48,51.63V56.97M590.64,49.64V56.08M590.81,49.27V58.07M590.98,50.53V58.06M591.14,50.28V56.47M591.31,49.70V55.49M591.48,50.62V55.08M591.64,49.07V55.51M591.81,49.90V55.25M591.98,49.70V55.45M592.14,49.98V54.79M592.31,49.58V54.58M592.47,48.83V56.70M592.64,48.42V55.26M592.81,48.35V55.57M592.97,49.33V54.48M593.14,49.26V53.50M593.31,48.92V53.90M593.47,49.05V54.81M593.64,48.54V52.90M593.81,49.00V53.21M593.97,47.96V53.43M594.14,48.72V54.76M594.31,45.51V55.10M594.47,46.37V54.79M594.64,47.77V54.13M594.81,47.66V54.21M594.97,45.51V53.08M595.14,44.62V52.47M595.30,46.86V52.19M595.47,47.14V53.16M595.64,45.81V54.48M595.80,46.73V51.04M595.97,46.43V51.09M596.14,46.91V51.32M596.30,45.39V52.61M596.47,45.93V50.91M596.64,43.86V51.86M596.80,44.10V50.91M596.97,46.48V51.93M597.14,46.43V52.96M597.30,45.93V52.14M597.47,45.71V51.30M597.64,45.56V51.47M597.80,45.30V49.95M597.97,44.09V52.11M598.13,44.69V49.63M598.30,45.41V49.49M598.47,43.74V49.06M598.63,44.79V49.35M598.80,43.55V48.77M598.97,42.69V49.84M599.13,43.58V48.74M599.30,44.26V49.05M599.47,43.29V50.58M599.63,42.15V48.42M599.80,44.08V50.87M599.97,44.28V48.59M600.13,44.19V49.35M600.30,43.40V48.02M600.47,43.72V47.85M600.63,42.26V50.13M600.80,43.66V47.71M600.97,43.31V49.75M601.13,42.51V48.07M601.30,43.19V47.48M601.46,41.09V47.28M601.63,40.74V47.84M601.80,42.73V46.52M601.96,42.89V46.51M602.13,39.92V46.89M602.30,41.16V46.93M602.46,41.83V46.22M602.63,41.79V47.03M602.80,40.17V45.90M602.96,41.94V45.98M603.13,42.00V47.51M603.30,41.44V47.03M603.46,37.85V45.84M603.63,40.45V47.96M603.80,41.74V47.40M603.96,40.87V45.78M604.13,39.24V45.70M604.29,40.04V46.47M604.46,40.39V46.06M604.63,37.87V46.11M604.79,41.14V46.37M604.96,39.28V45.02M605.13,39.76V44.44M605.29,40.85V44.45M605.46,38.33V45.44M605.63,39.42V44.42M605.79,40.56V44.30M605.96,38.35V44.37M606.13,40.29V44.26M606.29,38.36V44.27M606.46,40.05V43.71M606.63,39.95V44.38M606.79,39.37V43.66M606.96,38.99V43.44M607.13,39.79V43.71M607.29,37.51V44.64M607.46,37.99V43.99M607.62,39.45V44.25M607.79,39.32V43.81M607.96,37.87V42.84M608.12,39.03V42.61M608.29,37.78V43.47M608.46,38.69V44.20M608.62,38.51V42.35M608.79,36.48V42.62M608.96,38.73V43.57M609.12,38.62V41.89M609.29,38.33V43.63M609.46,37.21V42.29M609.62,38.13V42.98M609.79,37.99V43.35M609.96,37.49V42.68M610.12,37.54V43.27M610.29,35.29V41.70M610.45,37.17V41.39M610.62,37.26V41.51M610.79,37.59V41.61M610.95,37.20V41.71M611.12,36.34V41.96M611.29,36.58V44.77M611.45,36.26V40.88M611.62,37.04V42.44M611.79,35.41V40.84M611.95,36.49V40.57M612.12,36.76V41.08M612.29,36.32V40.61M612.45,35.25V40.75M612.62,36.80V41.22M612.79,35.13V41.14M612.95,34.42V40.96M613.12,35.52V39.92M613.29,34.98V39.75M613.45,35.05V39.72M613.62,33.82V41.19M613.78,35.52V39.42M613.95,36.15V39.65M614.12,35.82V40.53M614.28,35.23V40.23M614.45,33.96V40.51M614.62,34.99V39.22M614.78,34.25V39.35M614.95,34.35V38.80M615.12,34.38V39.17M615.28,32.86V39.34M615.45,33.95V39.15M615.62,35.12V39.02M615.78,34.71V40.04M615.95,33.69V39.21M616.12,33.39V40.01M616.28,34.87V38.48M616.45,34.86V38.61M616.61,34.72V38.28M616.78,34.83V39.21M616.95,33.36V39.40M617.11,34.21V37.84M617.28,32.74V38.47M617.45,33.49V37.92M617.61,33.46V39.09M617.78,34.24V38.73M617.95,33.92V39.28M618.11,33.83V37.62M618.28,33.51V38.08M618.45,33.73V38.12M618.61,34.04V37.16M618.78,32.77V37.95M618.95,33.66V37.21M619.11,33.65V36.99M619.28,31.89V39.53M619.45,33.61V37.07M619.61,32.24V37.73M619.78,33.09V37.56M619.94,33.09V38.53M620.11,33.12V37.63M620.28,32.53V37.14M620.44,31.15V36.42M620.61,32.40V36.59M620.78,32.00V36.56M620.94,31.29V36.11M621.11,31.88V36.88M621.28,32.53V38.55M621.44,31.37V37.24M621.61,31.40V37.74M621.78,31.21V36.62M621.94,31.51V35.92M622.11,32.54V36.34M622.28,32.35V35.72M622.44,32.23V36.67M622.61,31.64V37.23M622.77,32.08V35.98M622.94,31.49V35.69M623.11,30.09V35.36M623.27,30.74V35.81M623.44,31.15V35.78M623.61,31.57V35.16M623.77,29.73V34.77M623.94,30.69V35.84M624.11,30.93V34.83M624.27,31.73V35.71M624.44,31.48V34.70M624.61,31.24V34.48M624.77,31.22V35.29M624.94,30.61V34.81M625.11,29.60V35.03M625.27,31.05V36.83M625.44,30.92V34.64M625.60,30.76V35.17M625.77,29.25V35.54M625.94,30.97V35.40M626.10,29.63V34.99M626.27,28.06V34.71M626.44,30.78V34.82M626.60,30.80V34.99M626.77,30.83V34.80M626.94,30.54V33.72M627.10,29.03V34.34M627.27,29.60V33.63M627.44,30.36V33.39M627.60,30.40V33.24M627.77,29.75V33.73M627.94,29.95V33.17M628.10,29.23V33.75M628.27,29.67V32.99M628.44,30.07V33.07M628.60,29.60V32.92M628.77,28.78V35.82M628.93,30.12V34.45M629.10,29.12V33.91M629.27,29.32V33.86M629.43,29.64V33.03M629.60,28.64V34.12M629.77,29.34V32.87M629.93,28.96V34.32M630.10,29.43V32.63M630.27,29.59V32.38M630.43,29.29V33.10M630.60,27.48V34.05M630.77,29.25V32.55M630.93,29.30V32.99M631.10,29.24V32.42M631.27,28.27V31.93M631.43,28.90V32.40M631.60,28.55V32.86M631.76,28.75V32.34M631.93,28.71V31.73M632.10,28.85V32.60M632.26,28.26V32.42M632.43,28.82V32.24M632.60,27.85V31.94M632.76,28.81V33.02M632.93,26.59V32.20M633.10,28.11V32.83M633.26,26.94V31.73M633.43,27.87V32.84M633.60,26.32V31.25M633.76,28.25V31.70M633.93,27.76V32.54M634.10,26.94V32.24M634.26,28.28V31.65M634.43,27.01V32.42M634.60,27.59V30.97M634.76,27.75V31.66M634.93,27.92V32.78M635.09,27.69V30.73M635.26,27.33V30.88M635.43,27.77V30.97M635.59,27.38V31.56M635.76,27.42V31.91M635.93,27.61V31.90M636.09,25.93V31.87M636.26,26.82V30.46M636.43,27.19V31.30M636.59,27.62V30.60M636.76,26.97V31.03M636.93,26.85V30.06M637.09,25.91V30.62M637.26,27.13V30.37M637.43,27.04V30.55M637.59,27.35V30.92M637.76,25.09V30.23M637.92,26.94V31.19M638.09,26.06V30.41M638.26,26.23V30.23M638.42,26.72V29.89M638.59,26.79V30.34M638.76,26.92V30.39M638.92,26.85V31.47M639.09,26.50V29.33M639.26,26.12V30.52M639.42,25.31V30.91M639.59,26.29V30.57M639.76,26.78V30.40M639.92,26.79V29.33M640.09,26.34V29.95M640.26,25.88V29.38M640.42,26.08V29.22M640.59,25.76V29.79M640.76,25.98V29.50M640.92,25.77V30.04M641.09,25.46V30.18M641.25,26.39V29.45M641.42,24.82V28.69M641.59,26.18V29.82M641.75,24.38V28.75M641.92,25.45V29.36M642.09,25.75V29.26M642.25,24.85V28.76M642.42,26.11V28.65M642.59,25.97V28.88M642.75,25.49V29.30M642.92,25.68V29.45M643.09,26.01V29.50M643.25,25.37V29.13M643.42,23.97V28.34M643.59,24.92V28.64M643.75,23.86V28.62M643.92,24.54V28.52M644.08,24.52V29.37M644.25,25.03V27.93M644.42,25.11V28.10M644.58,25.09V29.46M644.75,24.94V28.32M644.92,24.63V28.87M645.08,25.34V28.37M645.25,24.97V27.86M645.42,24.53V27.92M645.58,24.76V29.25M645.75,24.34V28.03M645.92,22.70V28.54M646.08,24.31V27.61M646.25,24.84V27.96M646.42,25.15V28.72M646.58,24.82V27.98M646.75,23.72V27.40M646.92,24.77V27.51M647.08,24.09V27.50M647.25,24.27V27.34M647.41,24.13V27.70M647.58,23.68V27.39M647.75,24.57V27.75M647.91,24.77V27.52M648.08,24.33V27.81M648.25,23.86V27.37M648.41,24.22V27.71M648.58,23.53V26.85M648.75,24.05V27.96M648.91,24.38V27.05M649.08,23.86V26.65M649.25,24.03V27.88M649.41,23.87V28.01M649.58,23.45V27.15M649.75,24.29V27.46M649.91,23.75V26.47M650.08,23.74V26.45M650.24,23.61V27.27M650.41,23.64V27.40M650.58,23.88V26.64M650.74,22.98V27.01M650.91,23.76V27.22M651.08,23.08V26.36M651.24,23.58V27.60M651.41,23.79V26.92M651.58,23.65V26.46M651.74,23.39V27.12M651.91,23.86V26.47M652.08,23.12V26.70M652.24,23.61V26.03M652.41,23.52V26.02M652.58,23.56V26.67M652.74,23.07V26.16M652.91,22.71V26.90M653.08,22.85V26.64M653.24,22.95V25.75M653.41,23.15V26.34M653.57,21.99V26.56M653.74,22.98V25.73M653.91,23.22V26.50M654.07,22.72V26.41M654.24,23.08V25.64M654.41,22.08V26.15M654.57,23.19V25.52M654.74,22.99V26.89M654.91,23.21V25.67M655.07,21.71V25.76M655.24,22.66V26.48M655.41,22.21V25.43M655.57,22.69V25.31M655.74,22.90V25.86M655.91,22.31V25.47M656.07,22.89V26.46M656.24,22.26V25.50M656.40,22.00V26.18M656.57,21.78V25.62M656.74,21.62V25.10M656.90,22.20V26.77M657.07,22.41V26.33M657.24,22.61V24.87M657.40,22.01V25.60M657.57,22.38V25.25M657.74,22.16V26.03M657.90,22.41V26.51M658.07,21.93V25.02M658.24,22.03V25.32M658.40,22.14V24.84M658.57,20.91V25.04M658.74,21.42V24.78M658.90,21.88V24.95M659.07,20.74V24.83M659.23,22.08V24.97M659.40,21.96V24.65M659.57,21.74V24.66M659.73,22.04V26.40M659.90,22.06V24.85M660.07,21.43V24.61M660.23,21.70V24.70M660.40,21.19V24.33M660.57,20.73V24.84M660.73,21.28V24.40M660.90,21.30V24.23M661.07,21.57V24.30M661.23,21.41V24.79M661.40,21.66V24.27M661.57,21.85V25.82M661.73,21.63V25.14M661.90,20.65V25.26M662.07,20.37V24.59M662.23,21.33V24.69M662.40,21.54V24.36M662.56,20.91V24.34M662.73,21.29V25.29M662.90,21.60V25.67M663.06,19.26V24.84M663.23,21.54V24.53M663.40,21.41V24.14M663.56,21.44V24.45M663.73,20.70V23.82M663.90,21.44V23.66M664.06,21.33V24.03M664.23,21.39V23.94M664.40,20.23V24.15M664.56,19.85V23.60M664.73,20.08V24.57M664.90,20.98V25.98M665.06,21.05V23.88M665.23,20.90V24.39M665.39,20.67V23.41M665.56,19.45V24.25M665.73,20.99V23.82M665.89,20.21V23.76M666.06,20.68V24.85M666.23,19.36V23.38M666.39,20.81V23.56M666.56,19.01V23.12M666.73,19.81V23.63M666.89,20.84V23.27M667.06,20.36V23.49M667.23,20.18V24.05M667.39,20.52V24.10M667.56,20.27V23.72M667.73,20.57V23.77M667.89,20.69V23.35M668.06,20.25V22.92M668.23,19.81V23.11M668.39,20.58V24.07M668.56,20.57V23.76M668.72,19.94V23.15M668.89,20.14V23.57M669.06,20.48V23.85M669.22,19.48V23.47M669.39,19.72V24.17M669.56,19.25V22.97M669.72,19.45V22.73M669.89,19.53V22.58M670.06,20.27V22.93M670.22,19.95V23.79M670.39,19.84V23.23M670.56,20.27V22.49M670.72,18.43V24.30M670.89,19.68V23.96M671.06,19.97V22.58M671.22,16.96V22.63M671.39,18.67V23.43M671.55,19.79V22.70M671.72,18.72V22.41M671.89,19.95V22.66M672.05,18.79V22.93M672.22,19.79V22.65M672.39,19.25V22.45M672.55,19.90V22.28M672.72,19.41V22.20M672.89,19.84V23.32M673.05,19.03V22.33M673.22,18.54V22.26M673.39,19.31V22.72M673.55,19.32V22.58M673.72,19.09V22.56M673.89,19.78V24.29M674.05,17.96V21.94M674.22,19.55V22.69M674.39,19.41V24.01M674.55,18.59V22.80M674.72,19.63V23.01M674.88,18.71V22.24M675.05,18.93V22.47M675.22,19.09V22.15M675.38,19.26V21.79M675.55,19.46V22.21M675.72,19.00V21.80M675.88,19.36V21.70M676.05,18.79V23.08M676.22,19.06V22.23M676.38,19.30V22.60M676.55,17.52V23.29M676.72,19.20V22.61M676.88,19.30V23.42M677.05,18.95V22.57M677.22,18.91V22.58M677.38,18.08V21.61M677.55,19.01V23.25M677.71,18.99V22.49M677.88,18.63V22.08" stroke="#000" stroke-width="0.6" fill="none"/><path d="M560.01,138.64 L560.04,138.15 L560.08,137.66 L560.11,137.16 L560.15,136.67 L560.19,136.17 L560.22,135.66 L560.26,135.15 L560.29,134.86" fill="none" stroke="#111" stroke-width="5.27" stroke-linecap="round" stroke-linejoin="round"/><path d="M560.29,134.86 L560.30,134.64 L560.35,134.13 L560.39,133.61 L560.43,133.09 L560.48,132.56 L560.53,132.03 L560.58,131.49 L560.63,130.95 L560.63,130.88" fill="none" stroke="#111" stroke-width="5.42" stroke-linecap="round" stroke-linejoin="round"/><path d="M560.63,130.88 L560.68,130.41 L560.73,129.86 L560.78,129.31 L560.84,128.75 L560.90,128.19 L560.96,127.63 L561.02,127.05 L561.06,126.64" fill="none" stroke="#111" stroke-width="5.56" stroke-linecap="round" stroke-linejoin="round"/><path d="M561.06,126.64 L561.08,126.48 L561.15,125.90 L561.22,125.31 L561.28,124.72 L561.36,124.12 L561.43,123.52 L561.50,122.91 L561.58,122.30 L561.60,122.12" fill="none" stroke="#111" stroke-width="5.70" stroke-linecap="round" stroke-linejoin="round"/><path d="M561.60,122.12 L561.66,121.68 L561.74,121.06 L561.83,120.43 L561.92,119.79 L562.01,119.15 L562.10,118.50 L562.19,117.85 L562.28,117.29" fill="none" stroke="#111" stroke-width="5.85" stroke-linecap="round" stroke-linejoin="round"/><path d="M562.28,117.29 L562.29,117.20 L562.39,116.53 L562.50,115.86 L562.61,115.19 L562.72,114.51 L562.83,113.82 L562.95,113.13 L563.07,112.43 L563.12,112.13" fill="none" stroke="#111" stroke-width="5.99" stroke-linecap="round" stroke-linejoin="round"/><path d="M563.12,112.13 L563.19,111.73 L563.32,111.02 L563.45,110.30 L563.59,109.58 L563.73,108.86 L563.87,108.12 L564.02,107.39 L564.17,106.64" fill="none" stroke="#111" stroke-width="6.13" stroke-linecap="round" stroke-linejoin="round"/><path d="M564.17,106.64 L564.33,105.89 L564.49,105.14 L564.66,104.38 L564.83,103.61 L565.01,102.84 L565.19,102.07 L565.38,101.28 L565.49,100.83" fill="none" stroke="#111" stroke-width="6.28" stroke-linecap="round" stroke-linejoin="round"/><path d="M565.49,100.83 L565.57,100.50 L565.77,99.70 L565.98,98.91 L566.19,98.10 L566.41,97.30 L566.63,96.48 L566.86,95.67 L567.10,94.84 L567.13,94.73" fill="none" stroke="#111" stroke-width="6.42" stroke-linecap="round" stroke-linejoin="round"/><path d="M567.13,94.73 L567.34,94.02 L567.59,93.18 L567.85,92.35 L568.12,91.51 L568.40,90.66 L568.68,89.81 L568.97,88.96 L569.19,88.35" fill="none" stroke="#111" stroke-width="6.56" stroke-linecap="round" stroke-linejoin="round"/><path d="M569.19,88.35 L569.27,88.10 L569.58,87.24 L569.90,86.37 L570.23,85.50 L570.57,84.63 L570.92,83.75 L571.27,82.87 L571.64,81.99 L571.75,81.74" fill="none" stroke="#111" stroke-width="6.71" stroke-linecap="round" stroke-linejoin="round"/><path d="M571.75,81.74 L572.02,81.10 L572.42,80.21 L572.82,79.32 L573.23,78.43 L573.66,77.53 L574.10,76.63 L574.56,75.73 L574.96,74.95" fill="none" stroke="#111" stroke-width="6.80" stroke-linecap="round" stroke-linejoin="round"/><path d="M574.96,74.95 L575.02,74.82 L575.50,73.92 L576.00,73.01 L576.51,72.10 L577.04,71.19 L577.58,70.28 L578.13,69.37 L578.71,68.45 L578.96,68.06" fill="none" stroke="#111" stroke-width="6.80" stroke-linecap="round" stroke-linejoin="round"/><path d="M578.96,68.06 L579.30,67.54 L579.91,66.62 L580.54,65.71 L581.18,64.79 L581.85,63.87 L582.53,62.96 L583.24,62.04 L583.96,61.13" fill="none" stroke="#111" stroke-width="6.80" stroke-linecap="round" stroke-linejoin="round"/><path d="M583.96,61.13 L584.71,60.21 L585.48,59.30 L586.27,58.39 L587.09,57.48 L587.93,56.57 L588.80,55.67 L589.69,54.76 L590.21,54.25" fill="none" stroke="#111" stroke-width="6.80" stroke-linecap="round" stroke-linejoin="round"/><path d="M590.21,54.25 L590.61,53.86 L591.56,52.96 L592.53,52.07 L593.53,51.18 L594.57,50.29 L595.63,49.40 L596.73,48.52 L597.86,47.64 L598.02,47.52" fill="none" stroke="#111" stroke-width="6.80" stroke-linecap="round" stroke-linejoin="round"/><path d="M598.02,47.52 L599.02,46.77 L600.22,45.90 L601.45,45.04 L602.72,44.18 L604.03,43.33 L605.37,42.48 L606.76,41.64 L607.78,41.04" fill="none" stroke="#111" stroke-width="6.80" stroke-linecap="round" stroke-linejoin="round"/><path d="M607.78,41.04 L608.19,40.80 L609.66,39.98 L611.17,39.16 L612.74,38.34 L614.34,37.54 L616.00,36.74 L617.70,35.95 L619.45,35.17 L619.97,34.94" fill="none" stroke="#111" stroke-width="6.80" stroke-linecap="round" stroke-linejoin="round"/><path d="M619.97,34.94 L621.26,34.39 L623.12,33.63 L625.04,32.88 L627.01,32.13 L629.05,31.40 L631.14,30.67 L633.30,29.96 L635.19,29.36" fill="none" stroke="#111" stroke-width="6.80" stroke-linecap="round" stroke-linejoin="round"/><path d="M635.19,29.36 L635.52,29.26 L637.80,28.57 L640.16,27.89 L642.58,27.22 L645.08,26.56 L647.65,25.92 L650.30,25.29 L653.03,24.68 L654.22,24.42" fill="none" stroke="#111" stroke-width="6.80" stroke-linecap="round" stroke-linejoin="round"/><path d="M654.22,24.42 L655.84,24.08 L658.73,23.49 L661.71,22.92 L664.78,22.36 L667.94,21.82 L671.19,21.29 L674.54,20.78 L677.99,20.29" fill="none" stroke="#111" stroke-width="6.80" stroke-linecap="round" stroke-linejoin="round"/><path d="M560.01,138.64 L560.04,138.15 L560.08,137.66 L560.11,137.16 L560.15,136.67 L560.19,136.17 L560.22,135.66 L560.26,135.15 L560.29,134.86" fill="none" stroke="#7FBB24" stroke-width="3.47" stroke-linecap="round" stroke-linejoin="round"/><path d="M560.29,134.86 L560.30,134.64 L560.35,134.13 L560.39,133.61 L560.43,133.09 L560.48,132.56 L560.53,132.03 L560.58,131.49 L560.63,130.95 L560.63,130.88" fill="none" stroke="#7FBB24" stroke-width="3.62" stroke-linecap="round" stroke-linejoin="round"/><path d="M560.63,130.88 L560.68,130.41 L560.73,129.86 L560.78,129.31 L560.84,128.75 L560.90,128.19 L560.96,127.63 L561.02,127.05 L561.06,126.64" fill="none" stroke="#7FBB24" stroke-width="3.76" stroke-linecap="round" stroke-linejoin="round"/><path d="M561.06,126.64 L561.08,126.48 L561.15,125.90 L561.22,125.31 L561.28,124.72 L561.36,124.12 L561.43,123.52 L561.50,122.91 L561.58,122.30 L561.60,122.12" fill="none" stroke="#7FBB24" stroke-width="3.90" stroke-linecap="round" stroke-linejoin="round"/><path d="M561.60,122.12 L561.66,121.68 L561.74,121.06 L561.83,120.43 L561.92,119.79 L562.01,119.15 L562.10,118.50 L562.19,117.85 L562.28,117.29" fill="none" stroke="#7FBB24" stroke-width="4.05" stroke-linecap="round" stroke-linejoin="round"/><path d="M562.28,117.29 L562.29,117.20 L562.39,116.53 L562.50,115.86 L562.61,115.19 L562.72,114.51 L562.83,113.82 L562.95,113.13 L563.07,112.43 L563.12,112.13" fill="none" stroke="#7FBB24" stroke-width="4.19" stroke-linecap="round" stroke-linejoin="round"/><path d="M563.12,112.13 L563.19,111.73 L563.32,111.02 L563.45,110.30 L563.59,109.58 L563.73,108.86 L563.87,108.12 L564.02,107.39 L564.17,106.64" fill="none" stroke="#7FBB24" stroke-width="4.33" stroke-linecap="round" stroke-linejoin="round"/><path d="M564.17,106.64 L564.33,105.89 L564.49,105.14 L564.66,104.38 L564.83,103.61 L565.01,102.84 L565.19,102.07 L565.38,101.28 L565.49,100.83" fill="none" stroke="#7FBB24" stroke-width="4.48" stroke-linecap="round" stroke-linejoin="round"/><path d="M565.49,100.83 L565.57,100.50 L565.77,99.70 L565.98,98.91 L566.19,98.10 L566.41,97.30 L566.63,96.48 L566.86,95.67 L567.10,94.84 L567.13,94.73" fill="none" stroke="#7FBB24" stroke-width="4.62" stroke-linecap="round" stroke-linejoin="round"/><path d="M567.13,94.73 L567.34,94.02 L567.59,93.18 L567.85,92.35 L568.12,91.51 L568.40,90.66 L568.68,89.81 L568.97,88.96 L569.19,88.35" fill="none" stroke="#7FBB24" stroke-width="4.76" stroke-linecap="round" stroke-linejoin="round"/><path d="M569.19,88.35 L569.27,88.10 L569.58,87.24 L569.90,86.37 L570.23,85.50 L570.57,84.63 L570.92,83.75 L571.27,82.87 L571.64,81.99 L571.75,81.74" fill="none" stroke="#7FBB24" stroke-width="4.91" stroke-linecap="round" stroke-linejoin="round"/><path d="M571.75,81.74 L572.02,81.10 L572.42,80.21 L572.82,79.32 L573.23,78.43 L573.66,77.53 L574.10,76.63 L574.56,75.73 L574.96,74.95" fill="none" stroke="#7FBB24" stroke-width="5.00" stroke-linecap="round" stroke-linejoin="round"/><path d="M574.96,74.95 L575.02,74.82 L575.50,73.92 L576.00,73.01 L576.51,72.10 L577.04,71.19 L577.58,70.28 L578.13,69.37 L578.71,68.45 L578.96,68.06" fill="none" stroke="#7FBB24" stroke-width="5.00" stroke-linecap="round" stroke-linejoin="round"/><path d="M578.96,68.06 L579.30,67.54 L579.91,66.62 L580.54,65.71 L581.18,64.79 L581.85,63.87 L582.53,62.96 L583.24,62.04 L583.96,61.13" fill="none" stroke="#7FBB24" stroke-width="5.00" stroke-linecap="round" stroke-linejoin="round"/><path d="M583.96,61.13 L584.71,60.21 L585.48,59.30 L586.27,58.39 L587.09,57.48 L587.93,56.57 L588.80,55.67 L589.69,54.76 L590.21,54.25" fill="none" stroke="#7FBB24" stroke-width="5.00" stroke-linecap="round" stroke-linejoin="round"/><path d="M590.21,54.25 L590.61,53.86 L591.56,52.96 L592.53,52.07 L593.53,51.18 L594.57,50.29 L595.63,49.40 L596.73,48.52 L597.86,47.64 L598.02,47.52" fill="none" stroke="#7FBB24" stroke-width="5.00" stroke-linecap="round" stroke-linejoin="round"/><path d="M598.02,47.52 L599.02,46.77 L600.22,45.90 L601.45,45.04 L602.72,44.18 L604.03,43.33 L605.37,42.48 L606.76,41.64 L607.78,41.04" fill="none" stroke="#7FBB24" stroke-width="5.00" stroke-linecap="round" stroke-linejoin="round"/><path d="M607.78,41.04 L608.19,40.80 L609.66,39.98 L611.17,39.16 L612.74,38.34 L614.34,37.54 L616.00,36.74 L617.70,35.95 L619.45,35.17 L619.97,34.94" fill="none" stroke="#7FBB24" stroke-width="5.00" stroke-linecap="round" stroke-linejoin="round"/><path d="M619.97,34.94 L621.26,34.39 L623.12,33.63 L625.04,32.88 L627.01,32.13 L629.05,31.40 L631.14,30.67 L633.30,29.96 L635.19,29.36" fill="none" stroke="#7FBB24" stroke-width="5.00" stroke-linecap="round" stroke-linejoin="round"/><path d="M635.19,29.36 L635.52,29.26 L637.80,28.57 L640.16,27.89 L642.58,27.22 L645.08,26.56 L647.65,25.92 L650.30,25.29 L653.03,24.68 L654.22,24.42" fill="none" stroke="#7FBB24" stroke-width="5.00" stroke-linecap="round" stroke-linejoin="round"/><path d="M654.22,24.42 L655.84,24.08 L658.73,23.49 L661.71,22.92 L664.78,22.36 L667.94,21.82 L671.19,21.29 L674.54,20.78 L677.99,20.29" fill="none" stroke="#7FBB24" stroke-width="5.00" stroke-linecap="round" stroke-linejoin="round"/>
<line x1="399.8" y1="178.0" x2="399.8" y2="315.4" stroke="#5A5A5A" stroke-width="1"/>
<line x1="399.3" y1="314.9" x2="529.6" y2="314.9" stroke="#5A5A5A" stroke-width="1"/>
<line x1="397.0" y1="289.8" x2="399.8" y2="289.8" stroke="#5A5A5A" stroke-width="1"/>
<text x="396.40000000000003" y="292.7" font-size="6.4" text-anchor="end" font-weight="normal" fill="#333333">2000</text>
<line x1="397.0" y1="257.6333333333333" x2="399.8" y2="257.6333333333333" stroke="#5A5A5A" stroke-width="1"/>
<text x="396.40000000000003" y="260.5333333333333" font-size="6.4" text-anchor="end" font-weight="normal" fill="#333333">4000</text>
<line x1="397.0" y1="225.46666666666667" x2="399.8" y2="225.46666666666667" stroke="#5A5A5A" stroke-width="1"/>
<text x="396.40000000000003" y="228.36666666666667" font-size="6.4" text-anchor="end" font-weight="normal" fill="#333333">6000</text>
<line x1="397.0" y1="193.3" x2="399.8" y2="193.3" stroke="#5A5A5A" stroke-width="1"/>
<text x="396.40000000000003" y="196.20000000000002" font-size="6.4" text-anchor="end" font-weight="normal" fill="#333333">8000</text>
<line x1="404.4" y1="314.9" x2="404.4" y2="317.09999999999997" stroke="#5A5A5A" stroke-width="1"/>
<text x="404.4" y="323.79999999999995" font-size="6.4" text-anchor="middle" font-weight="normal" fill="#333333">0</text>
<line x1="437.90999999999997" y1="314.9" x2="437.90999999999997" y2="317.09999999999997" stroke="#5A5A5A" stroke-width="1"/>
<text x="437.90999999999997" y="323.79999999999995" font-size="6.4" text-anchor="middle" font-weight="normal" fill="#333333">300</text>
<line x1="471.41999999999996" y1="314.9" x2="471.41999999999996" y2="317.09999999999997" stroke="#5A5A5A" stroke-width="1"/>
<text x="471.41999999999996" y="323.79999999999995" font-size="6.4" text-anchor="middle" font-weight="normal" fill="#333333">600</text>
<line x1="504.92999999999995" y1="314.9" x2="504.92999999999995" y2="317.09999999999997" stroke="#5A5A5A" stroke-width="1"/>
<text x="504.92999999999995" y="323.79999999999995" font-size="6.4" text-anchor="middle" font-weight="normal" fill="#333333">900</text>
<text x="475.0" y="174.2" font-size="7.8" text-anchor="middle" font-weight="normal" fill="#1a1a1a">Unannotated molecular families</text>
<line x1="405.41" y1="303.13" x2="405.41" y2="307.13" stroke="#111" stroke-width="0.8"/><path d="M405.41,303.13 L405.44,302.99 L405.47,302.83 L405.50,302.66 L405.53,302.48 L405.57,302.28 L405.60,302.07 L405.64,301.84 L405.66,301.71" fill="none" stroke="#111" stroke-width="4.65" stroke-linecap="round" stroke-linejoin="round"/><path d="M405.66,301.71 L405.68,301.60 L405.72,301.35 L405.76,301.08 L405.80,300.80 L405.84,300.50 L405.89,300.19 L405.93,299.87 L405.98,299.54 L405.99,299.49" fill="none" stroke="#111" stroke-width="4.78" stroke-linecap="round" stroke-linejoin="round"/><path d="M405.99,299.49 L406.03,299.19 L406.08,298.83 L406.13,298.45 L406.18,298.07 L406.23,297.67 L406.29,297.26 L406.35,296.83 L406.39,296.52" fill="none" stroke="#111" stroke-width="4.90" stroke-linecap="round" stroke-linejoin="round"/><path d="M406.39,296.52 L406.41,296.40 L406.47,295.95 L406.53,295.49 L406.60,295.02 L406.66,294.53 L406.73,294.04 L406.80,293.53 L406.88,293.01 L406.90,292.86" fill="none" stroke="#111" stroke-width="5.03" stroke-linecap="round" stroke-linejoin="round"/><path d="M406.90,292.86 L406.95,292.48 L407.03,291.94 L407.11,291.39 L407.19,290.82 L407.28,290.25 L407.37,289.66 L407.46,289.07 L407.54,288.55" fill="none" stroke="#111" stroke-width="5.15" stroke-linecap="round" stroke-linejoin="round"/><path d="M407.54,288.55 L407.55,288.46 L407.65,287.84 L407.75,287.22 L407.85,286.58 L407.95,285.93 L408.06,285.28 L408.17,284.61 L408.29,283.93 L408.34,283.64" fill="none" stroke="#111" stroke-width="5.27" stroke-linecap="round" stroke-linejoin="round"/><path d="M408.34,283.64 L408.41,283.25 L408.53,282.55 L408.66,281.85 L408.79,281.14 L408.92,280.42 L409.06,279.68 L409.20,278.95 L409.35,278.20" fill="none" stroke="#111" stroke-width="5.40" stroke-linecap="round" stroke-linejoin="round"/><path d="M409.35,278.20 L409.50,277.44 L409.65,276.68 L409.81,275.91 L409.98,275.12 L410.15,274.34 L410.33,273.54 L410.51,272.74 L410.61,272.28" fill="none" stroke="#111" stroke-width="5.52" stroke-linecap="round" stroke-linejoin="round"/><path d="M410.61,272.28 L410.69,271.93 L410.89,271.11 L411.08,270.28 L411.29,269.45 L411.50,268.61 L411.71,267.77 L411.94,266.92 L412.17,266.06 L412.20,265.94" fill="none" stroke="#111" stroke-width="5.64" stroke-linecap="round" stroke-linejoin="round"/><path d="M412.20,265.94 L412.40,265.20 L412.65,264.33 L412.90,263.45 L413.16,262.57 L413.43,261.68 L413.70,260.79 L413.99,259.89 L414.20,259.25" fill="none" stroke="#111" stroke-width="5.77" stroke-linecap="round" stroke-linejoin="round"/><path d="M414.20,259.25 L414.28,258.99 L414.58,258.08 L414.89,257.17 L415.21,256.25 L415.54,255.33 L415.88,254.40 L416.23,253.47 L416.59,252.54 L416.70,252.27" fill="none" stroke="#111" stroke-width="5.89" stroke-linecap="round" stroke-linejoin="round"/><path d="M416.70,252.27 L416.97,251.60 L417.35,250.66 L417.75,249.71 L418.15,248.77 L418.57,247.81 L419.01,246.86 L419.45,245.90 L419.84,245.08" fill="none" stroke="#111" stroke-width="6.00" stroke-linecap="round" stroke-linejoin="round"/><path d="M419.84,245.08 L419.91,244.94 L420.38,243.98 L420.87,243.02 L421.38,242.05 L421.89,241.08 L422.43,240.11 L422.98,239.14 L423.55,238.16 L423.79,237.75" fill="none" stroke="#111" stroke-width="6.00" stroke-linecap="round" stroke-linejoin="round"/><path d="M423.79,237.75 L424.13,237.19 L424.73,236.21 L425.35,235.24 L425.99,234.26 L426.65,233.28 L427.33,232.30 L428.03,231.33 L428.75,230.35" fill="none" stroke="#111" stroke-width="6.00" stroke-linecap="round" stroke-linejoin="round"/><path d="M428.75,230.35 L429.50,229.37 L430.26,228.39 L431.05,227.41 L431.86,226.44 L432.70,225.46 L433.57,224.49 L434.46,223.51 L434.98,222.96" fill="none" stroke="#111" stroke-width="6.00" stroke-linecap="round" stroke-linejoin="round"/><path d="M434.98,222.96 L435.37,222.54 L436.32,221.57 L437.29,220.60 L438.30,219.64 L439.33,218.67 L440.40,217.71 L441.50,216.75 L442.63,215.80 L442.80,215.66" fill="none" stroke="#111" stroke-width="6.00" stroke-linecap="round" stroke-linejoin="round"/><path d="M442.80,215.66 L443.80,214.84 L445.00,213.89 L446.24,212.95 L447.52,212.00 L448.83,211.06 L450.19,210.13 L451.59,209.20 L452.61,208.54" fill="none" stroke="#111" stroke-width="6.00" stroke-linecap="round" stroke-linejoin="round"/><path d="M452.61,208.54 L453.03,208.27 L454.51,207.35 L456.04,206.43 L457.62,205.52 L459.24,204.61 L460.92,203.71 L462.64,202.82 L464.42,201.93 L464.94,201.67" fill="none" stroke="#111" stroke-width="6.00" stroke-linecap="round" stroke-linejoin="round"/><path d="M464.94,201.67 L466.25,201.04 L468.14,200.17 L470.09,199.29 L472.09,198.43 L474.16,197.57 L476.29,196.72 L478.48,195.88 L480.42,195.16" fill="none" stroke="#111" stroke-width="6.00" stroke-linecap="round" stroke-linejoin="round"/><path d="M480.42,195.16 L480.74,195.04 L483.07,194.21 L485.48,193.39 L487.95,192.58 L490.50,191.78 L493.13,190.98 L495.84,190.20 L498.63,189.42 L499.85,189.09" fill="none" stroke="#111" stroke-width="6.00" stroke-linecap="round" stroke-linejoin="round"/><path d="M499.85,189.09 L501.50,188.65 L504.47,187.89 L507.52,187.14 L510.67,186.40 L513.92,185.68 L517.26,184.96 L520.70,184.25 L524.25,183.55" fill="none" stroke="#111" stroke-width="6.00" stroke-linecap="round" stroke-linejoin="round"/><path d="M405.41,303.13 L405.44,302.99 L405.47,302.83 L405.50,302.66 L405.53,302.48 L405.57,302.28 L405.60,302.07 L405.64,301.84 L405.66,301.71" fill="none" stroke="#55D8CB" stroke-width="3.05" stroke-linecap="round" stroke-linejoin="round"/><path d="M405.66,301.71 L405.68,301.60 L405.72,301.35 L405.76,301.08 L405.80,300.80 L405.84,300.50 L405.89,300.19 L405.93,299.87 L405.98,299.54 L405.99,299.49" fill="none" stroke="#55D8CB" stroke-width="3.18" stroke-linecap="round" stroke-linejoin="round"/><path d="M405.99,299.49 L406.03,299.19 L406.08,298.83 L406.13,298.45 L406.18,298.07 L406.23,297.67 L406.29,297.26 L406.35,296.83 L406.39,296.52" fill="none" stroke="#55D8CB" stroke-width="3.30" stroke-linecap="round" stroke-linejoin="round"/><path d="M406.39,296.52 L406.41,296.40 L406.47,295.95 L406.53,295.49 L406.60,295.02 L406.66,294.53 L406.73,294.04 L406.80,293.53 L406.88,293.01 L406.90,292.86" fill="none" stroke="#55D8CB" stroke-width="3.43" stroke-linecap="round" stroke-linejoin="round"/><path d="M406.90,292.86 L406.95,292.48 L407.03,291.94 L407.11,291.39 L407.19,290.82 L407.28,290.25 L407.37,289.66 L407.46,289.07 L407.54,288.55" fill="none" stroke="#55D8CB" stroke-width="3.55" stroke-linecap="round" stroke-linejoin="round"/><path d="M407.54,288.55 L407.55,288.46 L407.65,287.84 L407.75,287.22 L407.85,286.58 L407.95,285.93 L408.06,285.28 L408.17,284.61 L408.29,283.93 L408.34,283.64" fill="none" stroke="#55D8CB" stroke-width="3.67" stroke-linecap="round" stroke-linejoin="round"/><path d="M408.34,283.64 L408.41,283.25 L408.53,282.55 L408.66,281.85 L408.79,281.14 L408.92,280.42 L409.06,279.68 L409.20,278.95 L409.35,278.20" fill="none" stroke="#55D8CB" stroke-width="3.80" stroke-linecap="round" stroke-linejoin="round"/><path d="M409.35,278.20 L409.50,277.44 L409.65,276.68 L409.81,275.91 L409.98,275.12 L410.15,274.34 L410.33,273.54 L410.51,272.74 L410.61,272.28" fill="none" stroke="#55D8CB" stroke-width="3.92" stroke-linecap="round" stroke-linejoin="round"/><path d="M410.61,272.28 L410.69,271.93 L410.89,271.11 L411.08,270.28 L411.29,269.45 L411.50,268.61 L411.71,267.77 L411.94,266.92 L412.17,266.06 L412.20,265.94" fill="none" stroke="#55D8CB" stroke-width="4.04" stroke-linecap="round" stroke-linejoin="round"/><path d="M412.20,265.94 L412.40,265.20 L412.65,264.33 L412.90,263.45 L413.16,262.57 L413.43,261.68 L413.70,260.79 L413.99,259.89 L414.20,259.25" fill="none" stroke="#55D8CB" stroke-width="4.17" stroke-linecap="round" stroke-linejoin="round"/><path d="M414.20,259.25 L414.28,258.99 L414.58,258.08 L414.89,257.17 L415.21,256.25 L415.54,255.33 L415.88,254.40 L416.23,253.47 L416.59,252.54 L416.70,252.27" fill="none" stroke="#55D8CB" stroke-width="4.29" stroke-linecap="round" stroke-linejoin="round"/><path d="M416.70,252.27 L416.97,251.60 L417.35,250.66 L417.75,249.71 L418.15,248.77 L418.57,247.81 L419.01,246.86 L419.45,245.90 L419.84,245.08" fill="none" stroke="#55D8CB" stroke-width="4.40" stroke-linecap="round" stroke-linejoin="round"/><path d="M419.84,245.08 L419.91,244.94 L420.38,243.98 L420.87,243.02 L421.38,242.05 L421.89,241.08 L422.43,240.11 L422.98,239.14 L423.55,238.16 L423.79,237.75" fill="none" stroke="#55D8CB" stroke-width="4.40" stroke-linecap="round" stroke-linejoin="round"/><path d="M423.79,237.75 L424.13,237.19 L424.73,236.21 L425.35,235.24 L425.99,234.26 L426.65,233.28 L427.33,232.30 L428.03,231.33 L428.75,230.35" fill="none" stroke="#55D8CB" stroke-width="4.40" stroke-linecap="round" stroke-linejoin="round"/><path d="M428.75,230.35 L429.50,229.37 L430.26,228.39 L431.05,227.41 L431.86,226.44 L432.70,225.46 L433.57,224.49 L434.46,223.51 L434.98,222.96" fill="none" stroke="#55D8CB" stroke-width="4.40" stroke-linecap="round" stroke-linejoin="round"/><path d="M434.98,222.96 L435.37,222.54 L436.32,221.57 L437.29,220.60 L438.30,219.64 L439.33,218.67 L440.40,217.71 L441.50,216.75 L442.63,215.80 L442.80,215.66" fill="none" stroke="#55D8CB" stroke-width="4.40" stroke-linecap="round" stroke-linejoin="round"/><path d="M442.80,215.66 L443.80,214.84 L445.00,213.89 L446.24,212.95 L447.52,212.00 L448.83,211.06 L450.19,210.13 L451.59,209.20 L452.61,208.54" fill="none" stroke="#55D8CB" stroke-width="4.40" stroke-linecap="round" stroke-linejoin="round"/><path d="M452.61,208.54 L453.03,208.27 L454.51,207.35 L456.04,206.43 L457.62,205.52 L459.24,204.61 L460.92,203.71 L462.64,202.82 L464.42,201.93 L464.94,201.67" fill="none" stroke="#55D8CB" stroke-width="4.40" stroke-linecap="round" stroke-linejoin="round"/><path d="M464.94,201.67 L466.25,201.04 L468.14,200.17 L470.09,199.29 L472.09,198.43 L474.16,197.57 L476.29,196.72 L478.48,195.88 L480.42,195.16" fill="none" stroke="#55D8CB" stroke-width="4.40" stroke-linecap="round" stroke-linejoin="round"/><path d="M480.42,195.16 L480.74,195.04 L483.07,194.21 L485.48,193.39 L487.95,192.58 L490.50,191.78 L493.13,190.98 L495.84,190.20 L498.63,189.42 L499.85,189.09" fill="none" stroke="#55D8CB" stroke-width="4.40" stroke-linecap="round" stroke-linejoin="round"/><path d="M499.85,189.09 L501.50,188.65 L504.47,187.89 L507.52,187.14 L510.67,186.40 L513.92,185.68 L517.26,184.96 L520.70,184.25 L524.25,183.55" fill="none" stroke="#55D8CB" stroke-width="4.40" stroke-linecap="round" stroke-linejoin="round"/>
<line x1="554.8" y1="178.0" x2="554.8" y2="315.4" stroke="#5A5A5A" stroke-width="1"/>
<line x1="554.3" y1="314.9" x2="684.5" y2="314.9" stroke="#5A5A5A" stroke-width="1"/>
<line x1="552.0" y1="314.8" x2="554.8" y2="314.8" stroke="#5A5A5A" stroke-width="1"/>
<text x="551.4" y="317.7" font-size="6.4" text-anchor="end" font-weight="normal" fill="#333333">0</text>
<line x1="552.0" y1="277.56" x2="554.8" y2="277.56" stroke="#5A5A5A" stroke-width="1"/>
<text x="551.4" y="280.46" font-size="6.4" text-anchor="end" font-weight="normal" fill="#333333">20000</text>
<line x1="552.0" y1="240.32" x2="554.8" y2="240.32" stroke="#5A5A5A" stroke-width="1"/>
<text x="551.4" y="243.22" font-size="6.4" text-anchor="end" font-weight="normal" fill="#333333">40000</text>
<line x1="552.0" y1="203.08" x2="554.8" y2="203.08" stroke="#5A5A5A" stroke-width="1"/>
<text x="551.4" y="205.98000000000002" font-size="6.4" text-anchor="end" font-weight="normal" fill="#333333">60000</text>
<line x1="558.9" y1="314.9" x2="558.9" y2="317.09999999999997" stroke="#5A5A5A" stroke-width="1"/>
<text x="558.9" y="323.79999999999995" font-size="6.4" text-anchor="middle" font-weight="normal" fill="#333333">0</text>
<line x1="592.197" y1="314.9" x2="592.197" y2="317.09999999999997" stroke="#5A5A5A" stroke-width="1"/>
<text x="592.197" y="323.79999999999995" font-size="6.4" text-anchor="middle" font-weight="normal" fill="#333333">300</text>
<line x1="625.494" y1="314.9" x2="625.494" y2="317.09999999999997" stroke="#5A5A5A" stroke-width="1"/>
<text x="625.494" y="323.79999999999995" font-size="6.4" text-anchor="middle" font-weight="normal" fill="#333333">600</text>
<line x1="658.7909999999999" y1="314.9" x2="658.7909999999999" y2="317.09999999999997" stroke="#5A5A5A" stroke-width="1"/>
<text x="658.7909999999999" y="323.79999999999995" font-size="6.4" text-anchor="middle" font-weight="normal" fill="#333333">900</text>
<text x="619.6" y="174.2" font-size="7.8" text-anchor="middle" font-weight="normal" fill="#1a1a1a">Unannotated MS2 spectra</text>
<line x1="560.12" y1="308.00" x2="560.12" y2="314.00" stroke="#111" stroke-width="0.8"/><path d="M560.12,305.80V309.82M560.29,302.59V307.72M560.45,301.93V306.11M560.62,300.87V304.29M560.79,299.16V303.61M560.95,297.76V302.23M561.12,295.83V301.05M561.29,294.61V300.20M561.45,295.71V300.93M561.62,293.86V301.52M561.79,292.35V300.19M561.95,291.66V297.73M562.12,292.76V297.86M562.29,292.17V298.50M562.45,290.72V296.47M562.62,289.74V295.95M562.78,289.36V297.86M562.95,287.77V294.19M563.12,288.36V295.06M563.28,287.86V294.08M563.45,285.28V294.59M563.62,285.30V292.59M563.78,286.04V292.54M563.95,285.66V291.81M564.12,284.93V292.64M564.28,285.35V291.62M564.45,282.94V291.40M564.62,283.19V290.66M564.78,283.88V288.65M564.95,282.34V289.19M565.12,280.49V290.09M565.28,280.65V287.19M565.45,281.31V287.12M565.61,278.78V288.39M565.78,279.13V287.20M565.95,279.34V287.56M566.11,277.55V285.37M566.28,279.13V284.83M566.45,279.23V285.77M566.61,276.97V284.47M566.78,276.86V283.98M566.95,275.18V286.60M567.11,275.52V282.57M567.28,275.08V282.66M567.45,276.21V282.91M567.61,273.30V280.85M567.78,275.08V282.17M567.95,273.59V281.30M568.11,274.44V279.92M568.28,273.88V279.46M568.45,273.70V281.15M568.61,273.21V280.00M568.78,273.13V280.27M568.94,271.75V277.31M569.11,271.69V277.54M569.28,271.60V277.98M569.44,271.12V277.68M569.61,269.29V277.25M569.78,269.31V275.91M569.94,269.69V276.46M570.11,267.86V274.62M570.28,266.25V274.80M570.44,267.92V275.88M570.61,267.88V274.66M570.78,267.76V273.42M570.94,266.72V274.99M571.11,266.78V272.43M571.28,264.96V272.65M571.44,266.33V271.98M571.61,265.50V271.20M571.77,263.53V270.93M571.94,265.56V271.01M572.11,261.08V272.69M572.27,264.21V270.71M572.44,263.47V269.49M572.61,264.11V268.96M572.77,262.50V269.87M572.94,262.86V268.58M573.11,259.61V267.84M573.27,260.84V268.57M573.44,262.30V269.63M573.61,260.92V268.69M573.77,259.74V266.94M573.94,257.56V267.11M574.11,259.04V266.40M574.27,260.62V268.14M574.44,258.37V267.79M574.61,259.69V265.23M574.77,259.40V266.12M574.94,256.99V265.44M575.10,259.02V265.03M575.27,258.21V264.08M575.44,256.84V264.44M575.60,256.75V267.28M575.77,257.65V265.07M575.94,255.56V262.99M576.10,256.16V262.53M576.27,255.50V262.34M576.44,256.61V261.87M576.60,255.36V260.92M576.77,256.08V262.89M576.94,255.33V260.31M577.10,255.43V259.84M577.27,254.28V260.90M577.44,253.00V261.80M577.60,252.69V259.76M577.77,251.54V259.36M577.93,253.80V259.62M578.10,253.35V258.52M578.27,250.88V258.85M578.43,251.36V258.85M578.60,250.52V257.48M578.77,251.54V258.43M578.93,249.06V259.18M579.10,251.31V256.89M579.27,251.26V257.74M579.43,250.80V256.11M579.60,248.45V258.17M579.77,250.13V255.23M579.93,248.92V254.96M580.10,249.20V257.49M580.27,248.44V255.17M580.43,246.20V253.96M580.60,247.02V258.01M580.77,246.78V253.41M580.93,245.70V254.32M581.10,246.91V254.76M581.26,246.39V252.62M581.43,246.78V253.06M581.60,247.71V252.60M581.76,246.70V251.73M581.93,245.87V251.93M582.10,243.26V254.71M582.26,244.80V251.89M582.43,244.28V252.62M582.60,245.38V252.07M582.76,244.20V250.61M582.93,244.45V250.49M583.10,244.83V251.06M583.26,244.48V250.04M583.43,243.45V250.79M583.60,244.40V249.91M583.76,242.82V249.86M583.93,242.44V250.46M584.09,241.99V249.93M584.26,243.43V249.29M584.43,241.58V248.10M584.59,243.13V248.52M584.76,242.10V249.40M584.93,242.68V246.86M585.09,239.38V247.02M585.26,240.14V250.45M585.43,240.96V246.50M585.59,240.35V246.68M585.76,239.18V247.89M585.93,239.57V247.46M586.09,240.55V246.07M586.26,239.83V246.40M586.43,240.26V245.08M586.59,237.77V245.45M586.76,239.62V246.33M586.92,239.80V245.05M587.09,239.45V244.92M587.26,238.28V245.90M587.42,238.69V243.97M587.59,237.57V245.23M587.76,235.63V242.93M587.92,237.44V244.47M588.09,235.66V243.87M588.26,237.45V243.84M588.42,236.62V244.04M588.59,235.81V243.10M588.76,236.71V244.95M588.92,236.09V242.35M589.09,234.69V241.41M589.26,236.58V242.13M589.42,236.17V240.92M589.59,235.61V240.36M589.76,235.88V241.21M589.92,235.60V241.48M590.09,232.97V241.52M590.25,235.19V241.19M590.42,235.22V240.54M590.59,232.77V239.95M590.75,234.81V239.13M590.92,234.40V241.21M591.09,234.15V238.83M591.25,232.97V238.53M591.42,231.57V240.12M591.59,233.20V240.67M591.75,232.23V239.44M591.92,233.06V240.02M592.09,232.95V238.29M592.25,232.47V237.28M592.42,232.83V239.59M592.59,231.71V238.60M592.75,230.97V238.47M592.92,232.17V238.12M593.08,230.71V237.91M593.25,230.94V236.78M593.42,230.73V236.06M593.58,229.29V237.21M593.75,229.30V235.96M593.92,228.55V235.55M594.08,229.20V234.78M594.25,229.90V235.69M594.42,229.03V235.31M594.58,230.17V236.00M594.75,228.71V234.88M594.92,228.75V234.76M595.08,226.89V234.31M595.25,229.00V235.15M595.42,227.78V233.64M595.58,226.59V234.47M595.75,227.94V232.85M595.92,226.65V234.19M596.08,228.09V232.91M596.25,227.82V233.35M596.41,226.70V233.71M596.58,227.88V232.12M596.75,226.50V232.85M596.91,226.88V231.56M597.08,226.11V232.36M597.25,225.02V232.01M597.41,225.77V231.46M597.58,225.05V231.52M597.75,225.84V230.73M597.91,226.01V232.28M598.08,224.73V230.27M598.25,225.63V232.80M598.41,225.93V230.51M598.58,225.93V231.31M598.75,224.38V231.45M598.91,224.79V231.60M599.08,222.30V229.42M599.24,224.95V229.19M599.41,223.85V229.40M599.58,222.75V228.70M599.74,224.12V229.58M599.91,223.11V229.12M600.08,224.30V228.16M600.24,223.99V227.98M600.41,222.05V231.93M600.58,223.18V229.55M600.74,221.56V228.55M600.91,223.32V228.52M601.08,222.65V228.82M601.24,223.07V227.39M601.41,222.67V227.53M601.58,221.36V227.36M601.74,221.52V227.14M601.91,221.29V227.93M602.08,222.06V230.03M602.24,220.72V226.85M602.41,221.37V225.87M602.57,219.52V227.69M602.74,221.13V225.62M602.91,221.24V225.61M603.07,219.64V225.28M603.24,219.12V225.47M603.41,219.53V225.47M603.57,220.32V225.36M603.74,220.89V225.20M603.91,218.35V225.74M604.07,219.80V224.62M604.24,220.09V226.64M604.41,219.71V224.04M604.57,219.21V224.72M604.74,219.74V225.73M604.91,216.72V225.16M605.07,219.40V224.66M605.24,219.51V223.13M605.40,218.59V223.78M605.57,217.40V224.31M605.74,217.58V222.74M605.90,215.50V222.48M606.07,216.60V222.92M606.24,217.93V222.21M606.40,218.06V223.33M606.57,216.93V222.17M606.74,215.89V223.01M606.90,217.31V222.54M607.07,216.55V223.07M607.24,217.71V221.89M607.40,217.56V221.49M607.57,215.07V221.69M607.74,214.50V220.82M607.90,217.07V220.73M608.07,214.71V221.92M608.24,216.74V220.56M608.40,214.47V220.73M608.57,216.41V221.78M608.73,215.79V221.75M608.90,216.32V221.16M609.07,215.79V221.25M609.23,215.77V219.94M609.40,215.76V220.18M609.57,214.57V219.42M609.73,214.75V219.14M609.90,215.03V222.09M610.07,215.18V220.52M610.23,214.99V219.31M610.40,214.65V219.27M610.57,213.07V219.31M610.73,213.58V218.84M610.90,214.29V218.48M611.07,214.42V218.18M611.23,214.34V218.11M611.40,212.93V218.64M611.56,213.57V218.11M611.73,210.73V217.43M611.90,210.78V219.64M612.06,212.98V217.88M612.23,212.66V218.60M612.40,213.13V216.96M612.56,212.27V216.80M612.73,212.51V217.24M612.90,211.67V219.39M613.06,212.90V217.30M613.23,212.43V218.18M613.40,210.76V216.30M613.56,211.33V217.92M613.73,212.45V216.02M613.90,211.40V215.82M614.06,211.50V216.60M614.23,212.02V216.30M614.39,211.10V215.80M614.56,210.12V216.56M614.73,210.07V216.27M614.89,211.01V216.50M615.06,210.96V214.91M615.23,210.64V215.43M615.39,210.95V214.87M615.56,210.85V214.75M615.73,209.66V214.84M615.89,209.27V214.79M616.06,210.28V214.77M616.23,209.86V217.55M616.39,210.15V213.83M616.56,209.38V215.30M616.73,209.62V214.63M616.89,208.91V213.66M617.06,209.51V214.30M617.23,209.49V214.25M617.39,209.33V214.53M617.56,208.44V213.73M617.72,207.21V213.60M617.89,208.90V213.80M618.06,209.11V213.20M618.22,208.45V212.65M618.39,208.20V213.10M618.56,208.87V213.12M618.72,207.67V212.78M618.89,208.00V212.53M619.06,208.33V213.39M619.22,208.12V212.15M619.39,207.90V213.77M619.56,205.79V211.71M619.72,207.70V211.32M619.89,205.33V212.53M620.06,207.08V212.16M620.22,207.30V211.41M620.39,207.72V211.02M620.55,207.02V211.41M620.72,205.62V211.78M620.89,207.18V212.77M621.05,206.04V211.59M621.22,206.93V210.82M621.39,206.32V211.09M621.55,206.05V211.29M621.72,205.75V209.89M621.89,205.02V209.79M622.05,206.03V211.21M622.22,205.47V210.21M622.39,205.80V209.66M622.55,205.77V209.94M622.72,204.22V210.02M622.89,205.19V210.97M623.05,204.83V210.57M623.22,204.97V209.11M623.39,205.33V209.28M623.55,204.77V209.30M623.72,205.24V208.71M623.88,204.33V208.63M624.05,205.25V209.09M624.22,204.29V208.54M624.38,204.16V208.46M624.55,204.07V208.82M624.72,204.75V208.54M624.88,203.52V208.78M625.05,204.56V208.33M625.22,203.64V209.79M625.38,203.47V209.42M625.55,203.95V207.95M625.72,203.04V207.31M625.88,204.02V207.27M626.05,203.69V207.04M626.22,203.77V207.06M626.38,203.35V208.04M626.55,203.80V206.82M626.71,203.17V207.39M626.88,202.19V206.88M627.05,202.57V206.97M627.21,202.90V206.32M627.38,202.89V207.91M627.55,202.72V206.88M627.71,202.83V206.08M627.88,202.14V206.65M628.05,201.00V205.94M628.21,202.30V206.19M628.38,202.02V207.27M628.55,202.26V206.06M628.71,202.23V205.61M628.88,202.39V206.03M629.05,199.62V205.71M629.21,201.11V205.26M629.38,199.79V204.93M629.55,200.08V206.94M629.71,201.75V206.00M629.88,201.01V205.45M630.04,201.17V204.55M630.21,200.42V205.13M630.38,200.16V205.74M630.54,201.41V205.31M630.71,199.48V205.82M630.88,199.77V205.34M631.04,199.48V204.10M631.21,200.87V203.92M631.38,200.73V205.22M631.54,200.76V205.55M631.71,198.66V204.45M631.88,199.61V203.81M632.04,199.71V203.39M632.21,200.14V203.49M632.38,199.84V203.97M632.54,199.50V203.15M632.71,197.97V203.78M632.87,199.38V202.91M633.04,199.32V204.15M633.21,199.88V203.57M633.37,199.59V203.60M633.54,198.59V203.87M633.71,199.05V202.66M633.87,198.28V204.05M634.04,198.96V202.36M634.21,197.62V203.60M634.37,198.45V202.21M634.54,199.08V202.32M634.71,197.71V202.72M634.87,199.04V201.82M635.04,197.63V202.19M635.21,198.89V201.81M635.37,198.43V201.55M635.54,198.01V201.36M635.71,197.37V202.00M635.87,198.40V202.57M636.04,198.40V201.77M636.20,197.09V201.72M636.37,197.84V202.70M636.54,196.85V201.51M636.70,197.50V202.12M636.87,198.06V200.97M637.04,197.38V200.81M637.20,196.31V201.89M637.37,196.73V201.00M637.54,197.20V201.84M637.70,196.78V201.08M637.87,197.28V201.12M638.04,197.05V201.77M638.20,196.09V199.96M638.37,196.63V200.69M638.54,196.71V201.16M638.70,195.96V200.19M638.87,195.42V200.20M639.03,196.86V201.61M639.20,196.81V199.79M639.37,196.18V200.10M639.53,195.23V199.91M639.70,196.45V199.59M639.87,195.76V200.02M640.03,194.78V199.36M640.20,195.95V200.49M640.37,195.78V199.01M640.53,195.15V198.82M640.70,196.13V198.99M640.87,195.44V199.98M641.03,194.80V199.33M641.20,195.37V198.81M641.37,195.10V198.86M641.53,195.29V198.87M641.70,195.16V198.70M641.87,195.32V198.77M642.03,195.36V197.95M642.20,194.48V198.63M642.36,194.62V198.15M642.53,194.43V198.63M642.70,194.44V198.78M642.86,193.40V198.54M643.03,194.29V197.71M643.20,194.34V197.86M643.36,194.88V198.48M643.53,194.52V198.42M643.70,192.29V197.27M643.86,192.42V197.42M644.03,193.68V197.02M644.20,194.48V197.96M644.36,193.46V197.02M644.53,194.24V199.04M644.70,193.46V196.65M644.86,194.25V196.81M645.03,193.26V196.52M645.19,193.17V197.36M645.36,193.61V196.57M645.53,193.21V197.43M645.69,193.40V196.54M645.86,191.83V196.87M646.03,191.97V197.14M646.19,193.47V196.61M646.36,193.32V198.22M646.53,192.39V197.01M646.69,193.30V196.83M646.86,191.77V195.79M647.03,191.06V196.98M647.19,193.15V195.83M647.36,192.93V196.35M647.53,191.70V197.05M647.69,191.24V195.51M647.86,191.42V195.40M648.02,191.46V195.67M648.19,192.29V196.46M648.36,191.73V195.39M648.52,191.78V195.50M648.69,191.21V195.30M648.86,191.16V195.53M649.02,191.22V195.47M649.19,191.68V195.02M649.36,189.93V195.46M649.52,191.34V194.91M649.69,190.49V195.76M649.86,191.08V195.05M650.02,191.49V194.46M650.19,191.51V194.67M650.36,191.51V194.90M650.52,191.49V194.41M650.69,190.78V194.62M650.86,190.83V195.59M651.02,190.47V194.23M651.19,190.44V194.93M651.35,189.32V194.60M651.52,190.17V194.94M651.69,189.16V194.16M651.85,191.08V193.87M652.02,189.85V194.02M652.19,189.88V193.84M652.35,189.60V194.17M652.52,190.45V193.27M652.69,189.89V193.28M652.85,189.90V194.51M653.02,187.83V193.29M653.19,190.18V193.24M653.35,189.60V193.23M653.52,188.67V192.86M653.69,189.73V193.49M653.85,188.50V192.67M654.02,189.70V193.70M654.18,189.20V193.36M654.35,189.24V193.22M654.52,189.61V193.30M654.68,189.48V192.36M654.85,189.45V192.93M655.02,189.26V192.52M655.18,188.78V192.20M655.35,189.40V192.13M655.52,189.55V192.13M655.68,189.40V193.83M655.85,188.50V192.41M656.02,189.24V192.53M656.18,188.47V192.54M656.35,188.87V192.73M656.52,187.73V192.67M656.68,188.63V192.62M656.85,187.94V192.54M657.02,188.29V192.12M657.18,188.94V191.78M657.35,187.94V192.43M657.51,187.92V192.03M657.68,188.58V191.94M657.85,188.49V192.09M658.01,187.73V191.82M658.18,187.35V191.69M658.35,188.51V191.89M658.51,187.83V192.05M658.68,187.59V192.32M658.85,187.92V191.53M659.01,187.87V191.22M659.18,187.01V191.12M659.35,188.04V191.18M659.51,188.09V191.45M659.68,187.78V191.00M659.85,186.70V190.48M660.01,186.99V190.46M660.18,187.36V190.62M660.34,187.07V191.26M660.51,187.70V190.80M660.68,187.26V190.97M660.84,187.27V191.16M661.01,187.14V191.47M661.18,187.28V190.35M661.34,185.66V189.74M661.51,187.35V190.22M661.68,187.06V190.10M661.84,186.46V189.57M662.01,186.48V190.73M662.18,186.10V189.46M662.34,186.48V190.60M662.51,185.46V191.20M662.68,185.59V190.51M662.84,186.78V191.30M663.01,184.92V190.35M663.18,185.54V189.26M663.34,186.25V189.01M663.51,185.81V189.09M663.67,185.19V189.20M663.84,186.38V189.96M664.01,184.62V189.28M664.17,186.11V189.19M664.34,185.81V188.99M664.51,185.76V190.15M664.67,184.45V189.17M664.84,186.03V189.62M665.01,185.68V188.54M665.17,185.43V189.07M665.34,185.94V188.32M665.51,184.21V188.52M665.67,185.48V189.64M665.84,185.41V188.34M666.01,184.00V188.35M666.17,184.95V188.90M666.34,184.13V189.13M666.50,184.15V187.95M666.67,185.49V188.09M666.84,185.17V188.07M667.00,183.34V188.23M667.17,185.30V188.51M667.34,185.30V189.75M667.50,184.89V187.88M667.67,183.62V188.20M667.84,185.05V187.92M668.00,184.92V188.10M668.17,184.49V187.97M668.34,184.91V187.39M668.50,184.60V187.23M668.67,184.26V187.81M668.84,184.76V188.03M669.00,184.36V187.21M669.17,183.91V187.54M669.34,184.26V187.07M669.50,184.48V187.06M669.67,183.79V188.18M669.83,183.65V186.92M670.00,183.55V187.06M670.17,184.19V186.79M670.33,181.89V187.56M670.50,183.31V186.90M670.67,183.66V188.60M670.83,183.76V187.47M671.00,182.95V187.02M671.17,182.61V186.59M671.33,183.54V186.85M671.50,181.54V186.55M671.67,183.78V187.49M671.83,183.44V186.17M672.00,183.12V186.14M672.17,183.43V186.56M672.33,183.61V186.50M672.50,183.41V186.02M672.66,183.16V186.76M672.83,182.91V185.99M673.00,182.44V186.27M673.16,182.31V185.92M673.33,183.32V186.18M673.50,182.61V186.23M673.66,181.40V185.79M673.83,183.07V186.41M674.00,182.78V186.45M674.16,182.04V186.37M674.33,180.04V185.38M674.50,182.79V185.48M674.66,182.05V186.31M674.83,182.64V185.21M675.00,182.24V185.34M675.16,182.37V185.87M675.33,180.60V185.97M675.49,181.42V185.35M675.66,181.15V185.31M675.83,182.05V185.07M675.99,181.92V184.91M676.16,182.09V186.05M676.33,182.26V185.94M676.49,182.15V185.22M676.66,181.39V185.39M676.83,181.61V186.55M676.99,181.72V185.18M677.16,180.75V184.86M677.33,182.06V184.85M677.49,182.10V184.47M677.66,181.55V184.74M677.83,181.73V184.84M677.99,181.38V185.19" stroke="#000" stroke-width="0.6" fill="none"/><path d="M560.12,308.00 L560.16,307.47 L560.19,306.96 L560.23,306.46 L560.27,305.97 L560.31,305.50 L560.35,305.04 L560.39,304.60 L560.42,304.35" fill="none" stroke="#111" stroke-width="5.53" stroke-linecap="round" stroke-linejoin="round"/><path d="M560.42,304.35 L560.44,304.16 L560.48,303.73 L560.53,303.32 L560.58,302.91 L560.63,302.51 L560.68,302.12 L560.73,301.74 L560.78,301.36 L560.79,301.31" fill="none" stroke="#111" stroke-width="5.67" stroke-linecap="round" stroke-linejoin="round"/><path d="M560.79,301.31 L560.84,300.99 L560.89,300.63 L560.95,300.27 L561.01,299.91 L561.07,299.56 L561.14,299.21 L561.20,298.87 L561.25,298.62" fill="none" stroke="#111" stroke-width="5.81" stroke-linecap="round" stroke-linejoin="round"/><path d="M561.25,298.62 L561.27,298.53 L561.34,298.18 L561.41,297.84 L561.48,297.50 L561.56,297.16 L561.64,296.82 L561.72,296.48 L561.80,296.14 L561.82,296.04" fill="none" stroke="#111" stroke-width="5.95" stroke-linecap="round" stroke-linejoin="round"/><path d="M561.82,296.04 L561.88,295.80 L561.97,295.45 L562.06,295.10 L562.15,294.75 L562.25,294.40 L562.34,294.04 L562.44,293.68 L562.53,293.36" fill="none" stroke="#111" stroke-width="6.09" stroke-linecap="round" stroke-linejoin="round"/><path d="M562.53,293.36 L562.55,293.31 L562.65,292.93 L562.76,292.56 L562.88,292.17 L562.99,291.78 L563.11,291.39 L563.24,290.98 L563.36,290.57 L563.42,290.39" fill="none" stroke="#111" stroke-width="6.24" stroke-linecap="round" stroke-linejoin="round"/><path d="M563.42,290.39 L563.49,290.15 L563.63,289.73 L563.77,289.30 L563.91,288.85 L564.05,288.40 L564.21,287.94 L564.36,287.47 L564.52,287.00" fill="none" stroke="#111" stroke-width="6.38" stroke-linecap="round" stroke-linejoin="round"/><path d="M564.52,287.00 L564.68,286.51 L564.85,286.01 L565.03,285.50 L565.21,284.99 L565.39,284.46 L565.58,283.92 L565.78,283.37 L565.89,283.05" fill="none" stroke="#111" stroke-width="6.52" stroke-linecap="round" stroke-linejoin="round"/><path d="M565.89,283.05 L565.98,282.81 L566.18,282.23 L566.40,281.65 L566.62,281.06 L566.84,280.45 L567.07,279.83 L567.31,279.20 L567.56,278.56 L567.59,278.46" fill="none" stroke="#111" stroke-width="6.66" stroke-linecap="round" stroke-linejoin="round"/><path d="M567.59,278.46 L567.81,277.90 L568.07,277.23 L568.34,276.55 L568.62,275.86 L568.90,275.16 L569.19,274.44 L569.49,273.71 L569.71,273.18" fill="none" stroke="#111" stroke-width="6.80" stroke-linecap="round" stroke-linejoin="round"/><path d="M569.71,273.18 L569.80,272.97 L570.12,272.21 L570.45,271.44 L570.79,270.66 L571.13,269.87 L571.49,269.06 L571.86,268.25 L572.24,267.41 L572.35,267.17" fill="none" stroke="#111" stroke-width="6.94" stroke-linecap="round" stroke-linejoin="round"/><path d="M572.35,267.17 L572.63,266.57 L573.03,265.71 L573.44,264.85 L573.87,263.96 L574.30,263.07 L574.75,262.16 L575.22,261.25 L575.63,260.45" fill="none" stroke="#111" stroke-width="7.00" stroke-linecap="round" stroke-linejoin="round"/><path d="M575.63,260.45 L575.69,260.32 L576.18,259.37 L576.69,258.42 L577.21,257.45 L577.75,256.47 L578.30,255.49 L578.86,254.49 L579.45,253.47 L579.70,253.04" fill="none" stroke="#111" stroke-width="7.00" stroke-linecap="round" stroke-linejoin="round"/><path d="M579.70,253.04 L580.05,252.45 L580.66,251.42 L581.30,250.37 L581.96,249.32 L582.63,248.25 L583.32,247.18 L584.04,246.10 L584.77,245.00" fill="none" stroke="#111" stroke-width="7.00" stroke-linecap="round" stroke-linejoin="round"/><path d="M584.77,245.00 L585.53,243.90 L586.31,242.79 L587.11,241.67 L587.93,240.54 L588.78,239.40 L589.65,238.26 L590.55,237.10 L591.08,236.44" fill="none" stroke="#111" stroke-width="7.00" stroke-linecap="round" stroke-linejoin="round"/><path d="M591.08,236.44 L591.48,235.94 L592.43,234.78 L593.41,233.60 L594.42,232.42 L595.45,231.24 L596.52,230.05 L597.62,228.85 L598.75,227.65 L598.92,227.48" fill="none" stroke="#111" stroke-width="7.00" stroke-linecap="round" stroke-linejoin="round"/><path d="M598.92,227.48 L599.92,226.44 L601.12,225.23 L602.35,224.02 L603.62,222.80 L604.93,221.58 L606.27,220.36 L607.66,219.14 L608.67,218.26" fill="none" stroke="#111" stroke-width="7.00" stroke-linecap="round" stroke-linejoin="round"/><path d="M608.67,218.26 L609.08,217.91 L610.55,216.69 L612.06,215.46 L613.61,214.24 L615.21,213.01 L616.86,211.79 L618.55,210.56 L620.30,209.34 L620.80,208.99" fill="none" stroke="#111" stroke-width="7.00" stroke-linecap="round" stroke-linejoin="round"/><path d="M620.80,208.99 L622.09,208.12 L623.94,206.91 L625.84,205.69 L627.79,204.49 L629.81,203.28 L631.88,202.08 L634.01,200.89 L635.89,199.87" fill="none" stroke="#111" stroke-width="7.00" stroke-linecap="round" stroke-linejoin="round"/><path d="M635.89,199.87 L636.21,199.71 L638.47,198.53 L640.79,197.36 L643.19,196.19 L645.65,195.04 L648.18,193.89 L650.79,192.76 L653.48,191.64 L654.65,191.16" fill="none" stroke="#111" stroke-width="7.00" stroke-linecap="round" stroke-linejoin="round"/><path d="M654.65,191.16 L656.24,190.53 L659.09,189.43 L662.02,188.34 L665.03,187.27 L668.13,186.21 L671.32,185.16 L674.61,184.13 L677.99,183.12" fill="none" stroke="#111" stroke-width="7.00" stroke-linecap="round" stroke-linejoin="round"/><path d="M560.12,308.00 L560.16,307.47 L560.19,306.96 L560.23,306.46 L560.27,305.97 L560.31,305.50 L560.35,305.04 L560.39,304.60 L560.42,304.35" fill="none" stroke="#C77CFF" stroke-width="3.33" stroke-linecap="round" stroke-linejoin="round"/><path d="M560.42,304.35 L560.44,304.16 L560.48,303.73 L560.53,303.32 L560.58,302.91 L560.63,302.51 L560.68,302.12 L560.73,301.74 L560.78,301.36 L560.79,301.31" fill="none" stroke="#C77CFF" stroke-width="3.47" stroke-linecap="round" stroke-linejoin="round"/><path d="M560.79,301.31 L560.84,300.99 L560.89,300.63 L560.95,300.27 L561.01,299.91 L561.07,299.56 L561.14,299.21 L561.20,298.87 L561.25,298.62" fill="none" stroke="#C77CFF" stroke-width="3.61" stroke-linecap="round" stroke-linejoin="round"/><path d="M561.25,298.62 L561.27,298.53 L561.34,298.18 L561.41,297.84 L561.48,297.50 L561.56,297.16 L561.64,296.82 L561.72,296.48 L561.80,296.14 L561.82,296.04" fill="none" stroke="#C77CFF" stroke-width="3.75" stroke-linecap="round" stroke-linejoin="round"/><path d="M561.82,296.04 L561.88,295.80 L561.97,295.45 L562.06,295.10 L562.15,294.75 L562.25,294.40 L562.34,294.04 L562.44,293.68 L562.53,293.36" fill="none" stroke="#C77CFF" stroke-width="3.89" stroke-linecap="round" stroke-linejoin="round"/><path d="M562.53,293.36 L562.55,293.31 L562.65,292.93 L562.76,292.56 L562.88,292.17 L562.99,291.78 L563.11,291.39 L563.24,290.98 L563.36,290.57 L563.42,290.39" fill="none" stroke="#C77CFF" stroke-width="4.04" stroke-linecap="round" stroke-linejoin="round"/><path d="M563.42,290.39 L563.49,290.15 L563.63,289.73 L563.77,289.30 L563.91,288.85 L564.05,288.40 L564.21,287.94 L564.36,287.47 L564.52,287.00" fill="none" stroke="#C77CFF" stroke-width="4.18" stroke-linecap="round" stroke-linejoin="round"/><path d="M564.52,287.00 L564.68,286.51 L564.85,286.01 L565.03,285.50 L565.21,284.99 L565.39,284.46 L565.58,283.92 L565.78,283.37 L565.89,283.05" fill="none" stroke="#C77CFF" stroke-width="4.32" stroke-linecap="round" stroke-linejoin="round"/><path d="M565.89,283.05 L565.98,282.81 L566.18,282.23 L566.40,281.65 L566.62,281.06 L566.84,280.45 L567.07,279.83 L567.31,279.20 L567.56,278.56 L567.59,278.46" fill="none" stroke="#C77CFF" stroke-width="4.46" stroke-linecap="round" stroke-linejoin="round"/><path d="M567.59,278.46 L567.81,277.90 L568.07,277.23 L568.34,276.55 L568.62,275.86 L568.90,275.16 L569.19,274.44 L569.49,273.71 L569.71,273.18" fill="none" stroke="#C77CFF" stroke-width="4.60" stroke-linecap="round" stroke-linejoin="round"/><path d="M569.71,273.18 L569.80,272.97 L570.12,272.21 L570.45,271.44 L570.79,270.66 L571.13,269.87 L571.49,269.06 L571.86,268.25 L572.24,267.41 L572.35,267.17" fill="none" stroke="#C77CFF" stroke-width="4.74" stroke-linecap="round" stroke-linejoin="round"/><path d="M572.35,267.17 L572.63,266.57 L573.03,265.71 L573.44,264.85 L573.87,263.96 L574.30,263.07 L574.75,262.16 L575.22,261.25 L575.63,260.45" fill="none" stroke="#C77CFF" stroke-width="4.80" stroke-linecap="round" stroke-linejoin="round"/><path d="M575.63,260.45 L575.69,260.32 L576.18,259.37 L576.69,258.42 L577.21,257.45 L577.75,256.47 L578.30,255.49 L578.86,254.49 L579.45,253.47 L579.70,253.04" fill="none" stroke="#C77CFF" stroke-width="4.80" stroke-linecap="round" stroke-linejoin="round"/><path d="M579.70,253.04 L580.05,252.45 L580.66,251.42 L581.30,250.37 L581.96,249.32 L582.63,248.25 L583.32,247.18 L584.04,246.10 L584.77,245.00" fill="none" stroke="#C77CFF" stroke-width="4.80" stroke-linecap="round" stroke-linejoin="round"/><path d="M584.77,245.00 L585.53,243.90 L586.31,242.79 L587.11,241.67 L587.93,240.54 L588.78,239.40 L589.65,238.26 L590.55,237.10 L591.08,236.44" fill="none" stroke="#C77CFF" stroke-width="4.80" stroke-linecap="round" stroke-linejoin="round"/><path d="M591.08,236.44 L591.48,235.94 L592.43,234.78 L593.41,233.60 L594.42,232.42 L595.45,231.24 L596.52,230.05 L597.62,228.85 L598.75,227.65 L598.92,227.48" fill="none" stroke="#C77CFF" stroke-width="4.80" stroke-linecap="round" stroke-linejoin="round"/><path d="M598.92,227.48 L599.92,226.44 L601.12,225.23 L602.35,224.02 L603.62,222.80 L604.93,221.58 L606.27,220.36 L607.66,219.14 L608.67,218.26" fill="none" stroke="#C77CFF" stroke-width="4.80" stroke-linecap="round" stroke-linejoin="round"/><path d="M608.67,218.26 L609.08,217.91 L610.55,216.69 L612.06,215.46 L613.61,214.24 L615.21,213.01 L616.86,211.79 L618.55,210.56 L620.30,209.34 L620.80,208.99" fill="none" stroke="#C77CFF" stroke-width="4.80" stroke-linecap="round" stroke-linejoin="round"/><path d="M620.80,208.99 L622.09,208.12 L623.94,206.91 L625.84,205.69 L627.79,204.49 L629.81,203.28 L631.88,202.08 L634.01,200.89 L635.89,199.87" fill="none" stroke="#C77CFF" stroke-width="4.80" stroke-linecap="round" stroke-linejoin="round"/><path d="M635.89,199.87 L636.21,199.71 L638.47,198.53 L640.79,197.36 L643.19,196.19 L645.65,195.04 L648.18,193.89 L650.79,192.76 L653.48,191.64 L654.65,191.16" fill="none" stroke="#C77CFF" stroke-width="4.80" stroke-linecap="round" stroke-linejoin="round"/><path d="M654.65,191.16 L656.24,190.53 L659.09,189.43 L662.02,188.34 L665.03,187.27 L668.13,186.21 L671.32,185.16 L674.61,184.13 L677.99,183.12" fill="none" stroke="#C77CFF" stroke-width="4.80" stroke-linecap="round" stroke-linejoin="round"/>
<text x="550" y="332.4" font-size="7.8" text-anchor="middle" font-weight="normal" fill="#000">Number of microbial strains</text>
<text x="121.3" y="368.4" font-size="13.5" text-anchor="start" font-weight="bold" fill="#000">c</text>
<text x="161.3" y="368.5" font-size="11.6" text-anchor="start" font-weight="normal" fill="#000">Culture media</text>
<rect x="161.9" y="376.6" width="11.8" height="11.8" fill="#8BFA7E" stroke="#4a4a4a" stroke-width="0.9"/>
<text x="181.8" y="385.9" font-size="8.3" text-anchor="start" font-weight="normal" fill="#000">CZP</text>
<rect x="161.9" y="390.5" width="11.8" height="11.8" fill="#DD99E4" stroke="#4a4a4a" stroke-width="0.9"/>
<text x="181.8" y="399.8" font-size="8.3" text-anchor="start" font-weight="normal" fill="#000">ISP−2</text>
<rect x="161.9" y="404.4" width="11.8" height="11.8" fill="#E1EC74" stroke="#4a4a4a" stroke-width="0.9"/>
<text x="181.8" y="413.7" font-size="8.3" text-anchor="start" font-weight="normal" fill="#000">ISP−4</text>
<rect x="161.9" y="418.3" width="11.8" height="11.8" fill="#66B4DF" stroke="#4a4a4a" stroke-width="0.9"/>
<text x="181.8" y="427.59999999999997" font-size="8.3" text-anchor="start" font-weight="normal" fill="#000">NSG</text>
<rect x="161.9" y="432.0" width="11.8" height="11.8" fill="#C88A64" stroke="#4a4a4a" stroke-width="0.9"/>
<text x="181.8" y="441.3" font-size="8.3" text-anchor="start" font-weight="normal" fill="#000">TSA</text>
<line x1="285.4" y1="363.0" x2="285.4" y2="591.9" stroke="#5A5A5A" stroke-width="1"/>
<line x1="284.9" y1="591.4" x2="526.2" y2="591.4" stroke="#5A5A5A" stroke-width="1"/>
<line x1="282.6" y1="591.3" x2="285.4" y2="591.3" stroke="#5A5A5A" stroke-width="1"/>
<text x="279.5" y="594.0999999999999" font-size="6.4" text-anchor="end" font-weight="normal" fill="#333333">0.00</text>
<line x1="282.6" y1="534.3" x2="285.4" y2="534.3" stroke="#5A5A5A" stroke-width="1"/>
<text x="279.5" y="537.0999999999999" font-size="6.4" text-anchor="end" font-weight="normal" fill="#333333">0.25</text>
<line x1="282.6" y1="477.29999999999995" x2="285.4" y2="477.29999999999995" stroke="#5A5A5A" stroke-width="1"/>
<text x="279.5" y="480.09999999999997" font-size="6.4" text-anchor="end" font-weight="normal" fill="#333333">0.50</text>
<line x1="282.6" y1="420.29999999999995" x2="285.4" y2="420.29999999999995" stroke="#5A5A5A" stroke-width="1"/>
<text x="279.5" y="423.09999999999997" font-size="6.4" text-anchor="end" font-weight="normal" fill="#333333">0.75</text>
<line x1="282.6" y1="363.29999999999995" x2="285.4" y2="363.29999999999995" stroke="#5A5A5A" stroke-width="1"/>
<text x="279.5" y="366.09999999999997" font-size="6.4" text-anchor="end" font-weight="normal" fill="#333333">1.00</text>
<text x="256.4" y="472.8" font-size="12.4" text-anchor="middle" font-weight="normal" fill="#000" transform="rotate(-90 256.4 472.8)">Normalized (max = 1)</text>
<rect x="287.50" y="363.30" width="21.7" height="43.60" fill="#8BFA7E"/>
<rect x="287.50" y="406.90" width="21.7" height="70.80" fill="#DD99E4"/>
<rect x="287.50" y="477.70" width="21.7" height="23.10" fill="#E1EC74"/>
<rect x="287.50" y="500.80" width="21.7" height="43.20" fill="#66B4DF"/>
<rect x="287.50" y="544.00" width="21.7" height="45.60" fill="#C88A64"/>
<text x="300.55" y="602.3" font-size="7.8" text-anchor="end" font-weight="normal" fill="#333333" transform="rotate(-45 300.55 602.3)">Alkaloids</text>
<rect x="311.63" y="363.30" width="21.7" height="28.50" fill="#8BFA7E"/>
<rect x="311.63" y="391.80" width="21.7" height="71.00" fill="#DD99E4"/>
<rect x="311.63" y="462.80" width="21.7" height="28.30" fill="#E1EC74"/>
<rect x="311.63" y="491.10" width="21.7" height="56.60" fill="#66B4DF"/>
<rect x="311.63" y="547.70" width="21.7" height="41.90" fill="#C88A64"/>
<text x="324.68" y="602.3" font-size="7.8" text-anchor="end" font-weight="normal" fill="#333333" transform="rotate(-45 324.68 602.3)">Alkaloids|Amino acids and Peptides</text>
<rect x="335.76" y="363.30" width="21.7" height="56.70" fill="#8BFA7E"/>
<rect x="335.76" y="420.00" width="21.7" height="57.00" fill="#DD99E4"/>
<rect x="335.76" y="477.00" width="21.7" height="56.50" fill="#66B4DF"/>
<rect x="335.76" y="533.50" width="21.7" height="56.10" fill="#C88A64"/>
<text x="348.81" y="602.3" font-size="7.8" text-anchor="end" font-weight="normal" fill="#333333" transform="rotate(-45 348.81 602.3)">Alkaloids|Fatty acids</text>
<rect x="359.89" y="363.30" width="21.7" height="39.70" fill="#8BFA7E"/>
<rect x="359.89" y="403.00" width="21.7" height="59.00" fill="#DD99E4"/>
<rect x="359.89" y="462.00" width="21.7" height="18.80" fill="#E1EC74"/>
<rect x="359.89" y="480.80" width="21.7" height="52.00" fill="#66B4DF"/>
<rect x="359.89" y="532.80" width="21.7" height="56.80" fill="#C88A64"/>
<text x="372.94" y="602.3" font-size="7.8" text-anchor="end" font-weight="normal" fill="#333333" transform="rotate(-45 372.94 602.3)">Amino acids and Peptides</text>
<rect x="384.02" y="363.30" width="21.7" height="46.10" fill="#8BFA7E"/>
<rect x="384.02" y="409.40" width="21.7" height="54.30" fill="#DD99E4"/>
<rect x="384.02" y="463.70" width="21.7" height="34.30" fill="#E1EC74"/>
<rect x="384.02" y="498.00" width="21.7" height="46.10" fill="#66B4DF"/>
<rect x="384.02" y="544.10" width="21.7" height="45.50" fill="#C88A64"/>
<text x="397.07" y="602.3" font-size="7.8" text-anchor="end" font-weight="normal" fill="#333333" transform="rotate(-45 397.07 602.3)">Amino acids and Peptides|Polyketides</text>
<rect x="408.15" y="363.30" width="21.7" height="39.70" fill="#8BFA7E"/>
<rect x="408.15" y="403.00" width="21.7" height="59.60" fill="#DD99E4"/>
<rect x="408.15" y="462.60" width="21.7" height="39.50" fill="#E1EC74"/>
<rect x="408.15" y="502.10" width="21.7" height="48.40" fill="#66B4DF"/>
<rect x="408.15" y="550.50" width="21.7" height="39.10" fill="#C88A64"/>
<text x="421.2" y="602.3" font-size="7.8" text-anchor="end" font-weight="normal" fill="#333333" transform="rotate(-45 421.2 602.3)">Carbohydrates</text>
<rect x="432.28" y="363.30" width="21.7" height="31.20" fill="#8BFA7E"/>
<rect x="432.28" y="394.50" width="21.7" height="67.50" fill="#DD99E4"/>
<rect x="432.28" y="462.00" width="21.7" height="25.40" fill="#E1EC74"/>
<rect x="432.28" y="487.40" width="21.7" height="44.40" fill="#66B4DF"/>
<rect x="432.28" y="531.80" width="21.7" height="57.80" fill="#C88A64"/>
<text x="445.33" y="602.3" font-size="7.8" text-anchor="end" font-weight="normal" fill="#333333" transform="rotate(-45 445.33 602.3)">Fatty acids</text>
<rect x="456.41" y="363.30" width="21.7" height="47.60" fill="#8BFA7E"/>
<rect x="456.41" y="410.90" width="21.7" height="67.20" fill="#DD99E4"/>
<rect x="456.41" y="478.10" width="21.7" height="34.90" fill="#E1EC74"/>
<rect x="456.41" y="513.00" width="21.7" height="47.20" fill="#66B4DF"/>
<rect x="456.41" y="560.20" width="21.7" height="29.40" fill="#C88A64"/>
<text x="469.46" y="602.3" font-size="7.8" text-anchor="end" font-weight="normal" fill="#333333" transform="rotate(-45 469.46 602.3)">Polyketides</text>
<rect x="480.54" y="363.30" width="21.7" height="30.70" fill="#8BFA7E"/>
<rect x="480.54" y="394.00" width="21.7" height="61.40" fill="#DD99E4"/>
<rect x="480.54" y="455.40" width="21.7" height="65.40" fill="#E1EC74"/>
<rect x="480.54" y="520.80" width="21.7" height="46.10" fill="#66B4DF"/>
<rect x="480.54" y="566.90" width="21.7" height="22.70" fill="#C88A64"/>
<text x="493.59" y="602.3" font-size="7.8" text-anchor="end" font-weight="normal" fill="#333333" transform="rotate(-45 493.59 602.3)">Shikimates and Phenylpropanoids</text>
<rect x="504.67" y="363.30" width="21.7" height="26.70" fill="#8BFA7E"/>
<rect x="504.67" y="390.00" width="21.7" height="85.90" fill="#DD99E4"/>
<rect x="504.67" y="475.90" width="21.7" height="83.20" fill="#E1EC74"/>
<rect x="504.67" y="559.10" width="21.7" height="20.70" fill="#66B4DF"/>
<rect x="504.67" y="579.80" width="21.7" height="9.80" fill="#C88A64"/>
<text x="517.72" y="602.3" font-size="7.8" text-anchor="end" font-weight="normal" fill="#333333" transform="rotate(-45 517.72 602.3)">Terpenoids</text>
</svg></body></html>
